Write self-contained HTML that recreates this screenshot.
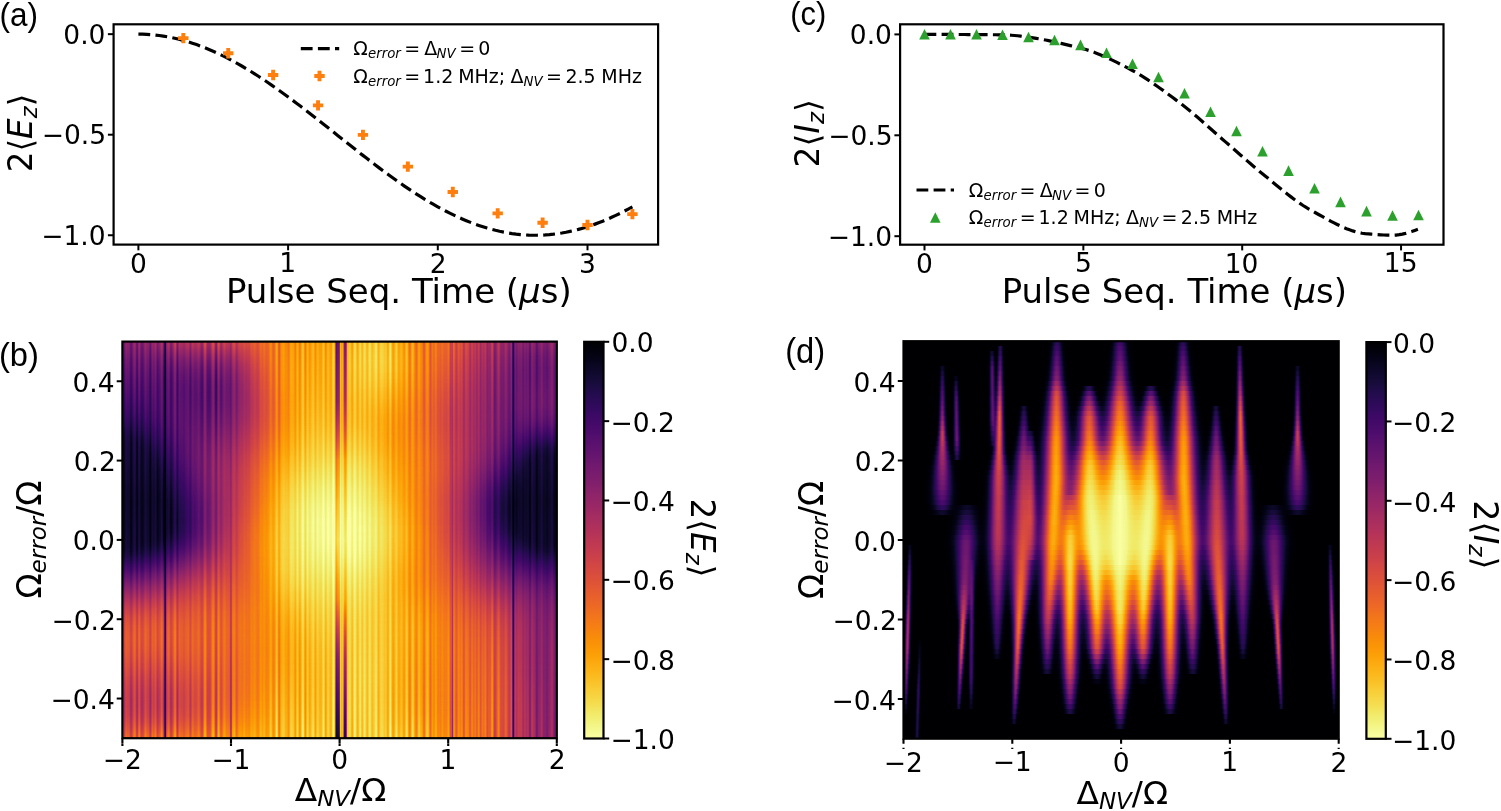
<!DOCTYPE html>
<html><head><meta charset="utf-8"><title>Figure</title>
<style>html,body{margin:0;padding:0;background:#fff;overflow:hidden}svg{display:block}text{font-family:"DejaVu Sans","Liberation Sans",sans-serif;fill:#000}</style>
</head><body>
<svg width="1501" height="811" viewBox="0 0 1501 811">
<rect width="1501" height="811" fill="#fff"/>
<polyline points="138.40,34.15 142.55,34.20 146.70,34.37 150.85,34.64 155.01,35.02 159.16,35.51 163.31,36.10 167.46,36.80 171.61,37.61 175.76,38.52 179.91,39.53 184.06,40.65 188.22,41.87 192.37,43.19 196.52,44.61 200.67,46.13 204.82,47.74 208.97,49.45 213.12,51.25 217.28,53.14 221.43,55.11 225.58,57.18 229.73,59.32 233.88,61.55 238.03,63.86 242.18,66.24 246.33,68.70 250.49,71.23 254.64,73.83 258.79,76.49 262.94,79.22 267.09,82.00 271.24,84.84 275.39,87.74 279.55,90.69 283.70,93.69 287.85,96.72 292.00,99.81 296.15,102.92 300.30,106.08 304.45,109.26 308.61,112.47 312.76,115.71 316.91,118.96 321.06,122.24 325.21,125.52 329.36,128.82 333.51,132.12 337.66,135.43 341.82,138.73 345.97,142.03 350.12,145.32 354.27,148.60 358.42,151.87 362.57,155.12 366.72,158.34 370.88,161.54 375.03,164.71 379.18,167.85 383.33,170.95 387.48,174.02 391.63,177.04 395.78,180.01 399.93,182.94 404.09,185.81 408.24,188.63 412.39,191.39 416.54,194.09 420.69,196.72 424.84,199.29 428.99,201.79 433.15,204.22 437.30,206.57 441.45,208.84 445.60,211.03 449.75,213.14 453.90,215.17 458.05,217.10 462.20,218.95 466.36,220.71 470.51,222.38 474.66,223.95 478.81,225.42 482.96,226.80 487.11,228.08 491.26,229.25 495.42,230.32 499.57,231.29 503.72,232.16 507.87,232.92 512.02,233.57 516.17,234.12 520.32,234.56 524.48,234.89 528.63,235.12 532.78,235.23 536.93,235.24 541.08,235.14 545.23,234.93 549.38,234.61 553.53,234.18 557.69,233.65 561.84,233.01 565.99,232.26 570.14,231.40 574.29,230.45 578.44,229.39 582.59,228.22 586.75,226.96 590.90,225.59 595.05,224.13 599.20,222.57 603.35,220.92 607.50,219.17 611.65,217.33 615.80,215.41 619.96,213.39 624.11,211.29 628.26,209.11 632.41,206.85" fill="none" stroke="#000" stroke-width="3.2" stroke-dasharray="11.8 5.3"/><path d="M181.36 32.97h3.9v3.25h3.25v3.9h-3.25v3.25h-3.9v-3.25h-3.25v-3.9h3.25z" fill="#ff7f0e"/><path d="M226.27 48.05h3.9v3.25h3.25v3.9h-3.25v3.25h-3.9v-3.25h-3.25v-3.9h3.25z" fill="#ff7f0e"/><path d="M271.18 69.77h3.9v3.25h3.25v3.9h-3.25v3.25h-3.9v-3.25h-3.25v-3.9h3.25z" fill="#ff7f0e"/><path d="M316.09 100.14h3.9v3.25h3.25v3.9h-3.25v3.25h-3.9v-3.25h-3.25v-3.9h3.25z" fill="#ff7f0e"/><path d="M361.00 129.70h3.9v3.25h3.25v3.9h-3.25v3.25h-3.9v-3.25h-3.25v-3.9h3.25z" fill="#ff7f0e"/><path d="M405.91 161.47h3.9v3.25h3.25v3.9h-3.25v3.25h-3.9v-3.25h-3.25v-3.9h3.25z" fill="#ff7f0e"/><path d="M450.82 186.81h3.9v3.25h3.25v3.9h-3.25v3.25h-3.9v-3.25h-3.25v-3.9h3.25z" fill="#ff7f0e"/><path d="M495.73 208.13h3.9v3.25h3.25v3.9h-3.25v3.25h-3.9v-3.25h-3.25v-3.9h3.25z" fill="#ff7f0e"/><path d="M540.64 217.58h3.9v3.25h3.25v3.9h-3.25v3.25h-3.9v-3.25h-3.25v-3.9h3.25z" fill="#ff7f0e"/><path d="M585.55 219.79h3.9v3.25h3.25v3.9h-3.25v3.25h-3.9v-3.25h-3.25v-3.9h3.25z" fill="#ff7f0e"/><path d="M630.46 208.93h3.9v3.25h3.25v3.9h-3.25v3.25h-3.9v-3.25h-3.25v-3.9h3.25z" fill="#ff7f0e"/><rect x="113.60" y="24.30" width="544.50" height="220.30" fill="none" stroke="#000" stroke-width="2.2"/><line x1="138.40" y1="244.60" x2="138.40" y2="250.30" stroke="#000" stroke-width="2.0"/><line x1="288.10" y1="244.60" x2="288.10" y2="250.30" stroke="#000" stroke-width="2.0"/><line x1="437.80" y1="244.60" x2="437.80" y2="250.30" stroke="#000" stroke-width="2.0"/><line x1="587.50" y1="244.60" x2="587.50" y2="250.30" stroke="#000" stroke-width="2.0"/><line x1="113.60" y1="34.15" x2="107.90" y2="34.15" stroke="#000" stroke-width="2.0"/><line x1="113.60" y1="134.70" x2="107.90" y2="134.70" stroke="#000" stroke-width="2.0"/><line x1="113.60" y1="235.25" x2="107.90" y2="235.25" stroke="#000" stroke-width="2.0"/><line x1="300.8" y1="48.6" x2="339.2" y2="48.6" stroke="#000" stroke-width="3.2" stroke-dasharray="11.8 5.3"/><path d="M317.55 70.80h3.9v3.25h3.25v3.9h-3.25v3.25h-3.9v-3.25h-3.25v-3.9h3.25z" fill="#ff7f0e"/><polyline points="924.50,34.40 927.60,34.40 930.71,34.40 933.81,34.41 936.91,34.41 940.02,34.42 943.12,34.43 946.22,34.44 949.32,34.45 952.43,34.46 955.53,34.47 958.63,34.49 961.74,34.50 964.84,34.52 967.94,34.54 971.05,34.56 974.15,34.58 977.25,34.60 980.36,34.63 983.46,34.65 986.56,34.68 989.66,34.70 992.77,34.73 995.87,34.76 998.97,34.79 1002.08,34.83 1005.18,34.93 1008.28,35.07 1011.39,35.26 1014.49,35.50 1017.59,35.78 1020.70,36.11 1023.80,36.48 1026.90,36.89 1030.00,37.33 1033.11,37.81 1036.21,38.33 1039.31,38.87 1042.42,39.45 1045.52,40.05 1048.62,40.68 1051.73,41.33 1054.83,42.00 1057.93,42.69 1061.04,43.40 1064.14,44.13 1067.24,44.87 1070.34,45.62 1073.45,46.38 1076.55,47.14 1079.65,47.92 1082.76,48.70 1085.86,49.55 1088.96,50.50 1092.07,51.55 1095.17,52.68 1098.27,53.89 1101.37,55.17 1104.48,56.52 1107.58,57.92 1110.68,59.38 1113.79,60.88 1116.89,62.42 1119.99,63.99 1123.10,65.58 1126.20,67.19 1129.30,68.81 1132.41,70.48 1135.51,72.23 1138.61,74.05 1141.71,75.93 1144.82,77.89 1147.92,79.90 1151.02,81.96 1154.13,84.07 1157.23,86.23 1160.33,88.43 1163.44,90.67 1166.54,92.94 1169.64,95.23 1172.75,97.55 1175.85,99.89 1178.95,102.23 1182.05,104.59 1185.16,107.00 1188.26,109.49 1191.36,112.04 1194.47,114.66 1197.57,117.32 1200.67,120.02 1203.78,122.75 1206.88,125.50 1209.98,128.26 1213.09,131.01 1216.19,133.76 1219.29,136.48 1222.39,139.17 1225.50,141.85 1228.60,144.55 1231.70,147.27 1234.81,150.00 1237.91,152.73 1241.01,155.46 1244.12,158.18 1247.22,160.89 1250.32,163.58 1253.43,166.24 1256.53,168.87 1259.63,171.45 1262.73,173.99 1265.84,176.50 1268.94,179.03 1272.04,181.58 1275.15,184.14 1278.25,186.70 1281.35,189.24 1284.46,191.75 1287.56,194.21 1290.66,196.63 1293.77,198.98 1296.87,201.25 1299.97,203.43 1303.07,205.51 1306.18,207.47 1309.28,209.31 1312.38,211.02 1315.49,212.75 1318.59,214.48 1321.69,216.22 1324.80,217.95 1327.90,219.65 1331.00,221.31 1334.11,222.93 1337.21,224.48 1340.31,225.96 1343.41,227.36 1346.52,228.65 1349.62,229.84 1352.72,230.90 1355.83,231.82 1358.93,232.60 1362.03,233.21 1365.14,233.65 1368.24,233.93 1371.34,234.19 1374.45,234.43 1377.55,234.64 1380.65,234.83 1383.75,234.98 1386.86,235.10 1389.96,235.17 1393.06,235.19 1396.17,235.05 1399.27,234.69 1402.37,234.13 1405.48,233.40 1408.58,232.53 1411.68,231.55 1414.79,230.47 1417.89,229.34" fill="none" stroke="#000" stroke-width="3.2" stroke-dasharray="11.8 5.3"/><path d="M924.50 29.00L929.80 39.60L919.20 39.60z" fill="#2ca02c"/><path d="M950.50 29.00L955.80 39.60L945.20 39.60z" fill="#2ca02c"/><path d="M976.50 29.00L981.80 39.60L971.20 39.60z" fill="#2ca02c"/><path d="M1002.50 29.44L1007.80 40.04L997.20 40.04z" fill="#2ca02c"/><path d="M1028.50 31.64L1033.80 42.24L1023.20 42.24z" fill="#2ca02c"/><path d="M1054.51 34.72L1059.81 45.32L1049.21 45.32z" fill="#2ca02c"/><path d="M1080.51 39.55L1085.81 50.15L1075.21 50.15z" fill="#2ca02c"/><path d="M1106.51 47.47L1111.81 58.07L1101.21 58.07z" fill="#2ca02c"/><path d="M1132.51 58.46L1137.81 69.06L1127.21 69.06z" fill="#2ca02c"/><path d="M1158.51 71.66L1163.81 82.26L1153.21 82.26z" fill="#2ca02c"/><path d="M1184.51 87.93L1189.81 98.53L1179.21 98.53z" fill="#2ca02c"/><path d="M1210.51 106.40L1215.81 117.00L1205.21 117.00z" fill="#2ca02c"/><path d="M1236.51 125.75L1241.81 136.35L1231.21 136.35z" fill="#2ca02c"/><path d="M1262.52 145.98L1267.82 156.58L1257.22 156.58z" fill="#2ca02c"/><path d="M1288.52 165.32L1293.82 175.92L1283.22 175.92z" fill="#2ca02c"/><path d="M1314.52 182.91L1319.82 193.51L1309.22 193.51z" fill="#2ca02c"/><path d="M1340.52 196.55L1345.82 207.15L1335.22 207.15z" fill="#2ca02c"/><path d="M1366.52 205.78L1371.82 216.38L1361.22 216.38z" fill="#2ca02c"/><path d="M1392.52 210.18L1397.82 220.78L1387.22 220.78z" fill="#2ca02c"/><path d="M1418.52 209.74L1423.82 220.34L1413.22 220.34z" fill="#2ca02c"/><rect x="900.10" y="24.30" width="543.40" height="220.40" fill="none" stroke="#000" stroke-width="2.2"/><line x1="924.50" y1="244.70" x2="924.50" y2="250.40" stroke="#000" stroke-width="2.0"/><line x1="1083.35" y1="244.70" x2="1083.35" y2="250.40" stroke="#000" stroke-width="2.0"/><line x1="1242.20" y1="244.70" x2="1242.20" y2="250.40" stroke="#000" stroke-width="2.0"/><line x1="1401.05" y1="244.70" x2="1401.05" y2="250.40" stroke="#000" stroke-width="2.0"/><line x1="900.10" y1="34.40" x2="894.40" y2="34.40" stroke="#000" stroke-width="2.0"/><line x1="900.10" y1="135.30" x2="894.40" y2="135.30" stroke="#000" stroke-width="2.0"/><line x1="900.10" y1="236.20" x2="894.40" y2="236.20" stroke="#000" stroke-width="2.0"/><line x1="916.5" y1="190.0" x2="954.0" y2="190.0" stroke="#000" stroke-width="3.2" stroke-dasharray="11.8 5.3"/><path d="M935.30 212.20L940.60 222.80L930.00 222.80z" fill="#2ca02c"/><text font-size="19.0"><tspan x="353.28" y="54.90">Ω</tspan><tspan x="368.09" y="57.90" font-style="oblique" font-size="13.3">error</tspan><tspan x="404.19" y="54.90">=</tspan><tspan x="424.25" y="54.90">Δ</tspan><tspan x="436.54" y="57.90" font-style="oblique" font-size="13.3">NV</tspan><tspan x="459.19" y="54.90">=</tspan><tspan x="478.25" y="54.90">0</tspan></text><text font-size="19.0"><tspan x="353.28" y="82.60">Ω</tspan><tspan x="368.09" y="85.60" font-style="oblique" font-size="13.3">error</tspan><tspan x="404.29" y="82.60">=</tspan><tspan x="423.11" y="82.60">1.2</tspan><tspan x="458.14" y="82.60">MHz;</tspan><tspan x="510.55" y="82.60">Δ</tspan><tspan x="523.54" y="85.60" font-style="oblique" font-size="13.3">NV</tspan><tspan x="545.99" y="82.60">=</tspan><tspan x="565.41" y="82.60">2.5</tspan><tspan x="601.24" y="82.60">MHz</tspan></text><text font-size="19.0"><tspan x="968.68" y="196.64">Ω</tspan><tspan x="983.49" y="199.64" font-style="oblique" font-size="13.3">error</tspan><tspan x="1019.59" y="196.64">=</tspan><tspan x="1039.65" y="196.64">Δ</tspan><tspan x="1051.94" y="199.64" font-style="oblique" font-size="13.3">NV</tspan><tspan x="1074.59" y="196.64">=</tspan><tspan x="1093.65" y="196.64">0</tspan></text><text font-size="19.0"><tspan x="968.68" y="224.34">Ω</tspan><tspan x="983.49" y="227.34" font-style="oblique" font-size="13.3">error</tspan><tspan x="1019.69" y="224.34">=</tspan><tspan x="1038.51" y="224.34">1.2</tspan><tspan x="1073.54" y="224.34">MHz;</tspan><tspan x="1125.95" y="224.34">Δ</tspan><tspan x="1138.94" y="227.34" font-style="oblique" font-size="13.3">NV</tspan><tspan x="1161.39" y="224.34">=</tspan><tspan x="1180.81" y="224.34">2.5</tspan><tspan x="1216.64" y="224.34">MHz</tspan></text><filter id="blb" filterUnits="userSpaceOnUse" x="88.0" y="307.0" width="502.4" height="464.6" color-interpolation-filters="sRGB"><feGaussianBlur stdDeviation="3.5 4.5"/></filter><filter id="cmb" filterUnits="userSpaceOnUse" x="122.4" y="341.6" width="434.4" height="396.6" color-interpolation-filters="sRGB"><feComponentTransfer><feFuncR type="table" tableValues="0.0015 0.0023 0.0033 0.0045 0.006 0.0077 0.0096 0.0117 0.014 0.0166 0.0194 0.0224 0.0258 0.0294 0.0334 0.0377 0.0423 0.0469 0.0516 0.0564 0.0613 0.0663 0.0714 0.0766 0.082 0.0874 0.093 0.0987 0.1046 0.1105 0.1167 0.1229 0.1293 0.1358 0.1424 0.1491 0.1558 0.1627 0.1696 0.1765 0.1834 0.1904 0.1973 0.2042 0.2111 0.2179 0.2248 0.2315 0.2383 0.245 0.2516 0.2582 0.2648 0.2713 0.2778 0.2843 0.2908 0.2972 0.3036 0.3099 0.3163 0.3226 0.3289 0.3352 0.3415 0.3478 0.354 0.3603 0.3665 0.3728 0.379 0.3852 0.3915 0.3977 0.4039 0.4101 0.4163 0.4225 0.4288 0.435 0.4412 0.4474 0.4537 0.4599 0.4661 0.4723 0.4786 0.4848 0.491 0.4973 0.5035 0.5097 0.516 0.5222 0.5284 0.5347 0.5409 0.5472 0.5534 0.5596 0.5659 0.5721 0.5783 0.5845 0.5907 0.5969 0.6031 0.6093 0.6155 0.6217 0.6278 0.634 0.6401 0.6463 0.6524 0.6585 0.6645 0.6706 0.6766 0.6827 0.6887 0.6946 0.7006 0.7065 0.7124 0.7183 0.7241 0.7299 0.7357 0.7414 0.7471 0.7528 0.7584 0.764 0.7696 0.7751 0.7805 0.7859 0.7913 0.7966 0.8019 0.8071 0.8122 0.8173 0.8224 0.8274 0.8323 0.8372 0.842 0.8467 0.8514 0.856 0.8605 0.865 0.8694 0.8737 0.878 0.8822 0.8863 0.8903 0.8943 0.8982 0.902 0.9057 0.9094 0.913 0.9165 0.9199 0.9232 0.9265 0.9296 0.9327 0.9357 0.9387 0.9415 0.9443 0.947 0.9496 0.9521 0.9545 0.9569 0.9591 0.9613 0.9634 0.9654 0.9673 0.9692 0.9709 0.9726 0.9742 0.9757 0.9771 0.9784 0.9797 0.9808 0.9819 0.9829 0.9838 0.9846 0.9853 0.986 0.9865 0.987 0.9873 0.9876 0.9878 0.9879 0.9879 0.9879 0.9877 0.9875 0.9871 0.9867 0.9862 0.9856 0.9849 0.9841 0.9832 0.9822 0.9812 0.98 0.9788 0.9775 0.9761 0.9746 0.9731 0.9715 0.9698 0.968 0.9662 0.9644 0.9625 0.9606 0.9587 0.9568 0.955 0.9532 0.9515 0.95 0.9487 0.9476 0.9468 0.9464 0.9464 0.9469 0.9479 0.9495 0.9517 0.9545 0.9579 0.9618 0.9662 0.9712 0.9765 0.9823 0.9884"/><feFuncG type="table" tableValues="0.0005 0.0013 0.0022 0.0034 0.0047 0.0061 0.0077 0.0094 0.0112 0.0131 0.0151 0.0172 0.0193 0.0215 0.0237 0.0259 0.0281 0.0303 0.0325 0.0346 0.0366 0.0385 0.0403 0.0419 0.0433 0.0446 0.0456 0.0464 0.047 0.0474 0.0476 0.0475 0.0473 0.0469 0.0462 0.0455 0.0446 0.0436 0.0425 0.0414 0.0403 0.0393 0.0384 0.0376 0.037 0.0366 0.0364 0.0364 0.0366 0.0371 0.0377 0.0386 0.0396 0.0409 0.0424 0.0439 0.0456 0.0475 0.0494 0.0514 0.0535 0.0556 0.0578 0.0601 0.0623 0.0646 0.0669 0.0692 0.0716 0.0739 0.0763 0.0786 0.0809 0.0833 0.0856 0.0879 0.0902 0.0925 0.0948 0.0971 0.0993 0.1016 0.1038 0.1061 0.1083 0.1105 0.1128 0.115 0.1172 0.1194 0.1216 0.1238 0.126 0.1281 0.1303 0.1325 0.1347 0.1369 0.1391 0.1413 0.1436 0.1458 0.148 0.1503 0.1526 0.1548 0.1572 0.1595 0.1618 0.1642 0.1666 0.169 0.1714 0.1739 0.1764 0.179 0.1815 0.1842 0.1868 0.1895 0.1922 0.195 0.1979 0.2007 0.2037 0.2066 0.2097 0.2128 0.2159 0.2191 0.2224 0.2257 0.2291 0.2326 0.2361 0.2397 0.2433 0.2471 0.2509 0.2547 0.2587 0.2627 0.2668 0.271 0.2752 0.2795 0.2839 0.2884 0.2929 0.2976 0.3023 0.307 0.3119 0.3168 0.3218 0.3269 0.3321 0.3373 0.3426 0.348 0.3534 0.3589 0.3645 0.3701 0.3759 0.3816 0.3875 0.3934 0.3994 0.4054 0.4115 0.4176 0.4238 0.4301 0.4364 0.4428 0.4492 0.4557 0.4622 0.4687 0.4754 0.482 0.4887 0.4955 0.5022 0.5091 0.5159 0.5229 0.5298 0.5368 0.5438 0.5508 0.5579 0.5651 0.5722 0.5794 0.5866 0.5938 0.6011 0.6084 0.6158 0.6231 0.6305 0.6379 0.6453 0.6528 0.6603 0.6677 0.6753 0.6828 0.6904 0.6979 0.7055 0.7132 0.7208 0.7284 0.7361 0.7438 0.7514 0.7591 0.7668 0.7745 0.7823 0.79 0.7977 0.8054 0.8131 0.8208 0.8285 0.8362 0.8438 0.8515 0.8591 0.8666 0.8741 0.8816 0.8889 0.8962 0.9034 0.9105 0.9174 0.9242 0.9308 0.9372 0.9433 0.9493 0.9551 0.9606 0.9659 0.971 0.9759 0.9807 0.9853 0.9898 0.9941 0.9984"/><feFuncB type="table" tableValues="0.0139 0.0186 0.0242 0.0309 0.0386 0.0468 0.0551 0.0635 0.0719 0.0803 0.0888 0.0973 0.1059 0.1146 0.1234 0.1322 0.1411 0.1502 0.1593 0.1684 0.1776 0.187 0.1964 0.2058 0.2153 0.2248 0.2344 0.2439 0.2534 0.2629 0.2723 0.2816 0.2908 0.2998 0.3086 0.3171 0.3253 0.3333 0.3409 0.3481 0.355 0.3614 0.3675 0.3732 0.3786 0.3835 0.3881 0.3924 0.3964 0.4 0.4034 0.4065 0.4093 0.412 0.4144 0.4166 0.4186 0.4205 0.4222 0.4237 0.4251 0.4264 0.4275 0.4285 0.4294 0.4302 0.4309 0.4315 0.432 0.4324 0.4327 0.433 0.4331 0.4332 0.4332 0.4331 0.4329 0.4327 0.4324 0.432 0.4316 0.4311 0.4305 0.4298 0.4291 0.4283 0.4275 0.4265 0.4256 0.4245 0.4234 0.4222 0.4209 0.4195 0.4181 0.4167 0.4151 0.4135 0.4118 0.4101 0.4083 0.4064 0.4044 0.4024 0.4003 0.3981 0.3959 0.3936 0.3912 0.3888 0.3863 0.3837 0.3811 0.3784 0.3756 0.3727 0.3698 0.3669 0.3638 0.3608 0.3576 0.3544 0.3511 0.3478 0.3444 0.3409 0.3374 0.3339 0.3302 0.3266 0.3229 0.3191 0.3153 0.3114 0.3075 0.3035 0.2995 0.2955 0.2914 0.2873 0.2831 0.2789 0.2747 0.2704 0.2661 0.2617 0.2574 0.253 0.2486 0.2441 0.2396 0.2351 0.2306 0.2261 0.2215 0.2169 0.2123 0.2076 0.203 0.1983 0.1936 0.1889 0.1841 0.1794 0.1746 0.1698 0.1649 0.1601 0.1552 0.1503 0.1454 0.1404 0.1354 0.1304 0.1254 0.1204 0.1153 0.1102 0.105 0.0999 0.0947 0.0895 0.0843 0.0791 0.0739 0.0687 0.0635 0.0584 0.0533 0.0484 0.0436 0.0391 0.0349 0.0314 0.0285 0.0262 0.0247 0.0238 0.0236 0.0242 0.0256 0.0278 0.0309 0.0349 0.0399 0.0456 0.0517 0.0583 0.0653 0.0725 0.08 0.0877 0.0957 0.1039 0.1122 0.1208 0.1295 0.1385 0.1476 0.1569 0.1664 0.176 0.1859 0.196 0.2063 0.2169 0.2277 0.2387 0.25 0.2615 0.2734 0.2855 0.298 0.3108 0.324 0.3375 0.3514 0.3656 0.3803 0.3953 0.4107 0.4264 0.4424 0.4586 0.475 0.4914 0.5079 0.5242 0.5404 0.5563 0.5719 0.5872 0.6022 0.6168 0.631 0.6449"/></feComponentTransfer></filter><linearGradient id="amb" x1="0" y1="341.6" x2="0" y2="738.2" gradientUnits="userSpaceOnUse"><stop offset="0.000" stop-color="#cccccc"/><stop offset="0.200" stop-color="#8c8c8c"/><stop offset="0.400" stop-color="#595959"/><stop offset="0.600" stop-color="#737373"/><stop offset="0.800" stop-color="#b3b3b3"/><stop offset="1.000" stop-color="#ffffff"/></linearGradient><linearGradient id="dkb0" x1="0" y1="341.6" x2="0" y2="738.2" gradientUnits="userSpaceOnUse"><stop offset="0.000" stop-color="#262626"/><stop offset="1.000" stop-color="#262626"/></linearGradient><linearGradient id="dkb1" x1="0" y1="341.6" x2="0" y2="738.2" gradientUnits="userSpaceOnUse"><stop offset="0.000" stop-color="#262626"/><stop offset="1.000" stop-color="#262626"/></linearGradient><linearGradient id="dkb2" x1="0" y1="341.6" x2="0" y2="738.2" gradientUnits="userSpaceOnUse"><stop offset="0.000" stop-color="#595959"/><stop offset="0.150" stop-color="#737373"/><stop offset="0.300" stop-color="#cccccc"/><stop offset="0.500" stop-color="#ebebeb"/><stop offset="0.650" stop-color="#cccccc"/><stop offset="0.800" stop-color="#666666"/><stop offset="1.000" stop-color="#191919"/></linearGradient><linearGradient id="dkb3" x1="0" y1="341.6" x2="0" y2="738.2" gradientUnits="userSpaceOnUse"><stop offset="0.000" stop-color="#666666"/><stop offset="0.150" stop-color="#8c8c8c"/><stop offset="0.300" stop-color="#d9d9d9"/><stop offset="0.500" stop-color="#f2f2f2"/><stop offset="0.650" stop-color="#e0e0e0"/><stop offset="0.800" stop-color="#808080"/><stop offset="1.000" stop-color="#262626"/></linearGradient><linearGradient id="dkb4" x1="0" y1="341.6" x2="0" y2="738.2" gradientUnits="userSpaceOnUse"><stop offset="0.000" stop-color="#d9d9d9"/><stop offset="0.500" stop-color="#d9d9d9"/><stop offset="1.000" stop-color="#999999"/></linearGradient><linearGradient id="dkb5" x1="0" y1="341.6" x2="0" y2="738.2" gradientUnits="userSpaceOnUse"><stop offset="0.000" stop-color="#cccccc"/><stop offset="0.500" stop-color="#cccccc"/><stop offset="1.000" stop-color="#808080"/></linearGradient><g filter="url(#cmb)"><g filter="url(#blb)" fill="none" shape-rendering="crispEdges"><rect x="98.0" y="317.0" width="486" height="448" fill="#737373"/><path stroke="#000000" stroke-width="8" d="M98 441h42M98 449h48M98 457h54M530 457h54M98 465h60M524 465h60M98 473h60M524 473h60M98 481h66M518 481h66M98 489h66M518 489h66M98 497h66M512 497h72M98 505h72M512 505h72M98 513h72M512 513h72M98 521h72M512 521h72M98 529h72M512 529h72M98 537h66M518 537h66M98 545h54M530 545h54"/><path stroke="#010101" stroke-width="8" d="M146 449h6M542 449h6M518 473h6M512 489h6M152 545h6"/><path stroke="#020202" stroke-width="8" d="M140 441h6M548 449h6M152 457h6M158 473h6M164 497h6M506 505h6M506 513h6M170 521h6M164 537h6M524 545h6M122 553h6"/><path stroke="#030303" stroke-width="8" d="M122 433h12M536 449h6M170 513h6M506 521h6M170 529h6M98 553h24M128 553h6"/><path stroke="#040404" stroke-width="8" d="M98 433h24M524 457h6M164 489h6M134 553h6M542 553h12"/><path stroke="#050505" stroke-width="8" d="M134 433h6M158 465h6M512 481h6M506 497h6M158 545h6M536 553h6"/><path stroke="#060606" stroke-width="8" d="M146 441h6M554 449h30M518 465h6M170 505h6M512 537h6M140 553h6M554 553h30"/><path stroke="#070707" stroke-width="8" d="M152 449h6M530 449h6M164 481h6M506 529h6M518 545h6"/><path stroke="#080808" stroke-width="8" d="M140 433h6M506 489h6M170 537h6M530 553h6"/><path stroke="#090909" stroke-width="8" d="M122 425h12M158 457h6M164 473h6M170 497h6M146 553h6"/><path stroke="#0a0a0a" stroke-width="8" d="M98 425h24M512 473h6M500 505h6M500 513h6M176 521h6M164 545h6"/><path stroke="#0b0b0b" stroke-width="8" d="M134 425h6M170 489h6M176 513h6M176 529h6"/><path stroke="#0c0c0c" stroke-width="8" d="M146 433h6M152 441h6M500 521h6M152 553h6M524 553h6"/><path stroke="#0d0d0d" stroke-width="8" d="M524 449h6M518 457h6M164 465h6M506 481h6M500 497h6M506 537h6M512 545h6"/><path stroke="#0e0e0e" stroke-width="8" d="M140 425h6M542 441h12M158 449h6M170 481h6M176 505h6"/><path stroke="#0f0f0f" stroke-width="8" d="M98 417h36M536 441h6M542 561h6"/><path stroke="#101010" stroke-width="8" d="M134 417h6M512 465h6M500 529h6M176 537h6M98 561h36M548 561h6"/><path stroke="#111111" stroke-width="8" d="M152 433h6M554 441h30M164 457h6M500 489h6M176 497h6M170 545h6M158 553h6M518 553h6M134 561h6M536 561h6"/><path stroke="#121212" stroke-width="8" d="M146 425h6M158 441h6M530 441h6M170 473h6M554 561h30"/><path stroke="#131313" stroke-width="8" d="M98 409h36M140 417h6M506 473h6M182 521h6M530 561h6"/><path stroke="#141414" stroke-width="8" d="M134 409h6M518 449h6M176 489h6M182 513h6M182 529h6M140 561h6"/><path stroke="#151515" stroke-width="8" d="M164 449h6M170 465h6M494 505h6M494 513h6M506 545h6"/><path stroke="#161616" stroke-width="8" d="M98 401h36M140 409h6M146 417h6M152 425h6M512 457h6M494 521h6M500 537h6M164 553h6"/><path stroke="#171717" stroke-width="8" d="M158 433h6M524 441h6M176 481h6M500 481h6M182 505h6M512 553h6M146 561h6M524 561h6"/><path stroke="#181818" stroke-width="8" d="M134 401h6M494 497h6M176 545h6"/><path stroke="#191919" stroke-width="8" d="M98 393h30M140 401h6M146 409h6M164 441h6M170 457h6M182 537h6"/><path stroke="#1a1a1a" stroke-width="8" d="M128 393h12M152 417h6M506 465h6M176 473h6M182 497h6M494 529h6"/><path stroke="#1b1b1b" stroke-width="8" d="M146 401h6M158 425h6M536 433h18M152 561h6M542 569h12"/><path stroke="#1c1c1c" stroke-width="8" d="M98 385h30M140 393h6M152 409h6M170 449h6M494 489h6M518 561h6"/><path stroke="#1d1d1d" stroke-width="8" d="M128 385h12M146 393h6M152 401h6M158 417h6M164 433h6M530 433h6M554 433h30M518 441h6M512 449h6M182 489h6M170 553h6M536 569h6M554 569h30"/><path stroke="#1e1e1e" stroke-width="8" d="M140 385h6M152 393h6M176 465h6M500 473h6M188 521h6M500 545h6"/><path stroke="#1f1f1f" stroke-width="8" d="M98 377h30M146 385h6M158 393h6M158 401h6M158 409h6M170 441h6M188 513h6M188 529h6M506 553h6M98 569h36M530 569h6"/><path stroke="#202020" stroke-width="8" d="M128 377h12M152 385h12M164 425h6M506 457h6M182 481h6M494 537h6M158 561h6"/><path stroke="#212121" stroke-width="8" d="M140 377h12M164 385h6M164 393h6M164 401h6M164 409h6M164 417h6M524 433h6M176 457h6M188 505h6M488 513h6M182 545h6M134 569h6"/><path stroke="#222222" stroke-width="8" d="M152 377h12M170 385h18M170 393h18M170 401h6M170 433h6M494 481h6M488 505h6M512 561h6"/><path stroke="#232323" stroke-width="8" d="M98 369h36M164 377h12M188 385h12M188 393h18M176 401h6M176 449h6M488 521h6M188 537h6M140 569h6M524 569h6"/><path stroke="#242424" stroke-width="8" d="M134 369h12M176 377h12M200 385h6M206 393h6M182 401h18M170 409h6M170 417h6M170 425h6M512 441h6M182 473h6M488 497h6"/><path stroke="#252525" stroke-width="8" d="M146 369h12M188 377h6M206 385h6M200 401h6M176 409h6M518 433h6M176 441h6M500 465h6M188 497h6M176 553h6M164 561h6"/><path stroke="#262626" stroke-width="8" d="M536 361h6M158 369h12M536 369h6M194 377h6M212 385h6M212 393h6M206 401h6M182 409h6M536 425h18M506 449h6M182 465h6M488 529h6"/><path stroke="#272727" stroke-width="8" d="M98 361h36M530 361h6M170 369h6M530 369h6M542 369h6M200 377h6M188 409h12M176 417h6M176 425h6M530 425h6M554 425h30M176 433h6M188 489h6M494 545h6M500 553h6M146 569h6M542 577h12"/><path stroke="#282828" stroke-width="8" d="M134 361h12M542 361h6M176 369h6M206 377h6M530 377h12M212 401h6M200 409h6M182 417h6M488 489h6M518 569h6M536 577h6M554 577h30"/><path stroke="#292929" stroke-width="8" d="M146 361h6M182 369h6M524 369h6M212 377h6M542 377h6M218 385h6M218 393h6M206 409h6M188 417h6M524 425h6M182 457h6M494 473h6M194 521h6M506 561h6"/><path stroke="#2a2a2a" stroke-width="8" d="M536 353h6M152 361h6M524 361h6M188 369h6M524 377h6M194 417h6M182 425h6M512 433h6M182 449h6M500 457h6M188 481h6M194 513h6M194 529h6"/><path stroke="#2b2b2b" stroke-width="8" d="M530 353h6M542 353h6M158 361h6M194 369h6M548 369h6M530 385h12M218 401h6M212 409h6M518 425h6M182 433h6M182 441h6M506 441h6M488 537h6M188 545h6M152 569h6M530 577h6"/><path stroke="#2c2c2c" stroke-width="8" d="M548 361h6M200 369h6M518 369h6M218 377h6M548 377h6M524 385h6M542 385h6M200 417h6M188 425h6M194 505h6M170 561h6"/><path stroke="#2d2d2d" stroke-width="8" d="M98 353h42M524 353h6M164 361h6M518 377h6M206 417h6M530 417h18M188 473h6M182 553h6"/><path stroke="#2e2e2e" stroke-width="8" d="M140 353h6M170 361h6M518 361h6M206 369h6M518 385h6M548 385h6M224 393h6M524 393h18M524 417h6M548 417h36M194 425h6M512 425h6M188 433h6M488 481h6M194 537h6M512 569h6"/><path stroke="#2f2f2f" stroke-width="8" d="M212 369h6M224 385h6M542 393h6M218 409h6M518 417h6M506 433h6M500 449h6M188 465h6M494 465h6M194 497h6M482 505h6M482 513h6M524 577h6M542 585h12"/><path stroke="#303030" stroke-width="8" d="M146 353h6M548 353h6M176 361h6M512 377h6M518 393h6M224 401h6M524 401h18M524 409h18M212 417h6M200 425h6M188 441h6M188 457h6M482 521h6M494 553h6M158 569h6M98 577h36"/><path stroke="#313131" stroke-width="8" d="M518 353h6M182 361h6M512 369h6M554 369h30M224 377h6M554 377h30M512 385h6M548 393h6M518 401h6M542 401h6M518 409h6M542 409h12M512 417h6M194 433h6M188 449h6M500 561h6M536 585h6M554 585h30"/><path stroke="#323232" stroke-width="8" d="M536 345h6M152 353h6M512 361h6M218 369h6M554 385h30M512 393h6M512 401h6M548 401h6M512 409h6M554 409h30M206 425h6M506 425h6M194 489h6M482 497h6M488 545h6M134 577h6M542 737h6M542 745h6M542 753h6M542 761h6"/><path stroke="#333333" stroke-width="8" d="M128 345h6M530 345h6M188 361h6M554 361h30M554 393h30M218 417h6M500 441h6M482 529h6M176 561h6M542 729h6M548 737h6M548 745h6M548 753h6M548 761h6"/><path stroke="#343434" stroke-width="8" d="M98 345h30M134 345h6M542 345h6M158 353h6M194 361h6M554 401h30M224 409h6M506 417h6M200 433h6M194 441h6M494 457h6M488 473h6M194 481h6M140 577h6M518 577h6M530 585h6M542 721h6M548 729h6"/><path stroke="#353535" stroke-width="8" d="M524 345h6M200 361h6M506 377h6M506 385h6M506 393h6M506 401h6M506 409h6M212 425h6M500 433h6M482 489h6M200 513h6M200 521h6M194 545h6M164 569h6M506 569h6M542 593h12M542 713h6M548 721h6M536 737h6M536 745h6M536 753h6M536 761h6"/><path stroke="#363636" stroke-width="8" d="M128 321h6M128 329h6M128 337h6M140 345h6M164 353h6M512 353h6M506 369h6M230 385h6M230 393h6M194 449h6M194 473h6M200 529h6M188 553h6M542 705h6M548 713h6"/><path stroke="#373737" stroke-width="8" d="M122 321h6M134 321h6M530 321h12M122 329h6M134 329h6M530 329h12M122 337h6M134 337h6M530 337h12M548 345h6M554 353h30M206 361h6M224 369h6M500 425h6M206 433h6M194 465h6M200 505h6M482 537h6M146 577h6M536 593h6M542 697h6M548 705h6M536 729h6"/><path stroke="#383838" stroke-width="8" d="M98 321h24M98 329h24M98 337h24M146 345h6M518 345h6M212 361h6M506 361h6M230 401h6M500 401h6M500 409h6M500 417h6M200 441h6M494 449h6M194 457h6M524 585h6M554 593h30M542 681h6M542 689h6M536 713h6M536 721h6M554 737h30M554 745h30M554 753h30M554 761h30"/><path stroke="#393939" stroke-width="8" d="M140 321h6M524 321h6M542 321h6M140 329h6M524 329h6M542 329h6M140 337h6M524 337h6M542 337h6M170 353h6M230 377h6M500 377h6M500 385h6M500 393h6M224 417h6M218 425h6M488 465h6M488 553h6M494 561h6M542 601h12M542 673h6M548 697h6M536 705h6M554 729h30"/><path stroke="#3a3a3a" stroke-width="8" d="M494 441h6M482 481h6M200 497h6M200 537h6M512 577h6M542 665h6M536 689h6M548 689h6M536 697h6"/><path stroke="#3b3b3b" stroke-width="8" d="M176 353h6M506 353h6M218 361h6M500 369h6M230 409h6M212 433h6M182 561h6M500 569h6M530 593h6M536 601h6M542 609h6M542 657h6M536 673h6M536 681h6M548 681h6M554 721h30M530 745h6M530 753h6M530 761h6"/><path stroke="#3c3c3c" stroke-width="8" d="M518 321h6M548 321h6M518 329h6M548 329h6M518 337h6M548 337h6M152 345h6M512 345h6M494 433h6M206 441h6M200 449h6M200 489h6M170 569h6M152 577h6M548 609h6M542 649h6M536 665h6M548 673h6M554 713h30M530 737h6"/><path stroke="#3d3d3d" stroke-width="8" d="M146 321h6M146 329h6M146 337h6M182 353h6M500 361h6M494 385h6M494 393h6M494 401h6M494 409h6M494 417h6M494 425h6M200 481h6M476 513h6M482 545h6M554 601h30M542 617h6M542 625h6M542 633h6M542 641h6M536 657h6M548 665h6M530 729h6"/><path stroke="#3e3e3e" stroke-width="8" d="M554 345h30M230 369h6M494 377h6M224 425h6M200 457h6M488 457h6M476 505h6M476 521h6M518 585h6M536 609h6M548 617h6M536 649h6M548 657h6M554 705h30M530 721h6"/><path stroke="#3f3f3f" stroke-width="8" d="M512 321h6M512 329h6M512 337h6M188 353h6M224 361h6M218 433h6M200 465h6M200 473h6M482 473h6M530 601h6M536 617h6M548 625h6M536 633h6M548 633h6M536 641h6M548 641h6M548 649h6M530 713h6"/><path stroke="#404040" stroke-width="8" d="M158 345h6M506 345h6M500 353h6M494 369h6M236 393h6M230 417h6M212 441h6M488 449h6M476 497h6M206 521h6M476 529h6M200 545h6M194 553h6M158 577h6M506 577h6M122 585h6M524 593h6M554 609h30M536 625h6M530 697h6M554 697h30M530 705h6"/><path stroke="#414141" stroke-width="8" d="M152 321h6M152 329h6M152 337h6M194 353h6M236 385h6M206 449h6M206 513h6M98 585h24M128 585h6M530 673h6M530 681h6M530 689h6"/><path stroke="#424242" stroke-width="8" d="M554 321h30M554 329h30M554 337h30M200 353h6M494 361h6M488 393h6M236 401h6M488 401h6M488 409h6M488 441h6M476 489h6M206 505h6M206 529h6M488 561h6M176 569h6M134 585h6M530 665h6M554 689h30"/><path stroke="#434343" stroke-width="8" d="M506 321h6M506 329h6M506 337h6M206 353h6M236 377h6M488 377h6M488 385h6M488 417h6M488 425h6M488 433h6M482 465h6M482 553h6M188 561h6M494 569h6M512 585h6M530 609h6M554 617h30M530 657h6"/><path stroke="#444444" stroke-width="8" d="M164 345h6M224 433h6M206 457h6M206 497h6M476 537h6M530 617h6M530 649h6M554 681h30M524 737h6M524 745h6M524 753h6M524 761h6"/><path stroke="#454545" stroke-width="8" d="M500 345h6M212 353h6M494 353h6M488 369h6M236 409h6M230 425h6M218 441h6M212 449h6M206 489h6M206 537h6M140 585h6M524 601h6M530 625h6M554 625h30M530 633h6M530 641h6M554 673h30"/><path stroke="#464646" stroke-width="8" d="M158 321h6M158 329h6M158 337h6M230 361h6M488 361h6M206 465h6M206 473h6M206 481h6M476 481h6M164 577h6M500 577h6M518 593h6M554 633h30M524 729h6"/><path stroke="#474747" stroke-width="8" d="M500 321h6M500 329h6M500 337h6M170 345h6M482 457h6M554 641h30M554 665h30M524 721h6"/><path stroke="#484848" stroke-width="8" d="M218 353h6M236 369h6M482 385h6M482 393h6M482 401h6M476 545h6M146 585h6M554 649h30M554 657h30M524 713h6"/><path stroke="#494949" stroke-width="8" d="M494 345h6M488 353h6M482 377h6M482 409h6M236 417h6M482 417h6M482 449h6M212 457h6M200 553h6M524 609h6M524 697h6M524 705h6"/><path stroke="#4a4a4a" stroke-width="8" d="M482 369h6M482 425h6M482 433h6M224 441h6M482 441h6M218 449h6M476 473h6M182 569h6M488 569h6M506 585h6M524 673h6M524 681h6M524 689h6"/><path stroke="#4b4b4b" stroke-width="8" d="M164 321h6M494 321h6M164 329h6M494 329h6M164 337h6M494 337h6M176 345h6M224 353h6M230 433h6M470 513h6M470 521h6M206 545h6M194 561h6M482 561h6M524 665h6"/><path stroke="#4c4c4c" stroke-width="8" d="M482 361h6M242 393h6M212 465h6M470 505h6M212 513h6M212 521h6M170 577h6M152 585h6M512 593h6M518 601h6M524 617h6M524 649h6M524 657h6"/><path stroke="#4d4d4d" stroke-width="8" d="M182 345h6M488 345h6M242 385h6M242 401h6M476 465h6M470 497h6M212 505h6M470 529h6M494 577h6M524 625h6M524 633h6M524 641h6M518 745h6M518 753h6M518 761h6"/><path stroke="#4e4e4e" stroke-width="8" d="M488 321h6M488 329h6M488 337h6M482 353h6M476 385h6M476 393h6M236 425h6M212 473h6M212 481h6M212 489h6M212 497h6M212 529h6M476 553h6M518 737h6"/><path stroke="#4f4f4f" stroke-width="8" d="M170 321h6M170 329h6M170 337h6M236 361h6M242 377h6M476 377h6M476 401h6M476 409h6M218 457h6M470 489h6"/><path stroke="#505050" stroke-width="8" d="M188 345h6M476 369h6M242 409h6M476 417h6M476 425h6M224 449h6M476 457h6M470 537h6M158 585h6M500 585h6M98 593h30M518 729h6"/><path stroke="#515151" stroke-width="8" d="M194 345h6M482 345h6M230 353h6M476 433h6M230 441h6M476 441h6M476 449h6M212 537h6M188 569h6M128 593h6M518 609h6M518 721h6"/><path stroke="#525252" stroke-width="8" d="M476 361h6M218 465h6M470 481h6M482 569h6M176 577h6M134 593h6M506 593h6M518 713h6"/><path stroke="#535353" stroke-width="8" d="M176 321h6M482 321h6M176 329h6M482 329h6M176 337h6M482 337h6M200 345h6M242 417h6M206 553h6M488 577h6M512 601h6M518 705h6"/><path stroke="#545454" stroke-width="8" d="M206 345h6M476 353h6M242 369h6M236 433h6M470 473h6M470 545h6M200 561h6M476 561h6M140 593h6M518 617h6M518 689h6M518 697h6"/><path stroke="#555555" stroke-width="8" d="M470 385h6M470 393h6M470 401h6M224 457h6M218 473h6M164 585h6M518 673h6M518 681h6"/><path stroke="#565656" stroke-width="8" d="M182 321h6M182 329h6M182 337h6M212 345h6M476 345h6M470 377h6M470 409h6M470 417h6M218 481h6M212 545h6M494 585h6M518 625h6M518 657h6M518 665h6"/><path stroke="#575757" stroke-width="8" d="M470 369h6M470 425h6M230 449h6M470 465h6M218 489h6M218 497h6M218 505h6M218 513h6M146 593h6M518 633h6M518 641h6M518 649h6M122 705h24"/><path stroke="#585858" stroke-width="8" d="M188 321h6M476 321h6M188 329h6M476 329h6M188 337h6M476 337h6M218 345h6M242 425h6M470 433h6M470 457h6M464 513h6M218 521h6M464 521h6M470 553h6M194 569h6M182 577h6M98 705h24M146 705h6M98 713h42M512 737h6M512 745h6M512 753h6M512 761h6"/><path stroke="#595959" stroke-width="8" d="M236 353h6M470 361h6M470 441h6M470 449h6M224 465h6M464 505h6M218 529h6M500 593h6M512 609h6M122 697h24M152 705h6M140 713h6"/><path stroke="#5a5a5a" stroke-width="8" d="M194 321h6M194 329h6M194 337h6M242 361h6M248 393h6M248 401h6M236 441h6M464 497h6M464 529h6M482 577h6M170 585h6M506 601h6M98 697h24M146 697h6M146 713h6M512 729h6"/><path stroke="#5b5b5b" stroke-width="8" d="M224 345h6M470 353h6M248 385h6M464 489h6M476 569h6M152 593h6M152 697h6M158 705h6M152 713h6"/><path stroke="#5c5c5c" stroke-width="8" d="M200 321h6M200 329h6M200 337h6M464 393h6M464 401h6M248 409h6M464 409h6M230 457h6M224 473h6M218 537h6M464 537h6M212 553h6M206 561h6M488 585h6M158 697h6M158 713h6M98 721h30M512 721h6"/><path stroke="#5d5d5d" stroke-width="8" d="M206 321h6M206 329h6M206 337h6M470 345h6M248 377h6M464 385h6M464 417h6M464 481h6M512 617h6M128 689h24M164 705h6M512 713h6M128 721h12"/><path stroke="#5e5e5e" stroke-width="8" d="M464 377h6M464 425h6M242 433h6M224 481h6M470 561h6M188 577h6M158 593h6M98 689h30M164 697h6M512 705h6M164 713h6M140 721h6"/><path stroke="#5f5f5f" stroke-width="8" d="M212 321h6M470 321h6M212 329h6M470 329h6M212 337h6M470 337h6M248 417h6M464 433h6M464 473h6M464 545h6M200 569h6M176 585h6M494 593h6M98 601h30M152 689h6M512 697h6M170 705h6M146 721h6"/><path stroke="#606060" stroke-width="8" d="M230 345h6M464 369h6M464 441h6M236 449h6M464 465h6M224 489h6M218 545h6M128 601h6M512 625h6M512 673h6M512 681h6M158 689h6M512 689h6M170 697h6M170 713h6M152 721h6"/><path stroke="#616161" stroke-width="8" d="M218 321h6M218 329h6M218 337h6M464 361h6M248 369h6M464 449h6M464 457h6M230 465h6M224 497h6M134 601h6M500 601h6M506 609h6M512 633h6M512 657h6M512 665h6M176 705h6"/><path stroke="#626262" stroke-width="8" d="M242 353h6M224 505h6M224 513h6M476 577h6M482 585h6M164 593h6M512 641h6M512 649h6M128 681h18M164 689h6M176 697h6M176 713h6M158 721h6M506 737h6M506 745h6M506 753h6M506 761h6"/><path stroke="#636363" stroke-width="8" d="M464 353h6M458 401h6M458 409h6M458 417h6M224 521h6M464 553h6M140 601h6M122 681h6M146 681h6M182 705h6M164 721h6"/><path stroke="#646464" stroke-width="8" d="M224 321h6M224 329h6M224 337h6M458 393h6M248 425h6M458 425h6M242 441h6M230 473h6M458 513h6M458 521h6M212 561h6M470 569h6M194 577h6M182 585h6M488 593h6M98 681h24M152 681h6M170 689h6M182 713h6M98 729h30M506 729h6"/><path stroke="#656565" stroke-width="8" d="M458 385h6M236 457h6M458 505h6M224 529h6M146 601h6M158 681h6M182 697h6M170 721h6M128 729h6"/><path stroke="#666666" stroke-width="8" d="M236 345h6M464 345h6M248 361h6M458 377h6M458 433h6M458 497h6M458 529h6M218 553h6M206 569h6M170 593h6M494 601h6M506 617h6M176 689h6M188 705h6M506 721h6M134 729h6"/><path stroke="#676767" stroke-width="8" d="M230 321h6M464 321h6M230 329h6M464 329h6M230 337h6M464 337h6M458 441h6M230 481h6M458 489h6M164 681h6M188 697h6M188 713h6M506 713h6M176 721h6"/><path stroke="#686868" stroke-width="8" d="M458 369h6M254 393h6M254 401h6M458 481h6M224 537h6M458 537h6M464 561h6M476 585h6M152 601h6M500 609h6M182 689h6M140 729h6"/><path stroke="#696969" stroke-width="8" d="M254 385h6M254 409h6M248 433h6M242 449h6M458 449h6M458 473h6M230 489h6M188 585h6M482 593h6M506 625h6M128 673h24M170 681h6M506 697h6M194 705h6M506 705h6M182 721h6M146 729h6"/><path stroke="#6a6a6a" stroke-width="8" d="M458 361h6M452 401h6M452 409h6M452 417h6M458 457h6M236 465h6M458 465h6M458 545h6M200 577h6M470 577h6M176 593h6M98 673h30M152 673h6M506 689h6M194 697h6M194 713h6M152 729h6M500 745h6M500 753h6M500 761h6"/><path stroke="#6b6b6b" stroke-width="8" d="M254 377h6M452 393h6M452 425h6M230 497h6M224 545h6M158 601h6M488 601h6M98 609h30M506 633h6M506 673h6M176 681h6M506 681h6M188 689h6M188 721h6M158 729h6M500 737h6"/><path stroke="#6c6c6c" stroke-width="8" d="M236 321h6M236 329h6M236 337h6M248 353h6M254 417h6M218 561h6M212 569h6M128 609h6M506 641h6M506 649h6M506 657h6M506 665h6M158 673h6"/><path stroke="#6d6d6d" stroke-width="8" d="M242 345h6M458 353h6M452 385h6M452 433h6M236 473h6M230 505h6M464 569h6M494 609h6M500 617h6M164 673h6M182 681h6M194 689h6M200 697h6M200 705h6M164 729h6M500 729h6"/><path stroke="#6e6e6e" stroke-width="8" d="M254 369h6M248 441h6M230 513h6M458 553h6M194 585h6M164 601h6M134 609h6M200 713h6M194 721h6M170 729h6"/><path stroke="#6f6f6f" stroke-width="8" d="M458 345h6M452 377h6M452 441h6M242 457h6M230 521h6M224 553h6M206 577h6M470 585h6M182 593h6M476 593h6M140 609h6M134 665h6M170 673h6M188 681h6M500 721h6"/><path stroke="#707070" stroke-width="8" d="M458 321h6M458 329h6M458 337h6M254 425h6M236 481h6M452 505h6M452 513h6M452 521h6M482 601h6M122 665h12M140 665h12M200 689h6M206 705h6M500 713h6M176 729h6M98 737h24"/><path stroke="#717171" stroke-width="8" d="M452 369h6M446 409h6M446 417h6M452 449h6M452 489h6M452 497h6M230 529h6M452 529h6M170 601h6M146 609h6M500 625h6M98 665h24M152 665h6M176 673h6M194 681h6M206 697h6M500 705h6M200 721h6M182 729h6M122 737h6M494 745h6M494 753h6M494 761h6"/><path stroke="#727272" stroke-width="8" d="M242 321h6M242 329h6M242 337h6M254 361h6M446 401h6M446 425h6M452 457h6M452 481h6M458 561h6M218 569h6M464 577h6M188 593h6M488 609h6M158 665h6M182 673h6M500 697h6M206 713h6M494 737h6"/><path stroke="#737373" stroke-width="8" d="M452 361h6M446 393h6M452 465h6M452 473h6M236 489h6M230 537h6M452 537h6M200 585h6M152 609h6M494 617h6M500 633h6M206 689h6M500 689h6M188 729h6M128 737h6M98 745h24M98 753h24M98 761h24"/><path stroke="#747474" stroke-width="8" d="M248 345h6M446 433h6M248 449h6M242 465h6M224 561h6M212 577h6M176 601h6M500 641h6M164 665h6M500 665h6M188 673h6M500 673h6M200 681h6M500 681h6M212 705h6M494 729h6M134 737h6M122 745h6M122 753h6M122 761h6"/><path stroke="#757575" stroke-width="8" d="M452 353h6M446 385h6M254 433h6M452 545h6M470 593h6M476 601h6M158 609h6M98 617h30M500 649h6M500 657h6M170 665h6M212 697h6M206 721h6M494 721h6M194 729h6M128 745h6M128 753h6M128 761h6"/><path stroke="#767676" stroke-width="8" d="M254 353h6M260 393h6M260 401h6M236 497h6M230 545h6M458 569h6M194 593h6M482 609h6M128 617h6M122 657h24M194 673h6M206 681h6M212 689h6M212 713h6M140 737h6"/><path stroke="#777777" stroke-width="8" d="M452 345h6M446 377h6M260 385h6M260 409h6M446 441h6M236 505h6M206 585h6M464 585h6M182 601h6M164 609h6M134 617h6M488 617h6M494 625h6M98 657h24M146 657h12M176 665h6M494 713h6M488 737h6M134 745h6M488 745h6M134 753h6M488 753h6M134 761h6M488 761h6"/><path stroke="#787878" stroke-width="8" d="M248 321h6M452 321h6M248 329h6M452 329h6M248 337h6M452 337h6M260 377h6M242 473h6M230 553h6M452 553h6M224 569h6M218 577h6M182 665h6M200 673h6M494 705h6M200 729h6M146 737h6"/><path stroke="#797979" stroke-width="8" d="M446 369h6M440 401h6M440 409h6M260 417h6M440 417h6M446 449h6M236 513h6M170 609h6M140 617h6M494 633h6M158 657h6M188 665h6M212 681h6M494 689h6M218 697h6M494 697h6M218 705h6M488 729h6M152 737h6M140 745h6M140 753h6M140 761h6"/><path stroke="#7a7a7a" stroke-width="8" d="M440 393h6M440 425h6M254 441h6M248 457h6M212 585h6M200 593h6M188 601h6M470 601h6M476 609h6M146 617h6M494 641h6M164 657h6M206 673h6M494 673h6M494 681h6M218 689h6M218 713h6M212 721h6M488 721h6M158 737h6M146 745h6M146 753h6M146 761h6"/><path stroke="#7b7b7b" stroke-width="8" d="M446 361h6M260 369h6M446 457h6M242 481h6M446 497h6M446 505h6M446 513h6M236 521h6M446 521h6M452 561h6M458 577h6M464 593h6M176 609h6M152 617h6M482 617h6M98 625h30M488 625h6M98 649h48M494 649h6M170 657h6M494 657h6M194 665h6M494 665h6M488 713h6M164 737h6M482 737h6M482 745h6M482 753h6M482 761h6"/><path stroke="#7c7c7c" stroke-width="8" d="M254 345h6M440 385h6M260 425h6M446 465h6M446 473h6M446 481h6M446 489h6M446 529h6M230 561h6M194 601h6M158 617h6M128 625h6M146 649h6M176 657h6M200 665h6M212 673h6M218 681h6M488 705h6M206 729h6M482 729h6M170 737h6M152 745h6M152 753h6M152 761h6"/><path stroke="#7d7d7d" stroke-width="8" d="M446 353h6M260 361h6M440 433h6M236 529h6M446 537h6M224 577h6M206 593h6M182 609h6M134 625h6M98 633h24M488 633h6M98 641h30M152 649h12M182 657h6M224 689h6M488 689h6M224 697h6M488 697h6M224 705h6M482 721h6M176 737h6M158 745h6M158 753h6M158 761h6"/><path stroke="#7e7e7e" stroke-width="8" d="M254 321h6M254 329h6M254 337h6M446 345h6M440 377h6M242 489h6M236 537h6M218 585h6M458 585h6M470 609h6M164 617h6M476 617h6M140 625h6M482 625h6M122 633h12M128 641h12M488 641h6M164 649h6M188 657h6M206 665h6M218 673h6M488 673h6M488 681h6M482 713h6M218 721h6M182 737h6M476 737h6M164 745h6M476 745h6M164 753h6M476 753h6M164 761h6M476 761h6"/><path stroke="#7f7f7f" stroke-width="8" d="M446 321h6M446 329h6M446 337h6M440 441h6M248 465h6M446 545h6M230 569h6M452 569h6M212 593h6M200 601h6M464 601h6M188 609h6M170 617h6M146 625h6M134 633h6M140 641h12M170 649h6M488 649h6M194 657h6M488 657h6M212 665h6M488 665h6M224 681h6M482 697h6M482 705h6M224 713h6M476 721h6M476 729h6M188 737h6M170 745h6M170 753h6M170 761h6"/><path stroke="#808080" stroke-width="8" d="M260 353h6M440 369h6M254 449h6M236 545h6M176 617h6M152 625h6M140 633h6M482 633h6M152 641h6M176 649h6M200 657h6M482 681h6M482 689h6M476 713h6M212 729h6M194 737h6M176 745h12M176 753h12M176 761h12"/><path stroke="#818181" stroke-width="8" d="M440 361h6M434 401h6M434 409h6M434 417h6M260 433h6M242 497h6M206 601h6M194 609h6M182 617h6M470 617h6M158 625h12M476 625h6M146 633h12M158 641h12M482 641h6M182 649h6M482 649h6M206 657h6M482 657h6M218 665h6M482 665h6M224 673h6M482 673h6M230 689h6M230 697h6M476 697h6M476 705h6M470 721h6M470 729h6M470 737h6M188 745h6M470 745h6M188 753h6M470 753h6M188 761h6M470 761h6"/><path stroke="#828282" stroke-width="8" d="M434 393h6M440 449h6M248 473h6M236 553h6M446 553h6M224 585h6M218 593h6M458 593h6M170 625h6M158 633h6M476 633h6M170 641h6M188 649h12M230 681h6M476 681h6M476 689h6M230 705h6M470 705h6M470 713h6M200 737h6M194 745h6M194 753h6M194 761h6"/><path stroke="#838383" stroke-width="8" d="M440 321h6M440 329h6M440 337h6M260 345h6M440 345h6M440 353h6M434 385h6M266 393h6M266 401h6M434 425h6M242 505h6M230 577h6M452 577h6M212 601h6M200 609h6M464 609h6M188 617h6M176 625h6M164 633h12M176 641h12M476 641h6M200 649h6M476 649h6M212 657h6M476 657h6M476 665h6M476 673h6M470 689h6M470 697h6M224 721h6M464 721h6M464 729h6M464 737h6M464 745h6M464 753h6M464 761h6"/><path stroke="#848484" stroke-width="8" d="M260 321h6M260 329h6M260 337h6M434 377h6M266 385h6M266 409h6M440 457h6M236 561h6M446 561h6M194 617h6M182 625h6M470 625h6M176 633h12M188 641h6M206 649h6M218 657h6M224 665h6M230 673h6M470 681h6M464 705h6M230 713h6M464 713h6M218 729h6M200 745h6M200 753h6M200 761h6"/><path stroke="#858585" stroke-width="8" d="M434 369h6M266 377h6M434 433h6M254 457h6M440 465h6M440 489h6M440 497h6M440 505h6M242 513h6M440 513h6M440 521h6M224 593h6M458 601h6M206 609h6M200 617h6M188 625h12M188 633h6M470 633h6M194 641h12M212 649h6M470 665h6M470 673h6M236 689h6M236 697h6M464 697h6M458 713h6M458 721h6M458 729h6M206 737h6"/><path stroke="#868686" stroke-width="8" d="M434 361h6M266 369h6M266 417h6M260 441h6M440 473h6M248 481h6M440 481h6M242 521h6M440 529h6M236 569h6M230 585h6M452 585h6M218 601h6M212 609h6M464 617h6M200 625h6M194 633h12M206 641h6M470 641h6M470 649h6M224 657h6M470 657h6M230 665h6M236 681h6M464 681h6M464 689h6M236 705h6M458 705h6M458 737h6M458 745h6M458 753h6M458 761h6"/><path stroke="#878787" stroke-width="8" d="M434 321h6M434 329h6M434 337h6M434 345h6M434 353h6M440 537h6M446 569h6M206 617h6M206 633h6M212 641h6M218 649h6M464 673h6M458 697h6M230 721h6M452 721h6M206 745h6M206 753h6M206 761h6"/><path stroke="#888888" stroke-width="8" d="M266 361h6M434 441h6M242 529h6M236 577h6M224 601h6M218 609h6M458 609h6M212 617h6M206 625h6M464 625h6M212 633h6M224 649h6M464 665h6M236 673h6M458 689h6M452 705h6M236 713h6M452 713h6M224 729h6M452 729h6M452 737h6"/><path stroke="#898989" stroke-width="8" d="M428 321h6M428 329h6M428 337h6M266 353h6M428 393h6M428 401h6M428 409h6M266 425h6M248 489h6M440 545h6M230 593h6M452 593h6M212 625h6M464 633h6M218 641h6M464 641h6M464 649h6M230 657h6M464 657h6M236 665h6M458 681h6M452 697h6M212 737h6M452 745h6M452 753h6M452 761h6"/><path stroke="#8a8a8a" stroke-width="8" d="M266 321h6M266 329h6M266 337h6M266 345h6M428 345h6M428 377h6M428 385h6M428 417h6M434 449h6M254 465h6M242 537h6M446 577h6M224 609h6M218 617h6M458 617h6M218 625h6M218 633h6M224 641h6M458 673h6M242 681h6M242 689h6M242 697h6M446 713h6M446 721h6M446 729h6M212 745h6M212 753h6M212 761h6"/><path stroke="#8b8b8b" stroke-width="8" d="M428 353h6M428 361h6M428 369h6M428 425h6M242 545h6M440 553h6M236 585h6M230 601h6M452 601h6M230 649h6M236 657h6M458 665h6M242 673h6M452 689h6M242 705h6M446 705h6M236 721h6"/><path stroke="#8c8c8c" stroke-width="8" d="M422 321h6M422 329h6M422 337h6M260 449h6M248 497h6M242 553h6M224 617h6M224 625h6M458 625h6M224 633h6M230 641h6M458 657h6M452 681h6M446 697h6M218 737h6M446 737h6M446 745h6M446 753h6M446 761h6"/><path stroke="#8d8d8d" stroke-width="8" d="M422 345h6M266 433h6M428 433h6M434 457h6M242 561h6M440 561h6M446 585h6M236 593h6M230 609h6M458 633h6M458 641h6M236 649h6M458 649h6M242 665h6M452 673h6M242 713h6M440 713h6M440 721h6M230 729h6"/><path stroke="#8e8e8e" stroke-width="8" d="M434 465h6M254 473h6M248 505h6M242 569h6M236 601h6M452 609h6M230 617h6M230 625h6M230 633h6M248 689h6M446 689h6M248 697h6M440 705h6M440 729h6M218 745h6M218 753h6M218 761h6"/><path stroke="#8f8f8f" stroke-width="8" d="M272 321h6M272 329h6M272 337h6M272 345h6M422 353h6M272 393h6M434 473h6M434 481h6M434 489h6M434 497h6M434 505h6M434 513h6M434 521h6M440 569h6M242 577h6M446 593h6M452 617h6M236 641h6M242 657h6M452 665h6M248 673h6M248 681h6M446 681h6M440 697h6M248 705h6M242 721h6M440 737h6M440 745h6M440 753h6M440 761h6"/><path stroke="#909090" stroke-width="8" d="M272 353h6M422 361h6M272 369h6M272 377h6M272 385h6M422 393h6M272 401h6M422 401h6M272 409h6M422 409h6M428 441h6M248 513h6M434 529h6M242 585h6M236 609h6M452 625h6M236 633h6M242 649h6M452 657h6M236 729h6M224 737h6"/><path stroke="#919191" stroke-width="8" d="M416 321h6M416 329h6M416 337h6M272 361h6M422 369h6M422 377h6M422 385h6M422 417h6M260 457h6M434 537h6M440 577h6M242 593h6M446 601h6M236 617h6M236 625h6M452 633h6M452 641h6M452 649h6M248 665h6M446 673h6M440 689h6M434 705h6M248 713h6M434 713h6M434 721h6M434 729h6"/><path stroke="#929292" stroke-width="8" d="M416 345h6M272 417h6M266 441h6M428 449h6M254 481h6M248 521h6M434 545h6M242 641h6M248 657h6M446 665h6M440 681h6M434 697h6M224 745h6M224 753h6M224 761h6"/><path stroke="#939393" stroke-width="8" d="M278 321h6M278 329h6M278 337h6M422 425h6M434 553h6M440 585h6M242 601h6M446 609h6M242 633h6M254 681h6M254 689h6M254 697h6M248 721h6M434 737h6M434 745h6M434 753h6M434 761h6"/><path stroke="#949494" stroke-width="8" d="M248 529h6M434 561h6M242 609h6M242 617h6M446 617h6M242 625h6M248 649h6M446 657h6M254 673h6M440 673h6M434 689h6M254 705h6M428 713h6M242 729h6M230 737h6"/><path stroke="#959595" stroke-width="8" d="M278 345h6M416 353h6M272 425h6M422 433h6M428 457h6M254 489h6M248 537h6M434 569h6M440 593h6M446 625h6M446 633h6M248 641h6M446 641h6M446 649h6M254 665h6M434 681h6M428 705h6M254 713h6M428 721h6M428 729h6M230 745h6M230 753h6M230 761h6"/><path stroke="#969696" stroke-width="8" d="M416 361h6M260 465h6M428 465h6M248 545h6M248 553h6M248 561h6M248 569h6M248 633h6M254 657h6M440 665h6M428 697h6"/><path stroke="#979797" stroke-width="8" d="M410 321h6M410 329h6M410 337h6M278 353h6M416 369h6M416 393h6M416 401h6M416 409h6M422 441h6M266 449h6M428 473h6M428 481h6M428 489h6M248 577h6M434 577h6M248 585h6M248 593h6M248 601h6M440 601h6M248 625h6M254 649h6M440 657h6M434 673h6M260 681h6M260 689h6M428 689h6M260 697h6M254 721h6M248 729h6M236 737h6M428 737h6M428 745h6M428 753h6M428 761h6"/><path stroke="#989898" stroke-width="8" d="M284 321h6M284 329h6M284 337h6M278 361h6M416 377h6M416 385h6M416 417h6M254 497h6M428 497h6M428 505h6M428 513h6M428 521h6M434 585h6M248 609h6M440 609h6M248 617h6M440 649h6M260 673h6M428 681h6M260 705h6M422 713h6M236 745h6M236 753h6M236 761h6"/><path stroke="#999999" stroke-width="8" d="M284 345h6M410 345h6M278 369h6M278 377h6M416 425h6M272 433h6M428 529h6M440 617h6M254 641h6M440 641h6M260 665h6M434 665h6M422 697h6M422 705h6M260 713h6M422 721h6M242 737h6"/><path stroke="#9a9a9a" stroke-width="8" d="M278 385h6M278 393h6M278 401h6M422 449h6M260 473h6M254 505h6M428 537h6M428 545h6M434 593h6M440 625h6M254 633h6M440 633h6M260 657h6M428 673h6M422 689h6M254 729h6M422 729h6M242 745h6M242 753h6M242 761h6"/><path stroke="#9b9b9b" stroke-width="8" d="M290 321h6M290 329h6M290 337h6M416 433h6M428 553h6M428 561h6M428 569h6M434 601h6M254 625h6M260 649h6M434 657h6M260 721h6M248 737h6M422 737h6M422 745h6M422 753h6M422 761h6"/><path stroke="#9c9c9c" stroke-width="8" d="M284 353h6M410 353h6M278 409h6M422 457h6M254 513h6M428 577h6M254 617h6M434 649h6M428 665h6M266 673h6M266 681h6M422 681h6M266 689h6M266 697h6M266 705h6M416 705h6M416 713h6M248 745h6M248 753h6M248 761h6"/><path stroke="#9d9d9d" stroke-width="8" d="M290 345h6M410 401h6M410 409h6M278 417h6M410 417h6M416 441h6M266 457h6M422 465h6M428 585h6M254 601h6M254 609h6M434 609h6M260 641h6M434 641h6M266 665h6M422 673h6M416 697h6M266 713h6M416 721h6M260 729h6M254 737h6"/><path stroke="#9e9e9e" stroke-width="8" d="M296 321h6M404 321h6M296 329h6M404 329h6M296 337h6M404 337h6M284 361h6M410 361h6M410 393h6M410 425h6M272 441h6M422 473h6M260 481h6M254 521h6M254 585h6M254 593h6M434 617h6M434 625h6M260 633h6M434 633h6M266 657h6M428 657h6M416 689h6M266 721h6M416 729h6M254 745h6M254 753h6M254 761h6"/><path stroke="#9f9f9f" stroke-width="8" d="M410 369h6M410 377h6M410 385h6M422 481h6M422 489h6M254 577h6M428 593h6M266 649h6M422 665h6M416 681h6M266 729h6M260 737h6M416 737h6M260 745h6M416 745h6M260 753h6M416 753h6M260 761h6M416 761h6"/><path stroke="#a0a0a0" stroke-width="8" d="M296 345h6M404 345h6M290 353h6M284 369h6M278 425h6M410 433h6M416 449h6M422 497h6M422 505h6M254 529h6M254 561h6M254 569h6M428 601h6M260 625h6M428 649h6M272 673h6M272 681h6M272 689h6M272 697h6M272 705h6M410 705h6M410 713h6"/><path stroke="#a1a1a1" stroke-width="8" d="M302 321h6M302 329h6M302 337h6M284 377h6M260 489h6M422 513h6M422 521h6M254 537h6M254 545h6M254 553h6M428 609h6M260 617h6M266 641h6M428 641h6M422 657h6M272 665h6M416 673h6M410 697h6M272 713h6M272 721h6M410 721h6M410 729h6M266 737h6M266 745h6M266 753h6M266 761h6"/><path stroke="#a2a2a2" stroke-width="8" d="M302 345h6M284 385h6M404 409h6M404 417h6M404 425h6M410 441h6M416 457h6M266 465h6M422 529h6M422 553h6M422 561h6M422 569h6M422 577h6M422 585h6M428 617h6M428 625h6M266 633h6M428 633h6M272 657h6M410 689h6M272 729h6"/><path stroke="#a3a3a3" stroke-width="8" d="M308 321h6M308 329h6M308 337h6M296 353h6M290 361h6M284 393h6M404 401h6M272 449h6M416 465h6M422 537h6M422 545h6M422 593h6M260 609h6M272 649h6M422 649h6M416 665h6M410 681h6M272 737h6M410 737h6M272 745h6M410 745h6M272 753h6M410 753h6M272 761h6M410 761h6"/><path stroke="#a4a4a4" stroke-width="8" d="M314 321h6M314 329h6M314 337h6M308 345h6M404 353h6M290 369h6M404 393h6M284 401h6M278 433h6M404 433h6M410 449h6M260 497h6M260 601h6M266 625h6M278 673h6M278 681h6M278 689h6M278 697h6M278 705h6M404 705h6M278 713h6M404 713h6M278 721h6M404 721h6M278 729h6M278 737h6M278 745h6M278 753h6M278 761h6"/><path stroke="#a5a5a5" stroke-width="8" d="M320 321h12M398 321h6M320 329h12M398 329h6M320 337h12M398 337h6M314 345h6M302 353h6M296 361h6M284 409h6M404 441h6M416 473h6M260 593h6M422 601h6M272 641h6M422 641h6M416 657h6M278 665h6M410 673h6M404 697h6M404 729h6"/><path stroke="#a6a6a6" stroke-width="8" d="M320 345h6M308 353h6M404 361h6M290 377h6M404 377h6M404 385h6M398 417h6M398 425h6M410 457h6M266 473h6M416 481h6M422 609h6M266 617h6M422 633h6M278 657h6M404 689h6M284 705h6M284 737h6M284 745h6M284 753h6M284 761h6"/><path stroke="#a7a7a7" stroke-width="8" d="M332 321h6M332 329h6M332 337h6M326 345h6M314 353h6M302 361h6M404 369h6M398 409h6M284 417h6M398 433h6M416 489h6M260 505h6M260 585h6M422 617h6M422 625h6M272 633h6M278 649h6M416 649h6M410 665h6M284 681h6M404 681h6M284 689h6M284 697h6M284 713h6M284 721h6M284 729h6M404 737h6M404 745h6M404 753h6M404 761h6"/><path stroke="#a8a8a8" stroke-width="8" d="M332 345h6M398 345h6M320 353h6M308 361h6M296 369h6M290 385h6M398 401h6M278 441h6M404 449h6M272 457h6M410 465h6M416 497h6M260 513h6M416 569h6M416 577h6M416 585h6M416 593h6M284 665h6M284 673h6M398 705h6M398 713h6M290 721h6M398 721h6M290 729h6M290 737h6M290 745h6M290 753h6M290 761h6"/><path stroke="#a9a9a9" stroke-width="8" d="M338 321h6M338 329h6M338 337h6M314 361h6M302 369h6M290 393h6M398 441h6M416 505h6M416 513h6M416 561h6M260 577h6M416 601h6M266 609h6M272 625h6M278 641h6M416 641h6M410 657h6M404 673h6M290 689h6M290 697h6M398 697h6M290 705h6M290 713h6M398 729h6"/><path stroke="#aaaaaa" stroke-width="8" d="M326 353h6M296 377h6M398 393h6M290 401h6M392 417h6M284 425h6M392 425h6M404 457h6M410 473h6M266 481h6M260 521h6M416 521h6M416 553h6M260 569h6M416 609h6M416 633h6M284 657h6M290 673h6M290 681h6M398 689h6M296 697h6M296 705h6M296 713h6M296 721h6M296 729h6M296 737h6M398 737h6M296 745h6M398 745h6M296 753h6M398 753h6M296 761h6M398 761h6"/><path stroke="#ababab" stroke-width="8" d="M338 345h6M320 361h6M308 369h6M296 385h6M392 409h6M392 433h6M398 449h6M416 529h6M416 537h6M416 545h6M260 561h6M266 601h6M416 617h6M416 625h6M278 633h6M284 649h6M410 649h6M404 665h6M398 681h6M296 689h6M302 705h6M302 713h6M392 713h6M302 721h6M392 721h6"/><path stroke="#acacac" stroke-width="8" d="M344 321h6M392 321h6M344 329h6M392 329h6M344 337h6M392 337h6M332 353h6M398 353h6M326 361h6M314 369h6M302 377h6M398 385h6M290 409h6M410 481h6M260 529h6M260 537h6M260 545h6M260 553h6M272 617h6M410 641h6M290 665h6M296 681h6M302 697h6M392 705h6M308 713h6M308 721h6M302 729h6M392 729h6M302 737h6M302 745h6M302 753h6M302 761h6"/><path stroke="#adadad" stroke-width="8" d="M320 369h6M308 377h6M398 377h6M296 393h6M392 401h6M284 433h6M392 441h6M278 449h6M272 465h6M404 465h6M266 489h6M410 489h6M410 585h6M284 641h6M290 657h6M404 657h6M296 673h6M398 673h6M302 689h6M308 697h6M392 697h6M308 705h6M314 713h6M314 721h6M308 729h12M308 737h6M326 737h12M392 737h6M308 745h6M326 745h12M392 745h6M308 753h6M326 753h12M392 753h6M308 761h6M326 761h12M392 761h6"/><path stroke="#aeaeae" stroke-width="8" d="M344 345h6M338 353h6M332 361h6M398 361h6M326 369h6M398 369h6M314 377h6M302 385h6M398 457h6M410 577h6M266 593h6M410 593h6M410 601h6M278 625h6M410 633h6M404 649h6M296 665h6M302 681h6M308 689h6M392 689h6M314 705h6M320 721h6M320 729h12M314 737h12M338 737h6M314 745h12M338 745h6M314 753h12M338 753h6M314 761h12M338 761h6"/><path stroke="#afafaf" stroke-width="8" d="M392 345h6M320 377h6M296 401h6M290 417h6M386 417h6M386 425h6M404 473h6M410 497h6M410 569h6M272 609h6M410 609h6M410 617h6M410 625h6M284 633h6M290 649h6M398 665h6M302 673h6M308 681h6M314 697h6M320 705h6M320 713h6M386 713h6M326 721h6M386 721h6M332 729h6M386 729h6M344 737h6M386 737h6M344 745h6M386 745h6M344 753h6M386 753h6M344 761h6M386 761h6"/><path stroke="#b0b0b0" stroke-width="8" d="M350 321h6M350 329h6M350 337h6M332 369h6M326 377h6M308 385h6M302 393h6M392 393h6M386 409h6M386 433h6M392 449h6M410 561h6M266 585h6M404 641h6M296 657h6M392 681h6M314 689h6M320 697h6M386 705h6M326 713h6M332 721h6M338 729h6M350 737h6M350 745h6M350 753h6M350 761h6"/><path stroke="#b1b1b1" stroke-width="8" d="M338 361h6M314 385h12M290 425h6M284 441h6M398 465h6M272 473h6M266 497h6M410 505h6M278 617h6M290 641h6M398 657h6M302 665h6M308 673h6M392 673h6M314 681h6M320 689h6M386 697h6M326 705h6M332 713h6M338 721h6M380 721h6M344 729h6M380 729h6M380 737h6M356 745h6M380 745h6M356 753h6M380 753h6M356 761h6M380 761h6"/><path stroke="#b2b2b2" stroke-width="8" d="M386 321h6M386 329h6M386 337h6M350 345h6M344 353h6M338 369h6M332 377h6M326 385h6M392 385h6M308 393h6M386 401h6M296 409h6M386 441h6M278 457h6M404 481h6M410 513h6M410 553h6M284 625h6M404 633h6M296 649h6M398 649h6M386 689h6M326 697h6M380 713h6M350 729h6M356 737h6M374 737h6M362 745h6M374 745h6M362 753h6M374 753h6M362 761h6M374 761h6"/><path stroke="#b3b3b3" stroke-width="8" d="M392 353h6M332 385h6M314 393h6M302 401h6M380 417h6M380 425h6M392 457h6M266 505h6M410 521h6M410 545h6M266 577h6M404 585h6M404 593h6M272 601h6M404 601h6M404 609h6M404 617h6M404 625h6M290 633h6M302 657h6M308 665h6M392 665h6M314 673h6M320 681h6M326 689h6M332 705h6M380 705h6M338 713h6M344 721h6M374 729h6M362 737h12M368 745h6M368 753h6M368 761h6"/><path stroke="#b4b4b4" stroke-width="8" d="M356 321h6M356 329h6M356 337h6M386 345h6M344 361h6M392 361h6M338 377h6M392 377h6M320 393h12M386 393h6M380 409h6M296 417h6M398 473h6M404 489h6M410 529h6M410 537h6M266 569h6M404 577h6M296 641h6M398 641h6M386 681h6M332 697h6M380 697h6M338 705h6M350 721h6M374 721h6M356 729h18"/><path stroke="#b5b5b5" stroke-width="8" d="M392 369h6M338 385h6M332 393h6M308 401h6M302 409h6M290 433h6M380 433h6M386 449h6M272 481h6M266 513h6M278 609h6M398 633h6M302 649h6M308 657h6M392 657h6M314 665h6M320 673h6M386 673h6M326 681h6M332 689h6M344 713h6M374 713h6M356 721h6M368 721h6"/><path stroke="#b6b6b6" stroke-width="8" d="M380 321h6M380 329h6M380 337h6M356 345h6M350 353h6M344 369h6M344 377h6M338 393h6M314 401h24M380 401h6M284 449h6M392 465h6M404 497h6M266 521h6M266 561h6M404 569h6M272 593h6M284 617h6M398 625h6M392 649h6M326 673h6M380 689h6M338 697h6M344 705h6M374 705h6M350 713h6M362 721h6"/><path stroke="#b7b7b7" stroke-width="8" d="M362 321h6M362 329h6M362 337h6M344 385h6M386 385h6M338 401h6M374 417h6M296 425h6M380 441h6M278 465h6M398 481h6M266 529h6M266 553h6M398 617h6M290 625h6M296 633h6M302 641h6M308 649h6M314 657h6M320 665h6M386 665h6M332 681h6M380 681h6M338 689h6M374 697h6M356 713h18"/><path stroke="#b8b8b8" stroke-width="8" d="M368 321h12M368 329h12M368 337h12M380 345h6M386 353h6M350 361h6M344 393h6M380 393h6M344 401h6M308 409h6M332 409h6M374 409h6M302 417h6M374 425h6M290 441h6M386 457h6M404 505h6M266 537h6M266 545h6M404 561h6M398 593h6M398 601h6M398 609h6M392 641h6M326 665h6M332 673h6M344 697h6M350 705h6M368 705h6"/><path stroke="#b9b9b9" stroke-width="8" d="M362 345h6M356 353h6M350 369h6M350 377h6M386 377h6M374 401h6M314 409h18M338 409h6M392 473h6M272 489h6M398 585h6M278 601h6M392 633h6M314 649h6M320 657h6M386 657h6M380 673h6M338 681h6M344 689h6M374 689h6M350 697h6M356 705h12"/><path stroke="#bababa" stroke-width="8" d="M368 345h12M386 361h6M386 369h6M350 385h6M380 385h6M350 393h6M350 401h6M344 409h6M368 409h6M368 417h6M296 433h6M374 433h6M380 449h6M284 457h6M398 489h6M404 513h6M404 553h6M272 585h6M290 617h6M296 625h6M392 625h6M302 633h6M308 641h6M386 649h6M326 657h6M332 665h6M338 673h6M356 697h6M368 697h6"/><path stroke="#bbbbbb" stroke-width="8" d="M380 353h6M356 361h6M356 393h6M374 393h6M356 401h6M368 401h6M350 409h6M308 417h6M332 417h12M302 425h6M278 473h6M404 521h6M404 545h6M398 577h6M284 609h6M392 617h6M386 641h6M320 649h6M380 665h6M344 681h6M374 681h6M350 689h6M368 689h6M362 697h6"/><path stroke="#bcbcbc" stroke-width="8" d="M362 353h6M356 369h6M356 377h6M380 377h6M356 385h6M362 393h12M362 401h6M356 409h12M314 417h18M344 417h6M362 417h6M368 425h6M290 449h6M386 465h6M272 497h6M404 529h6M404 537h6M392 609h6M386 633h6M314 641h6M326 649h6M332 657h6M380 657h6M338 665h6M344 673h6M374 673h6M350 681h6M356 689h12"/><path stroke="#bdbdbd" stroke-width="8" d="M374 353h6M380 361h6M380 369h6M362 385h6M374 385h6M350 417h12M374 441h6M392 481h6M398 497h6M398 569h6M272 577h6M392 601h6M302 625h6M308 633h6M380 649h6M368 681h6"/><path stroke="#bebebe" stroke-width="8" d="M368 353h6M362 361h6M362 369h6M362 377h6M374 377h6M368 385h6M308 425h6M338 425h6M362 425h6M302 433h6M368 433h6M296 441h6M380 457h6M278 593h6M392 593h6M296 617h6M386 625h6M320 641h6M380 641h6M332 649h6M338 657h6M344 665h6M374 665h6M350 673h6M368 673h6M356 681h12"/><path stroke="#bfbfbf" stroke-width="8" d="M368 361h12M368 369h12M368 377h6M314 425h24M344 425h18M284 465h6M386 473h6M278 481h6M272 505h6M398 561h6M272 569h6M392 585h6M284 601h6M290 609h6M386 617h6M314 633h6M326 641h6M338 649h6M344 657h6M374 657h6M350 665h6M356 673h12"/><path stroke="#c0c0c0" stroke-width="8" d="M374 449h6M398 505h6M272 513h6M272 561h6M386 609h6M308 625h6M320 633h6M380 633h6M332 641h6M374 649h6M368 665h6"/><path stroke="#c1c1c1" stroke-width="8" d="M308 433h6M362 433h6M368 441h6M290 457h6M392 489h6M398 513h6M272 521h6M272 553h6M398 553h6M392 577h6M386 601h6M302 617h6M380 625h6M338 641h6M374 641h6M344 649h6M350 657h6M368 657h6M356 665h12"/><path stroke="#c2c2c2" stroke-width="8" d="M314 433h6M302 441h6M296 449h6M380 465h6M272 529h6M272 537h6M272 545h6M278 585h6M296 609h6M380 617h6M314 625h6M326 633h6M374 633h6M350 649h6M368 649h6M356 657h12"/><path stroke="#c3c3c3" stroke-width="8" d="M320 433h42M284 473h6M386 481h6M278 489h6M398 521h6M398 545h6M392 569h6M386 593h6M320 625h6M332 633h6M344 641h6M368 641h6M356 649h12"/><path stroke="#c4c4c4" stroke-width="8" d="M308 441h6M374 457h6M392 497h6M398 529h6M398 537h6M284 593h6M290 601h6M380 609h6M308 617h6M374 625h6M338 633h6M368 633h6M350 641h18"/><path stroke="#c5c5c5" stroke-width="8" d="M362 441h6M302 449h6M368 449h6M290 465h6M278 577h6M386 585h6M380 601h6M302 609h6M314 617h6M374 617h6M326 625h12M344 633h6"/><path stroke="#c6c6c6" stroke-width="8" d="M314 441h6M296 457h6M380 473h6M392 561h6M338 625h6M368 625h6M350 633h18"/><path stroke="#c7c7c7" stroke-width="8" d="M320 441h24M356 441h6M386 489h6M278 497h6M392 505h6M386 577h6M380 593h6M296 601h6M308 609h6M374 609h6M320 617h6M368 617h6M344 625h6M362 625h6"/><path stroke="#c8c8c8" stroke-width="8" d="M344 441h12M308 449h6M374 465h6M284 481h6M392 553h6M278 569h6M284 585h6M290 593h6M326 617h6M350 625h12"/><path stroke="#c9c9c9" stroke-width="8" d="M362 449h6M302 457h6M278 505h6M392 513h6M278 561h6M386 569h6M302 601h6M374 601h6M314 609h6M368 609h6M332 617h12M362 617h6"/><path stroke="#cacaca" stroke-width="8" d="M314 449h6M368 457h6M296 465h6M290 473h6M380 481h6M278 513h6M392 521h6M392 545h6M278 553h6M380 585h6M320 609h6M344 617h18"/><path stroke="#cbcbcb" stroke-width="8" d="M320 449h6M356 449h6M386 497h6M278 521h6M392 529h6M392 537h6M278 545h6M296 593h6M374 593h6M308 601h6M326 609h6M362 609h6"/><path stroke="#cccccc" stroke-width="8" d="M326 449h18M350 449h6M308 457h6M374 473h6M284 489h6M278 529h6M278 537h6M386 561h6M284 577h6M380 577h6M368 601h6M332 609h6"/><path stroke="#cdcdcd" stroke-width="8" d="M344 449h6M290 585h6M314 601h6M338 609h24"/><path stroke="#cecece" stroke-width="8" d="M314 457h6M362 457h6M302 465h6M368 465h6M290 481h6M380 489h6M386 505h6M374 585h6M302 593h6M320 601h6M362 601h6"/><path stroke="#cfcfcf" stroke-width="8" d="M320 457h6M296 473h6M284 497h6M386 513h6M386 553h6M284 569h6M380 569h6M308 593h6M368 593h6M326 601h6"/><path stroke="#d0d0d0" stroke-width="8" d="M326 457h6M356 457h6M308 465h6M374 481h6M386 545h6M284 561h6M296 585h6M332 601h30"/><path stroke="#d1d1d1" stroke-width="8" d="M332 457h6M350 457h6M380 497h6M386 521h6M290 577h6M374 577h6M314 593h6M362 593h6"/><path stroke="#d2d2d2" stroke-width="8" d="M338 457h12M314 465h6M362 465h6M302 473h6M368 473h6M290 489h6M284 505h6M386 529h6M386 537h6M284 553h6M380 561h6M302 585h6M368 585h6M320 593h6"/><path stroke="#d3d3d3" stroke-width="8" d="M296 481h6M284 513h6M284 521h6M284 529h6M284 537h6M284 545h6M290 569h6M308 585h6M326 593h6M356 593h6"/><path stroke="#d4d4d4" stroke-width="8" d="M320 465h6M374 489h6M380 505h6M380 553h6M374 569h6M296 577h6M314 585h6M332 593h24"/><path stroke="#d5d5d5" stroke-width="8" d="M326 465h6M356 465h6M308 473h6M368 481h6M290 561h6M368 577h6M362 585h6"/><path stroke="#d6d6d6" stroke-width="8" d="M332 465h12M350 465h6M362 473h6M290 497h6M380 513h6M380 545h6M296 569h6M302 577h6M320 585h6"/><path stroke="#d7d7d7" stroke-width="8" d="M344 465h6M314 473h6M302 481h6M296 489h6M374 497h6M380 521h6M380 529h6M380 537h6M290 553h6M374 561h6M308 577h6M326 585h6M356 585h6"/><path stroke="#d8d8d8" stroke-width="8" d="M320 473h6M290 505h6M290 545h6M302 569h6M368 569h6M314 577h6M362 577h6M332 585h24"/><path stroke="#d9d9d9" stroke-width="8" d="M356 473h6M308 481h6M368 489h6M290 513h6M290 521h6M290 529h6M290 537h6M374 553h6M296 561h6"/><path stroke="#dadada" stroke-width="8" d="M326 473h12M350 473h6M362 481h6M374 505h6M308 569h6M320 577h6M356 577h6"/><path stroke="#dbdbdb" stroke-width="8" d="M338 473h12M314 481h6M302 489h6M296 497h6M374 513h6M374 545h6M296 553h6M302 561h6M368 561h6M314 569h6M362 569h6M326 577h6"/><path stroke="#dcdcdc" stroke-width="8" d="M356 481h6M368 497h6M374 521h6M374 537h6M296 545h6M332 577h6M344 577h12"/><path stroke="#dddddd" stroke-width="8" d="M320 481h6M308 489h6M362 489h6M296 505h6M374 529h6M296 537h6M302 553h6M368 553h6M308 561h6M320 569h6M338 577h6"/><path stroke="#dedede" stroke-width="8" d="M326 481h6M350 481h6M302 497h6M368 505h6M296 513h6M296 521h6M296 529h6M362 561h6M356 569h6"/><path stroke="#dfdfdf" stroke-width="8" d="M332 481h18M314 489h6M302 545h6M368 545h6M308 553h6M314 561h6M326 569h6M350 569h6"/><path stroke="#e0e0e0" stroke-width="8" d="M356 489h6M362 497h6M368 513h6M302 537h6M320 561h6M332 569h18"/><path stroke="#e1e1e1" stroke-width="8" d="M320 489h6M308 497h6M302 505h6M302 513h6M368 521h6M302 529h6M368 529h6M368 537h6M308 545h6M314 553h6M362 553h6M356 561h6"/><path stroke="#e2e2e2" stroke-width="8" d="M326 489h6M350 489h6M362 505h6M302 521h6M326 561h6"/><path stroke="#e3e3e3" stroke-width="8" d="M332 489h18M314 497h6M356 497h6M308 505h6M308 537h6M362 545h6M320 553h6M332 561h6M350 561h6"/><path stroke="#e4e4e4" stroke-width="8" d="M308 513h6M362 513h6M308 521h6M362 521h6M308 529h6M362 537h6M314 545h6M356 553h6M338 561h12"/><path stroke="#e5e5e5" stroke-width="8" d="M320 497h6M350 497h6M314 505h6M356 505h6M362 529h6M314 537h6M326 553h6"/><path stroke="#e6e6e6" stroke-width="8" d="M326 497h12M344 497h6M314 513h6M314 529h6M320 545h6M356 545h6M332 553h6M350 553h6"/><path stroke="#e7e7e7" stroke-width="8" d="M338 497h6M320 505h6M350 505h6M356 513h6M314 521h6M356 521h6M356 537h6M338 553h12"/><path stroke="#e8e8e8" stroke-width="8" d="M326 505h6M320 513h6M320 529h6M356 529h6M320 537h6M326 545h6M350 545h6"/><path stroke="#e9e9e9" stroke-width="8" d="M332 505h18M350 513h6M320 521h6M326 537h6M350 537h6M332 545h6M344 545h6"/><path stroke="#eaeaea" stroke-width="8" d="M326 513h12M344 513h6M326 521h6M350 521h6M326 529h6M350 529h6M338 545h6"/><path stroke="#ebebeb" stroke-width="8" d="M338 513h6M332 521h18M332 529h18M332 537h18"/></g><g fill="url(#amb)" style="mix-blend-mode:plus-lighter"><rect x="122.4" y="341.6" width="1" height="396.6" fill-opacity="0.258"/><rect x="123.4" y="341.6" width="1" height="396.6" fill-opacity="0.120"/><rect x="124.4" y="341.6" width="1" height="396.6" fill-opacity="0.149"/><rect x="125.4" y="341.6" width="1" height="396.6" fill-opacity="0.269"/><rect x="126.4" y="341.6" width="1" height="396.6" fill-opacity="0.251"/><rect x="127.4" y="341.6" width="1" height="396.6" fill-opacity="0.214"/><rect x="128.4" y="341.6" width="1" height="396.6" fill-opacity="0.241"/><rect x="129.4" y="341.6" width="1" height="396.6" fill-opacity="0.177"/><rect x="130.4" y="341.6" width="1" height="396.6" fill-opacity="0.082"/><rect x="131.4" y="341.6" width="1" height="396.6" fill-opacity="0.123"/><rect x="132.4" y="341.6" width="1" height="396.6" fill-opacity="0.215"/><rect x="133.4" y="341.6" width="1" height="396.6" fill-opacity="0.278"/><rect x="134.4" y="341.6" width="1" height="396.6" fill-opacity="0.318"/><rect x="135.4" y="341.6" width="1" height="396.6" fill-opacity="0.222"/><rect x="136.4" y="341.6" width="1" height="396.6" fill-opacity="0.066"/><rect x="137.4" y="341.6" width="1" height="396.6" fill-opacity="0.136"/><rect x="138.4" y="341.6" width="1" height="396.6" fill-opacity="0.318"/><rect x="139.4" y="341.6" width="1" height="396.6" fill-opacity="0.281"/><rect x="140.4" y="341.6" width="1" height="396.6" fill-opacity="0.137"/><rect x="141.4" y="341.6" width="1" height="396.6" fill-opacity="0.119"/><rect x="142.4" y="341.6" width="1" height="396.6" fill-opacity="0.142"/><rect x="143.4" y="341.6" width="1" height="396.6" fill-opacity="0.173"/><rect x="144.4" y="341.6" width="1" height="396.6" fill-opacity="0.274"/><rect x="145.4" y="341.6" width="1" height="396.6" fill-opacity="0.299"/><rect x="146.4" y="341.6" width="1" height="396.6" fill-opacity="0.221"/><rect x="147.4" y="341.6" width="1" height="396.6" fill-opacity="0.219"/><rect x="148.4" y="341.6" width="1" height="396.6" fill-opacity="0.211"/><rect x="149.4" y="341.6" width="1" height="396.6" fill-opacity="0.083"/><rect x="150.4" y="341.6" width="1" height="396.6" fill-opacity="0.081"/><rect x="151.4" y="341.6" width="1" height="396.6" fill-opacity="0.242"/><rect x="152.4" y="341.6" width="1" height="396.6" fill-opacity="0.260"/><rect x="153.4" y="341.6" width="1" height="396.6" fill-opacity="0.194"/><rect x="154.4" y="341.6" width="1" height="396.6" fill-opacity="0.270"/><rect x="155.4" y="341.6" width="1" height="396.6" fill-opacity="0.292"/><rect x="156.4" y="341.6" width="1" height="396.6" fill-opacity="0.146"/><rect x="157.4" y="341.6" width="1" height="396.6" fill-opacity="0.099"/><rect x="158.4" y="341.6" width="1" height="396.6" fill-opacity="0.167"/><rect x="159.4" y="341.6" width="1" height="396.6" fill-opacity="0.184"/><rect x="160.4" y="341.6" width="1" height="396.6" fill-opacity="0.251"/><rect x="161.4" y="341.6" width="1" height="396.6" fill-opacity="0.333"/><rect x="162.4" y="341.6" width="1" height="396.6" fill-opacity="0.191"/><rect x="163.4" y="341.6" width="1" height="396.6" fill-opacity="0.031"/><rect x="164.4" y="341.6" width="1" height="396.6" fill-opacity="0.151"/><rect x="165.4" y="341.6" width="1" height="396.6" fill-opacity="0.287"/><rect x="166.4" y="341.6" width="1" height="396.6" fill-opacity="0.235"/><rect x="167.4" y="341.6" width="1" height="396.6" fill-opacity="0.237"/><rect x="168.4" y="341.6" width="1" height="396.6" fill-opacity="0.291"/><rect x="169.4" y="341.6" width="1" height="396.6" fill-opacity="0.177"/><rect x="170.4" y="341.6" width="1" height="396.6" fill-opacity="0.061"/><rect x="171.4" y="341.6" width="1" height="396.6" fill-opacity="0.112"/><rect x="172.4" y="341.6" width="1" height="396.6" fill-opacity="0.178"/><rect x="173.4" y="341.6" width="1" height="396.6" fill-opacity="0.250"/><rect x="174.4" y="341.6" width="1" height="396.6" fill-opacity="0.373"/><rect x="175.4" y="341.6" width="1" height="396.6" fill-opacity="0.309"/><rect x="176.4" y="341.6" width="1" height="396.6" fill-opacity="0.075"/><rect x="177.4" y="341.6" width="1" height="396.6" fill-opacity="0.053"/><rect x="178.4" y="341.6" width="1" height="396.6" fill-opacity="0.224"/><rect x="179.4" y="341.6" width="1" height="396.6" fill-opacity="0.256"/><rect x="180.4" y="341.6" width="1" height="396.6" fill-opacity="0.200"/><rect x="181.4" y="341.6" width="1" height="396.6" fill-opacity="0.216"/><rect x="182.4" y="341.6" width="1" height="396.6" fill-opacity="0.203"/><rect x="183.4" y="341.6" width="1" height="396.6" fill-opacity="0.154"/><rect x="184.4" y="341.6" width="1" height="396.6" fill-opacity="0.188"/><rect x="185.4" y="341.6" width="1" height="396.6" fill-opacity="0.227"/><rect x="186.4" y="341.6" width="1" height="396.6" fill-opacity="0.220"/><rect x="187.4" y="341.6" width="1" height="396.6" fill-opacity="0.252"/><rect x="188.4" y="341.6" width="1" height="396.6" fill-opacity="0.236"/><rect x="189.4" y="341.6" width="1" height="396.6" fill-opacity="0.115"/><rect x="190.4" y="341.6" width="1" height="396.6" fill-opacity="0.100"/><rect x="191.4" y="341.6" width="1" height="396.6" fill-opacity="0.230"/><rect x="192.4" y="341.6" width="1" height="396.6" fill-opacity="0.269"/><rect x="193.4" y="341.6" width="1" height="396.6" fill-opacity="0.203"/><rect x="194.4" y="341.6" width="1" height="396.6" fill-opacity="0.185"/><rect x="195.4" y="341.6" width="1" height="396.6" fill-opacity="0.193"/><rect x="196.4" y="341.6" width="1" height="396.6" fill-opacity="0.194"/><rect x="197.4" y="341.6" width="1" height="396.6" fill-opacity="0.242"/><rect x="198.4" y="341.6" width="1" height="396.6" fill-opacity="0.266"/><rect x="199.4" y="341.6" width="1" height="396.6" fill-opacity="0.196"/><rect x="200.4" y="341.6" width="1" height="396.6" fill-opacity="0.121"/><rect x="201.4" y="341.6" width="1" height="396.6" fill-opacity="0.091"/><rect x="202.4" y="341.6" width="1" height="396.6" fill-opacity="0.116"/><rect x="203.4" y="341.6" width="1" height="396.6" fill-opacity="0.257"/><rect x="204.4" y="341.6" width="1" height="396.6" fill-opacity="0.398"/><rect x="205.4" y="341.6" width="1" height="396.6" fill-opacity="0.327"/><rect x="206.4" y="341.6" width="1" height="396.6" fill-opacity="0.149"/><rect x="207.4" y="341.6" width="1" height="396.6" fill-opacity="0.098"/><rect x="208.4" y="341.6" width="1" height="396.6" fill-opacity="0.118"/><rect x="209.4" y="341.6" width="1" height="396.6" fill-opacity="0.107"/><rect x="210.4" y="341.6" width="1" height="396.6" fill-opacity="0.154"/><rect x="211.4" y="341.6" width="1" height="396.6" fill-opacity="0.280"/><rect x="212.4" y="341.6" width="1" height="396.6" fill-opacity="0.363"/><rect x="213.4" y="341.6" width="1" height="396.6" fill-opacity="0.328"/><rect x="214.4" y="341.6" width="1" height="396.6" fill-opacity="0.165"/><rect x="216.4" y="341.6" width="1" height="396.6" fill-opacity="0.063"/><rect x="217.4" y="341.6" width="1" height="396.6" fill-opacity="0.299"/><rect x="218.4" y="341.6" width="1" height="396.6" fill-opacity="0.364"/><rect x="219.4" y="341.6" width="1" height="396.6" fill-opacity="0.206"/><rect x="220.4" y="341.6" width="1" height="396.6" fill-opacity="0.099"/><rect x="221.4" y="341.6" width="1" height="396.6" fill-opacity="0.132"/><rect x="222.4" y="341.6" width="1" height="396.6" fill-opacity="0.202"/><rect x="223.4" y="341.6" width="1" height="396.6" fill-opacity="0.262"/><rect x="224.4" y="341.6" width="1" height="396.6" fill-opacity="0.270"/><rect x="225.4" y="341.6" width="1" height="396.6" fill-opacity="0.207"/><rect x="226.4" y="341.6" width="1" height="396.6" fill-opacity="0.174"/><rect x="227.4" y="341.6" width="1" height="396.6" fill-opacity="0.191"/><rect x="228.4" y="341.6" width="1" height="396.6" fill-opacity="0.169"/><rect x="229.4" y="341.6" width="1" height="396.6" fill-opacity="0.142"/><rect x="230.4" y="341.6" width="1" height="396.6" fill-opacity="0.179"/><rect x="231.4" y="341.6" width="1" height="396.6" fill-opacity="0.218"/><rect x="232.4" y="341.6" width="1" height="396.6" fill-opacity="0.238"/><rect x="233.4" y="341.6" width="1" height="396.6" fill-opacity="0.284"/><rect x="234.4" y="341.6" width="1" height="396.6" fill-opacity="0.265"/><rect x="235.4" y="341.6" width="1" height="396.6" fill-opacity="0.148"/><rect x="236.4" y="341.6" width="1" height="396.6" fill-opacity="0.097"/><rect x="237.4" y="341.6" width="1" height="396.6" fill-opacity="0.167"/><rect x="238.4" y="341.6" width="1" height="396.6" fill-opacity="0.220"/><rect x="239.4" y="341.6" width="1" height="396.6" fill-opacity="0.220"/><rect x="240.4" y="341.6" width="1" height="396.6" fill-opacity="0.215"/><rect x="241.4" y="341.6" width="1" height="396.6" fill-opacity="0.198"/><rect x="242.4" y="341.6" width="1" height="396.6" fill-opacity="0.196"/><rect x="243.4" y="341.6" width="1" height="396.6" fill-opacity="0.235"/><rect x="244.4" y="341.6" width="1" height="396.6" fill-opacity="0.232"/><rect x="245.4" y="341.6" width="1" height="396.6" fill-opacity="0.180"/><rect x="246.4" y="341.6" width="1" height="396.6" fill-opacity="0.178"/><rect x="247.4" y="341.6" width="1" height="396.6" fill-opacity="0.193"/><rect x="248.4" y="341.6" width="1" height="396.6" fill-opacity="0.164"/><rect x="249.4" y="341.6" width="1" height="396.6" fill-opacity="0.170"/><rect x="250.4" y="341.6" width="1" height="396.6" fill-opacity="0.226"/><rect x="251.4" y="341.6" width="1" height="396.6" fill-opacity="0.227"/><rect x="252.4" y="341.6" width="1" height="396.6" fill-opacity="0.202"/><rect x="253.4" y="341.6" width="1" height="396.6" fill-opacity="0.229"/><rect x="254.4" y="341.6" width="1" height="396.6" fill-opacity="0.242"/><rect x="255.4" y="341.6" width="1" height="396.6" fill-opacity="0.196"/><rect x="256.4" y="341.6" width="1" height="396.6" fill-opacity="0.159"/><rect x="257.4" y="341.6" width="1" height="396.6" fill-opacity="0.145"/><rect x="258.4" y="341.6" width="1" height="396.6" fill-opacity="0.159"/><rect x="259.4" y="341.6" width="1" height="396.6" fill-opacity="0.221"/><rect x="260.4" y="341.6" width="1" height="396.6" fill-opacity="0.254"/><rect x="261.4" y="341.6" width="1" height="396.6" fill-opacity="0.207"/><rect x="262.4" y="341.6" width="1" height="396.6" fill-opacity="0.194"/><rect x="263.4" y="341.6" width="1" height="396.6" fill-opacity="0.240"/><rect x="264.4" y="341.6" width="1" height="396.6" fill-opacity="0.223"/><rect x="265.4" y="341.6" width="1" height="396.6" fill-opacity="0.163"/><rect x="266.4" y="341.6" width="1" height="396.6" fill-opacity="0.158"/><rect x="267.4" y="341.6" width="1" height="396.6" fill-opacity="0.165"/><rect x="268.4" y="341.6" width="1" height="396.6" fill-opacity="0.174"/><rect x="269.4" y="341.6" width="1" height="396.6" fill-opacity="0.246"/><rect x="270.4" y="341.6" width="1" height="396.6" fill-opacity="0.291"/><rect x="271.4" y="341.6" width="1" height="396.6" fill-opacity="0.217"/><rect x="272.4" y="341.6" width="1" height="396.6" fill-opacity="0.132"/><rect x="273.4" y="341.6" width="1" height="396.6" fill-opacity="0.122"/><rect x="274.4" y="341.6" width="1" height="396.6" fill-opacity="0.169"/><rect x="275.4" y="341.6" width="1" height="396.6" fill-opacity="0.280"/><rect x="276.4" y="341.6" width="1" height="396.6" fill-opacity="0.351"/><rect x="277.4" y="341.6" width="1" height="396.6" fill-opacity="0.217"/><rect x="278.4" y="341.6" width="1" height="396.6" fill-opacity="0.042"/><rect x="279.4" y="341.6" width="1" height="396.6" fill-opacity="0.084"/><rect x="280.4" y="341.6" width="1" height="396.6" fill-opacity="0.222"/><rect x="281.4" y="341.6" width="1" height="396.6" fill-opacity="0.252"/><rect x="282.4" y="341.6" width="1" height="396.6" fill-opacity="0.250"/><rect x="283.4" y="341.6" width="1" height="396.6" fill-opacity="0.262"/><rect x="284.4" y="341.6" width="1" height="396.6" fill-opacity="0.217"/><rect x="285.4" y="341.6" width="1" height="396.6" fill-opacity="0.180"/><rect x="286.4" y="341.6" width="1" height="396.6" fill-opacity="0.189"/><rect x="287.4" y="341.6" width="1" height="396.6" fill-opacity="0.142"/><rect x="288.4" y="341.6" width="1" height="396.6" fill-opacity="0.106"/><rect x="289.4" y="341.6" width="1" height="396.6" fill-opacity="0.199"/><rect x="290.4" y="341.6" width="1" height="396.6" fill-opacity="0.279"/><rect x="291.4" y="341.6" width="1" height="396.6" fill-opacity="0.251"/><rect x="292.4" y="341.6" width="1" height="396.6" fill-opacity="0.238"/><rect x="293.4" y="341.6" width="1" height="396.6" fill-opacity="0.222"/><rect x="294.4" y="341.6" width="1" height="396.6" fill-opacity="0.123"/><rect x="295.4" y="341.6" width="1" height="396.6" fill-opacity="0.120"/><rect x="296.4" y="341.6" width="1" height="396.6" fill-opacity="0.264"/><rect x="297.4" y="341.6" width="1" height="396.6" fill-opacity="0.287"/><rect x="298.4" y="341.6" width="1" height="396.6" fill-opacity="0.146"/><rect x="299.4" y="341.6" width="1" height="396.6" fill-opacity="0.092"/><rect x="300.4" y="341.6" width="1" height="396.6" fill-opacity="0.170"/><rect x="301.4" y="341.6" width="1" height="396.6" fill-opacity="0.266"/><rect x="302.4" y="341.6" width="1" height="396.6" fill-opacity="0.327"/><rect x="303.4" y="341.6" width="1" height="396.6" fill-opacity="0.261"/><rect x="304.4" y="341.6" width="1" height="396.6" fill-opacity="0.093"/><rect x="305.4" y="341.6" width="1" height="396.6" fill-opacity="0.082"/><rect x="306.4" y="341.6" width="1" height="396.6" fill-opacity="0.245"/><rect x="307.4" y="341.6" width="1" height="396.6" fill-opacity="0.283"/><rect x="308.4" y="341.6" width="1" height="396.6" fill-opacity="0.169"/><rect x="309.4" y="341.6" width="1" height="396.6" fill-opacity="0.138"/><rect x="310.4" y="341.6" width="1" height="396.6" fill-opacity="0.190"/><rect x="311.4" y="341.6" width="1" height="396.6" fill-opacity="0.229"/><rect x="312.4" y="341.6" width="1" height="396.6" fill-opacity="0.271"/><rect x="313.4" y="341.6" width="1" height="396.6" fill-opacity="0.252"/><rect x="314.4" y="341.6" width="1" height="396.6" fill-opacity="0.138"/><rect x="315.4" y="341.6" width="1" height="396.6" fill-opacity="0.115"/><rect x="316.4" y="341.6" width="1" height="396.6" fill-opacity="0.223"/><rect x="317.4" y="341.6" width="1" height="396.6" fill-opacity="0.254"/><rect x="318.4" y="341.6" width="1" height="396.6" fill-opacity="0.192"/><rect x="319.4" y="341.6" width="1" height="396.6" fill-opacity="0.171"/><rect x="320.4" y="341.6" width="1" height="396.6" fill-opacity="0.165"/><rect x="321.4" y="341.6" width="1" height="396.6" fill-opacity="0.178"/><rect x="322.4" y="341.6" width="1" height="396.6" fill-opacity="0.273"/><rect x="323.4" y="341.6" width="1" height="396.6" fill-opacity="0.301"/><rect x="324.4" y="341.6" width="1" height="396.6" fill-opacity="0.164"/><rect x="325.4" y="341.6" width="1" height="396.6" fill-opacity="0.092"/><rect x="326.4" y="341.6" width="1" height="396.6" fill-opacity="0.189"/><rect x="327.4" y="341.6" width="1" height="396.6" fill-opacity="0.253"/><rect x="328.4" y="341.6" width="1" height="396.6" fill-opacity="0.214"/><rect x="329.4" y="341.6" width="1" height="396.6" fill-opacity="0.175"/><rect x="330.4" y="341.6" width="1" height="396.6" fill-opacity="0.145"/><rect x="331.4" y="341.6" width="1" height="396.6" fill-opacity="0.175"/><rect x="332.4" y="341.6" width="1" height="396.6" fill-opacity="0.308"/><rect x="333.4" y="341.6" width="1" height="396.6" fill-opacity="0.336"/><rect x="334.4" y="341.6" width="1" height="396.6" fill-opacity="0.150"/><rect x="335.4" y="341.6" width="1" height="396.6" fill-opacity="0.030"/><rect x="336.4" y="341.6" width="1" height="396.6" fill-opacity="0.135"/><rect x="337.4" y="341.6" width="1" height="396.6" fill-opacity="0.261"/><rect x="338.4" y="341.6" width="1" height="396.6" fill-opacity="0.285"/><rect x="339.4" y="341.6" width="1" height="396.6" fill-opacity="0.255"/><rect x="340.4" y="341.6" width="1" height="396.6" fill-opacity="0.172"/><rect x="341.4" y="341.6" width="1" height="396.6" fill-opacity="0.117"/><rect x="342.4" y="341.6" width="1" height="396.6" fill-opacity="0.196"/><rect x="343.4" y="341.6" width="1" height="396.6" fill-opacity="0.274"/><rect x="344.4" y="341.6" width="1" height="396.6" fill-opacity="0.208"/><rect x="345.4" y="341.6" width="1" height="396.6" fill-opacity="0.142"/><rect x="346.4" y="341.6" width="1" height="396.6" fill-opacity="0.178"/><rect x="347.4" y="341.6" width="1" height="396.6" fill-opacity="0.213"/><rect x="348.4" y="341.6" width="1" height="396.6" fill-opacity="0.229"/><rect x="349.4" y="341.6" width="1" height="396.6" fill-opacity="0.256"/><rect x="350.4" y="341.6" width="1" height="396.6" fill-opacity="0.205"/><rect x="351.4" y="341.6" width="1" height="396.6" fill-opacity="0.107"/><rect x="352.4" y="341.6" width="1" height="396.6" fill-opacity="0.131"/><rect x="353.4" y="341.6" width="1" height="396.6" fill-opacity="0.250"/><rect x="354.4" y="341.6" width="1" height="396.6" fill-opacity="0.298"/><rect x="355.4" y="341.6" width="1" height="396.6" fill-opacity="0.240"/><rect x="356.4" y="341.6" width="1" height="396.6" fill-opacity="0.150"/><rect x="357.4" y="341.6" width="1" height="396.6" fill-opacity="0.110"/><rect x="358.4" y="341.6" width="1" height="396.6" fill-opacity="0.184"/><rect x="359.4" y="341.6" width="1" height="396.6" fill-opacity="0.279"/><rect x="360.4" y="341.6" width="1" height="396.6" fill-opacity="0.239"/><rect x="361.4" y="341.6" width="1" height="396.6" fill-opacity="0.138"/><rect x="362.4" y="341.6" width="1" height="396.6" fill-opacity="0.156"/><rect x="363.4" y="341.6" width="1" height="396.6" fill-opacity="0.246"/><rect x="364.4" y="341.6" width="1" height="396.6" fill-opacity="0.264"/><rect x="365.4" y="341.6" width="1" height="396.6" fill-opacity="0.201"/><rect x="366.4" y="341.6" width="1" height="396.6" fill-opacity="0.135"/><rect x="367.4" y="341.6" width="1" height="396.6" fill-opacity="0.140"/><rect x="368.4" y="341.6" width="1" height="396.6" fill-opacity="0.233"/><rect x="369.4" y="341.6" width="1" height="396.6" fill-opacity="0.284"/><rect x="370.4" y="341.6" width="1" height="396.6" fill-opacity="0.211"/><rect x="371.4" y="341.6" width="1" height="396.6" fill-opacity="0.140"/><rect x="372.4" y="341.6" width="1" height="396.6" fill-opacity="0.157"/><rect x="373.4" y="341.6" width="1" height="396.6" fill-opacity="0.189"/><rect x="374.4" y="341.6" width="1" height="396.6" fill-opacity="0.224"/><rect x="375.4" y="341.6" width="1" height="396.6" fill-opacity="0.281"/><rect x="376.4" y="341.6" width="1" height="396.6" fill-opacity="0.251"/><rect x="377.4" y="341.6" width="1" height="396.6" fill-opacity="0.133"/><rect x="378.4" y="341.6" width="1" height="396.6" fill-opacity="0.109"/><rect x="379.4" y="341.6" width="1" height="396.6" fill-opacity="0.191"/><rect x="380.4" y="341.6" width="1" height="396.6" fill-opacity="0.235"/><rect x="381.4" y="341.6" width="1" height="396.6" fill-opacity="0.234"/><rect x="382.4" y="341.6" width="1" height="396.6" fill-opacity="0.230"/><rect x="383.4" y="341.6" width="1" height="396.6" fill-opacity="0.200"/><rect x="384.4" y="341.6" width="1" height="396.6" fill-opacity="0.190"/><rect x="385.4" y="341.6" width="1" height="396.6" fill-opacity="0.217"/><rect x="386.4" y="341.6" width="1" height="396.6" fill-opacity="0.173"/><rect x="387.4" y="341.6" width="1" height="396.6" fill-opacity="0.100"/><rect x="388.4" y="341.6" width="1" height="396.6" fill-opacity="0.180"/><rect x="389.4" y="341.6" width="1" height="396.6" fill-opacity="0.325"/><rect x="390.4" y="341.6" width="1" height="396.6" fill-opacity="0.303"/><rect x="391.4" y="341.6" width="1" height="396.6" fill-opacity="0.169"/><rect x="392.4" y="341.6" width="1" height="396.6" fill-opacity="0.106"/><rect x="393.4" y="341.6" width="1" height="396.6" fill-opacity="0.125"/><rect x="394.4" y="341.6" width="1" height="396.6" fill-opacity="0.190"/><rect x="395.4" y="341.6" width="1" height="396.6" fill-opacity="0.275"/><rect x="396.4" y="341.6" width="1" height="396.6" fill-opacity="0.280"/><rect x="397.4" y="341.6" width="1" height="396.6" fill-opacity="0.189"/><rect x="398.4" y="341.6" width="1" height="396.6" fill-opacity="0.140"/><rect x="399.4" y="341.6" width="1" height="396.6" fill-opacity="0.182"/><rect x="400.4" y="341.6" width="1" height="396.6" fill-opacity="0.229"/><rect x="401.4" y="341.6" width="1" height="396.6" fill-opacity="0.228"/><rect x="402.4" y="341.6" width="1" height="396.6" fill-opacity="0.183"/><rect x="403.4" y="341.6" width="1" height="396.6" fill-opacity="0.131"/><rect x="404.4" y="341.6" width="1" height="396.6" fill-opacity="0.160"/><rect x="405.4" y="341.6" width="1" height="396.6" fill-opacity="0.270"/><rect x="406.4" y="341.6" width="1" height="396.6" fill-opacity="0.319"/><rect x="407.4" y="341.6" width="1" height="396.6" fill-opacity="0.234"/><rect x="408.4" y="341.6" width="1" height="396.6" fill-opacity="0.106"/><rect x="409.4" y="341.6" width="1" height="396.6" fill-opacity="0.064"/><rect x="410.4" y="341.6" width="1" height="396.6" fill-opacity="0.157"/><rect x="411.4" y="341.6" width="1" height="396.6" fill-opacity="0.295"/><rect x="412.4" y="341.6" width="1" height="396.6" fill-opacity="0.326"/><rect x="413.4" y="341.6" width="1" height="396.6" fill-opacity="0.247"/><rect x="414.4" y="341.6" width="1" height="396.6" fill-opacity="0.160"/><rect x="415.4" y="341.6" width="1" height="396.6" fill-opacity="0.097"/><rect x="416.4" y="341.6" width="1" height="396.6" fill-opacity="0.093"/><rect x="417.4" y="341.6" width="1" height="396.6" fill-opacity="0.203"/><rect x="418.4" y="341.6" width="1" height="396.6" fill-opacity="0.309"/><rect x="419.4" y="341.6" width="1" height="396.6" fill-opacity="0.276"/><rect x="420.4" y="341.6" width="1" height="396.6" fill-opacity="0.220"/><rect x="421.4" y="341.6" width="1" height="396.6" fill-opacity="0.223"/><rect x="422.4" y="341.6" width="1" height="396.6" fill-opacity="0.159"/><rect x="423.4" y="341.6" width="1" height="396.6" fill-opacity="0.060"/><rect x="424.4" y="341.6" width="1" height="396.6" fill-opacity="0.110"/><rect x="425.4" y="341.6" width="1" height="396.6" fill-opacity="0.248"/><rect x="426.4" y="341.6" width="1" height="396.6" fill-opacity="0.314"/><rect x="427.4" y="341.6" width="1" height="396.6" fill-opacity="0.318"/><rect x="428.4" y="341.6" width="1" height="396.6" fill-opacity="0.245"/><rect x="429.4" y="341.6" width="1" height="396.6" fill-opacity="0.096"/><rect x="430.4" y="341.6" width="1" height="396.6" fill-opacity="0.074"/><rect x="431.4" y="341.6" width="1" height="396.6" fill-opacity="0.209"/><rect x="432.4" y="341.6" width="1" height="396.6" fill-opacity="0.236"/><rect x="433.4" y="341.6" width="1" height="396.6" fill-opacity="0.161"/><rect x="434.4" y="341.6" width="1" height="396.6" fill-opacity="0.219"/><rect x="435.4" y="341.6" width="1" height="396.6" fill-opacity="0.299"/><rect x="436.4" y="341.6" width="1" height="396.6" fill-opacity="0.220"/><rect x="437.4" y="341.6" width="1" height="396.6" fill-opacity="0.151"/><rect x="438.4" y="341.6" width="1" height="396.6" fill-opacity="0.187"/><rect x="439.4" y="341.6" width="1" height="396.6" fill-opacity="0.181"/><rect x="440.4" y="341.6" width="1" height="396.6" fill-opacity="0.164"/><rect x="441.4" y="341.6" width="1" height="396.6" fill-opacity="0.224"/><rect x="442.4" y="341.6" width="1" height="396.6" fill-opacity="0.237"/><rect x="443.4" y="341.6" width="1" height="396.6" fill-opacity="0.181"/><rect x="444.4" y="341.6" width="1" height="396.6" fill-opacity="0.183"/><rect x="445.4" y="341.6" width="1" height="396.6" fill-opacity="0.201"/><rect x="446.4" y="341.6" width="1" height="396.6" fill-opacity="0.194"/><rect x="447.4" y="341.6" width="1" height="396.6" fill-opacity="0.260"/><rect x="448.4" y="341.6" width="1" height="396.6" fill-opacity="0.285"/><rect x="449.4" y="341.6" width="1" height="396.6" fill-opacity="0.126"/><rect x="450.4" y="341.6" width="1" height="396.6" fill-opacity="0.029"/><rect x="451.4" y="341.6" width="1" height="396.6" fill-opacity="0.184"/><rect x="452.4" y="341.6" width="1" height="396.6" fill-opacity="0.338"/><rect x="453.4" y="341.6" width="1" height="396.6" fill-opacity="0.305"/><rect x="454.4" y="341.6" width="1" height="396.6" fill-opacity="0.199"/><rect x="455.4" y="341.6" width="1" height="396.6" fill-opacity="0.111"/><rect x="456.4" y="341.6" width="1" height="396.6" fill-opacity="0.104"/><rect x="457.4" y="341.6" width="1" height="396.6" fill-opacity="0.213"/><rect x="458.4" y="341.6" width="1" height="396.6" fill-opacity="0.271"/><rect x="459.4" y="341.6" width="1" height="396.6" fill-opacity="0.203"/><rect x="460.4" y="341.6" width="1" height="396.6" fill-opacity="0.210"/><rect x="461.4" y="341.6" width="1" height="396.6" fill-opacity="0.270"/><rect x="462.4" y="341.6" width="1" height="396.6" fill-opacity="0.172"/><rect x="463.4" y="341.6" width="1" height="396.6" fill-opacity="0.070"/><rect x="464.4" y="341.6" width="1" height="396.6" fill-opacity="0.172"/><rect x="465.4" y="341.6" width="1" height="396.6" fill-opacity="0.274"/><rect x="466.4" y="341.6" width="1" height="396.6" fill-opacity="0.248"/><rect x="467.4" y="341.6" width="1" height="396.6" fill-opacity="0.240"/><rect x="468.4" y="341.6" width="1" height="396.6" fill-opacity="0.209"/><rect x="469.4" y="341.6" width="1" height="396.6" fill-opacity="0.108"/><rect x="470.4" y="341.6" width="1" height="396.6" fill-opacity="0.144"/><rect x="471.4" y="341.6" width="1" height="396.6" fill-opacity="0.268"/><rect x="472.4" y="341.6" width="1" height="396.6" fill-opacity="0.229"/><rect x="473.4" y="341.6" width="1" height="396.6" fill-opacity="0.162"/><rect x="474.4" y="341.6" width="1" height="396.6" fill-opacity="0.233"/><rect x="475.4" y="341.6" width="1" height="396.6" fill-opacity="0.220"/><rect x="476.4" y="341.6" width="1" height="396.6" fill-opacity="0.125"/><rect x="477.4" y="341.6" width="1" height="396.6" fill-opacity="0.207"/><rect x="478.4" y="341.6" width="1" height="396.6" fill-opacity="0.297"/><rect x="479.4" y="341.6" width="1" height="396.6" fill-opacity="0.170"/><rect x="480.4" y="341.6" width="1" height="396.6" fill-opacity="0.104"/><rect x="481.4" y="341.6" width="1" height="396.6" fill-opacity="0.219"/><rect x="482.4" y="341.6" width="1" height="396.6" fill-opacity="0.237"/><rect x="483.4" y="341.6" width="1" height="396.6" fill-opacity="0.188"/><rect x="484.4" y="341.6" width="1" height="396.6" fill-opacity="0.258"/><rect x="485.4" y="341.6" width="1" height="396.6" fill-opacity="0.259"/><rect x="486.4" y="341.6" width="1" height="396.6" fill-opacity="0.129"/><rect x="487.4" y="341.6" width="1" height="396.6" fill-opacity="0.123"/><rect x="488.4" y="341.6" width="1" height="396.6" fill-opacity="0.190"/><rect x="489.4" y="341.6" width="1" height="396.6" fill-opacity="0.158"/><rect x="490.4" y="341.6" width="1" height="396.6" fill-opacity="0.208"/><rect x="491.4" y="341.6" width="1" height="396.6" fill-opacity="0.366"/><rect x="492.4" y="341.6" width="1" height="396.6" fill-opacity="0.321"/><rect x="493.4" y="341.6" width="1" height="396.6" fill-opacity="0.112"/><rect x="494.4" y="341.6" width="1" height="396.6" fill-opacity="0.052"/><rect x="495.4" y="341.6" width="1" height="396.6" fill-opacity="0.120"/><rect x="496.4" y="341.6" width="1" height="396.6" fill-opacity="0.185"/><rect x="497.4" y="341.6" width="1" height="396.6" fill-opacity="0.286"/><rect x="498.4" y="341.6" width="1" height="396.6" fill-opacity="0.331"/><rect x="499.4" y="341.6" width="1" height="396.6" fill-opacity="0.224"/><rect x="500.4" y="341.6" width="1" height="396.6" fill-opacity="0.139"/><rect x="501.4" y="341.6" width="1" height="396.6" fill-opacity="0.163"/><rect x="502.4" y="341.6" width="1" height="396.6" fill-opacity="0.161"/><rect x="503.4" y="341.6" width="1" height="396.6" fill-opacity="0.154"/><rect x="504.4" y="341.6" width="1" height="396.6" fill-opacity="0.231"/><rect x="505.4" y="341.6" width="1" height="396.6" fill-opacity="0.283"/><rect x="506.4" y="341.6" width="1" height="396.6" fill-opacity="0.238"/><rect x="507.4" y="341.6" width="1" height="396.6" fill-opacity="0.174"/><rect x="508.4" y="341.6" width="1" height="396.6" fill-opacity="0.128"/><rect x="509.4" y="341.6" width="1" height="396.6" fill-opacity="0.138"/><rect x="510.4" y="341.6" width="1" height="396.6" fill-opacity="0.233"/><rect x="511.4" y="341.6" width="1" height="396.6" fill-opacity="0.277"/><rect x="512.4" y="341.6" width="1" height="396.6" fill-opacity="0.214"/><rect x="513.4" y="341.6" width="1" height="396.6" fill-opacity="0.196"/><rect x="514.4" y="341.6" width="1" height="396.6" fill-opacity="0.219"/><rect x="515.4" y="341.6" width="1" height="396.6" fill-opacity="0.163"/><rect x="516.4" y="341.6" width="1" height="396.6" fill-opacity="0.131"/><rect x="517.4" y="341.6" width="1" height="396.6" fill-opacity="0.205"/><rect x="518.4" y="341.6" width="1" height="396.6" fill-opacity="0.229"/><rect x="519.4" y="341.6" width="1" height="396.6" fill-opacity="0.201"/><rect x="520.4" y="341.6" width="1" height="396.6" fill-opacity="0.239"/><rect x="521.4" y="341.6" width="1" height="396.6" fill-opacity="0.233"/><rect x="522.4" y="341.6" width="1" height="396.6" fill-opacity="0.145"/><rect x="523.4" y="341.6" width="1" height="396.6" fill-opacity="0.167"/><rect x="524.4" y="341.6" width="1" height="396.6" fill-opacity="0.246"/><rect x="525.4" y="341.6" width="1" height="396.6" fill-opacity="0.204"/><rect x="526.4" y="341.6" width="1" height="396.6" fill-opacity="0.184"/><rect x="527.4" y="341.6" width="1" height="396.6" fill-opacity="0.253"/><rect x="528.4" y="341.6" width="1" height="396.6" fill-opacity="0.186"/><rect x="529.4" y="341.6" width="1" height="396.6" fill-opacity="0.063"/><rect x="530.4" y="341.6" width="1" height="396.6" fill-opacity="0.161"/><rect x="531.4" y="341.6" width="1" height="396.6" fill-opacity="0.312"/><rect x="532.4" y="341.6" width="1" height="396.6" fill-opacity="0.278"/><rect x="533.4" y="341.6" width="1" height="396.6" fill-opacity="0.227"/><rect x="534.4" y="341.6" width="1" height="396.6" fill-opacity="0.239"/><rect x="535.4" y="341.6" width="1" height="396.6" fill-opacity="0.154"/><rect x="536.4" y="341.6" width="1" height="396.6" fill-opacity="0.074"/><rect x="537.4" y="341.6" width="1" height="396.6" fill-opacity="0.153"/><rect x="538.4" y="341.6" width="1" height="396.6" fill-opacity="0.220"/><rect x="539.4" y="341.6" width="1" height="396.6" fill-opacity="0.201"/><rect x="540.4" y="341.6" width="1" height="396.6" fill-opacity="0.250"/><rect x="541.4" y="341.6" width="1" height="396.6" fill-opacity="0.301"/><rect x="542.4" y="341.6" width="1" height="396.6" fill-opacity="0.220"/><rect x="543.4" y="341.6" width="1" height="396.6" fill-opacity="0.158"/><rect x="544.4" y="341.6" width="1" height="396.6" fill-opacity="0.196"/><rect x="545.4" y="341.6" width="1" height="396.6" fill-opacity="0.185"/><rect x="546.4" y="341.6" width="1" height="396.6" fill-opacity="0.131"/><rect x="547.4" y="341.6" width="1" height="396.6" fill-opacity="0.157"/><rect x="548.4" y="341.6" width="1" height="396.6" fill-opacity="0.203"/><rect x="549.4" y="341.6" width="1" height="396.6" fill-opacity="0.209"/><rect x="550.4" y="341.6" width="1" height="396.6" fill-opacity="0.248"/><rect x="551.4" y="341.6" width="1" height="396.6" fill-opacity="0.299"/><rect x="552.4" y="341.6" width="1" height="396.6" fill-opacity="0.248"/><rect x="553.4" y="341.6" width="1" height="396.6" fill-opacity="0.135"/><rect x="554.4" y="341.6" width="1" height="396.6" fill-opacity="0.105"/><rect x="555.4" y="341.6" width="1" height="396.6" fill-opacity="0.187"/><rect x="556.4" y="341.6" width="1" height="396.6" fill-opacity="0.257"/></g><g style="mix-blend-mode:multiply"><rect x="164.40" y="341.6" width="1.8" height="396.6" fill="url(#dkb0)"/><rect x="512.46" y="341.6" width="1.8" height="396.6" fill="url(#dkb1)"/><rect x="335.60" y="341.6" width="4.2" height="396.6" fill="url(#dkb2)"/><rect x="343.60" y="341.6" width="3.0" height="396.6" fill="url(#dkb3)"/><rect x="230.25" y="341.6" width="1.5" height="396.6" fill="url(#dkb4)"/><rect x="451.79" y="341.6" width="1.5" height="396.6" fill="url(#dkb5)"/></g></g><rect x="122.40" y="341.60" width="434.40" height="396.60" fill="none" stroke="#000" stroke-width="2.2"/><path d="M122.40 738.20V743.7M122.40 744.1V745.9" stroke="#000" stroke-width="2.1"/><path d="M231.00 738.20V743.7M231.00 744.1V745.9" stroke="#000" stroke-width="2.1"/><path d="M339.60 738.20V743.7M339.60 744.1V745.9" stroke="#000" stroke-width="2.1"/><path d="M448.20 738.20V743.7M448.20 744.1V745.9" stroke="#000" stroke-width="2.1"/><path d="M556.80 738.20V743.7M556.80 744.1V745.9" stroke="#000" stroke-width="2.1"/><line x1="122.40" y1="381.26" x2="116.70" y2="381.26" stroke="#000" stroke-width="2.0"/><line x1="122.40" y1="460.58" x2="116.70" y2="460.58" stroke="#000" stroke-width="2.0"/><line x1="122.40" y1="539.90" x2="116.70" y2="539.90" stroke="#000" stroke-width="2.0"/><line x1="122.40" y1="619.22" x2="116.70" y2="619.22" stroke="#000" stroke-width="2.0"/><line x1="122.40" y1="698.54" x2="116.70" y2="698.54" stroke="#000" stroke-width="2.0"/><defs><linearGradient id="cbb" x1="0" y1="0" x2="0" y2="1"><stop offset="0.0000" stop-color="#000004"/><stop offset="0.0208" stop-color="#02020c"/><stop offset="0.0417" stop-color="#050417"/><stop offset="0.0625" stop-color="#0b0724"/><stop offset="0.0833" stop-color="#110a30"/><stop offset="0.1042" stop-color="#180c3c"/><stop offset="0.1250" stop-color="#210c4a"/><stop offset="0.1458" stop-color="#290b55"/><stop offset="0.1667" stop-color="#320a5e"/><stop offset="0.1875" stop-color="#3d0965"/><stop offset="0.2083" stop-color="#450a69"/><stop offset="0.2292" stop-color="#4d0d6c"/><stop offset="0.2500" stop-color="#57106e"/><stop offset="0.2708" stop-color="#5f136e"/><stop offset="0.2917" stop-color="#67166e"/><stop offset="0.3125" stop-color="#71196e"/><stop offset="0.3333" stop-color="#781c6d"/><stop offset="0.3542" stop-color="#801f6c"/><stop offset="0.3750" stop-color="#8a226a"/><stop offset="0.3958" stop-color="#922568"/><stop offset="0.4167" stop-color="#9a2865"/><stop offset="0.4375" stop-color="#a32c61"/><stop offset="0.4583" stop-color="#ab2f5e"/><stop offset="0.4792" stop-color="#b3325a"/><stop offset="0.5000" stop-color="#bc3754"/><stop offset="0.5208" stop-color="#c33b4f"/><stop offset="0.5417" stop-color="#ca404a"/><stop offset="0.5625" stop-color="#d24644"/><stop offset="0.5833" stop-color="#d84c3e"/><stop offset="0.6042" stop-color="#de5238"/><stop offset="0.6250" stop-color="#e45a31"/><stop offset="0.6458" stop-color="#e9612b"/><stop offset="0.6667" stop-color="#ed6925"/><stop offset="0.6875" stop-color="#f1731d"/><stop offset="0.7083" stop-color="#f57b17"/><stop offset="0.7292" stop-color="#f78410"/><stop offset="0.7500" stop-color="#f98e09"/><stop offset="0.7708" stop-color="#fb9706"/><stop offset="0.7917" stop-color="#fca108"/><stop offset="0.8125" stop-color="#fcac11"/><stop offset="0.8333" stop-color="#fbb61a"/><stop offset="0.8542" stop-color="#fac026"/><stop offset="0.8750" stop-color="#f9cb35"/><stop offset="0.8958" stop-color="#f6d543"/><stop offset="0.9167" stop-color="#f4df53"/><stop offset="0.9375" stop-color="#f2ea69"/><stop offset="0.9583" stop-color="#f2f27d"/><stop offset="0.9792" stop-color="#f5f992"/><stop offset="1.0000" stop-color="#fcffa4"/></linearGradient></defs><rect x="584.2" y="341.8" width="19.299999999999955" height="396.7" fill="url(#cbb)"/><rect x="584.20" y="341.80" width="19.30" height="396.70" fill="none" stroke="#000" stroke-width="2.2"/><line x1="603.50" y1="341.80" x2="609.20" y2="341.80" stroke="#000" stroke-width="2.0"/><line x1="603.50" y1="421.14" x2="609.20" y2="421.14" stroke="#000" stroke-width="2.0"/><line x1="603.50" y1="500.48" x2="609.20" y2="500.48" stroke="#000" stroke-width="2.0"/><line x1="603.50" y1="579.82" x2="609.20" y2="579.82" stroke="#000" stroke-width="2.0"/><line x1="603.50" y1="659.16" x2="609.20" y2="659.16" stroke="#000" stroke-width="2.0"/><line x1="603.50" y1="738.50" x2="609.20" y2="738.50" stroke="#000" stroke-width="2.0"/><filter id="cmd" filterUnits="userSpaceOnUse" x="903.5" y="341.2" width="435.20000000000005" height="397.50000000000006" color-interpolation-filters="sRGB"><feComponentTransfer><feFuncR type="table" tableValues="0.0015 0.0023 0.0033 0.0045 0.006 0.0077 0.0096 0.0117 0.014 0.0166 0.0194 0.0224 0.0258 0.0294 0.0334 0.0377 0.0423 0.0469 0.0516 0.0564 0.0613 0.0663 0.0714 0.0766 0.082 0.0874 0.093 0.0987 0.1046 0.1105 0.1167 0.1229 0.1293 0.1358 0.1424 0.1491 0.1558 0.1627 0.1696 0.1765 0.1834 0.1904 0.1973 0.2042 0.2111 0.2179 0.2248 0.2315 0.2383 0.245 0.2516 0.2582 0.2648 0.2713 0.2778 0.2843 0.2908 0.2972 0.3036 0.3099 0.3163 0.3226 0.3289 0.3352 0.3415 0.3478 0.354 0.3603 0.3665 0.3728 0.379 0.3852 0.3915 0.3977 0.4039 0.4101 0.4163 0.4225 0.4288 0.435 0.4412 0.4474 0.4537 0.4599 0.4661 0.4723 0.4786 0.4848 0.491 0.4973 0.5035 0.5097 0.516 0.5222 0.5284 0.5347 0.5409 0.5472 0.5534 0.5596 0.5659 0.5721 0.5783 0.5845 0.5907 0.5969 0.6031 0.6093 0.6155 0.6217 0.6278 0.634 0.6401 0.6463 0.6524 0.6585 0.6645 0.6706 0.6766 0.6827 0.6887 0.6946 0.7006 0.7065 0.7124 0.7183 0.7241 0.7299 0.7357 0.7414 0.7471 0.7528 0.7584 0.764 0.7696 0.7751 0.7805 0.7859 0.7913 0.7966 0.8019 0.8071 0.8122 0.8173 0.8224 0.8274 0.8323 0.8372 0.842 0.8467 0.8514 0.856 0.8605 0.865 0.8694 0.8737 0.878 0.8822 0.8863 0.8903 0.8943 0.8982 0.902 0.9057 0.9094 0.913 0.9165 0.9199 0.9232 0.9265 0.9296 0.9327 0.9357 0.9387 0.9415 0.9443 0.947 0.9496 0.9521 0.9545 0.9569 0.9591 0.9613 0.9634 0.9654 0.9673 0.9692 0.9709 0.9726 0.9742 0.9757 0.9771 0.9784 0.9797 0.9808 0.9819 0.9829 0.9838 0.9846 0.9853 0.986 0.9865 0.987 0.9873 0.9876 0.9878 0.9879 0.9879 0.9879 0.9877 0.9875 0.9871 0.9867 0.9862 0.9856 0.9849 0.9841 0.9832 0.9822 0.9812 0.98 0.9788 0.9775 0.9761 0.9746 0.9731 0.9715 0.9698 0.968 0.9662 0.9644 0.9625 0.9606 0.9587 0.9568 0.955 0.9532 0.9515 0.95 0.9487 0.9476 0.9468 0.9464 0.9464 0.9469 0.9479 0.9495 0.9517 0.9545 0.9579 0.9618 0.9662 0.9712 0.9765 0.9823 0.9884"/><feFuncG type="table" tableValues="0.0005 0.0013 0.0022 0.0034 0.0047 0.0061 0.0077 0.0094 0.0112 0.0131 0.0151 0.0172 0.0193 0.0215 0.0237 0.0259 0.0281 0.0303 0.0325 0.0346 0.0366 0.0385 0.0403 0.0419 0.0433 0.0446 0.0456 0.0464 0.047 0.0474 0.0476 0.0475 0.0473 0.0469 0.0462 0.0455 0.0446 0.0436 0.0425 0.0414 0.0403 0.0393 0.0384 0.0376 0.037 0.0366 0.0364 0.0364 0.0366 0.0371 0.0377 0.0386 0.0396 0.0409 0.0424 0.0439 0.0456 0.0475 0.0494 0.0514 0.0535 0.0556 0.0578 0.0601 0.0623 0.0646 0.0669 0.0692 0.0716 0.0739 0.0763 0.0786 0.0809 0.0833 0.0856 0.0879 0.0902 0.0925 0.0948 0.0971 0.0993 0.1016 0.1038 0.1061 0.1083 0.1105 0.1128 0.115 0.1172 0.1194 0.1216 0.1238 0.126 0.1281 0.1303 0.1325 0.1347 0.1369 0.1391 0.1413 0.1436 0.1458 0.148 0.1503 0.1526 0.1548 0.1572 0.1595 0.1618 0.1642 0.1666 0.169 0.1714 0.1739 0.1764 0.179 0.1815 0.1842 0.1868 0.1895 0.1922 0.195 0.1979 0.2007 0.2037 0.2066 0.2097 0.2128 0.2159 0.2191 0.2224 0.2257 0.2291 0.2326 0.2361 0.2397 0.2433 0.2471 0.2509 0.2547 0.2587 0.2627 0.2668 0.271 0.2752 0.2795 0.2839 0.2884 0.2929 0.2976 0.3023 0.307 0.3119 0.3168 0.3218 0.3269 0.3321 0.3373 0.3426 0.348 0.3534 0.3589 0.3645 0.3701 0.3759 0.3816 0.3875 0.3934 0.3994 0.4054 0.4115 0.4176 0.4238 0.4301 0.4364 0.4428 0.4492 0.4557 0.4622 0.4687 0.4754 0.482 0.4887 0.4955 0.5022 0.5091 0.5159 0.5229 0.5298 0.5368 0.5438 0.5508 0.5579 0.5651 0.5722 0.5794 0.5866 0.5938 0.6011 0.6084 0.6158 0.6231 0.6305 0.6379 0.6453 0.6528 0.6603 0.6677 0.6753 0.6828 0.6904 0.6979 0.7055 0.7132 0.7208 0.7284 0.7361 0.7438 0.7514 0.7591 0.7668 0.7745 0.7823 0.79 0.7977 0.8054 0.8131 0.8208 0.8285 0.8362 0.8438 0.8515 0.8591 0.8666 0.8741 0.8816 0.8889 0.8962 0.9034 0.9105 0.9174 0.9242 0.9308 0.9372 0.9433 0.9493 0.9551 0.9606 0.9659 0.971 0.9759 0.9807 0.9853 0.9898 0.9941 0.9984"/><feFuncB type="table" tableValues="0.0139 0.0186 0.0242 0.0309 0.0386 0.0468 0.0551 0.0635 0.0719 0.0803 0.0888 0.0973 0.1059 0.1146 0.1234 0.1322 0.1411 0.1502 0.1593 0.1684 0.1776 0.187 0.1964 0.2058 0.2153 0.2248 0.2344 0.2439 0.2534 0.2629 0.2723 0.2816 0.2908 0.2998 0.3086 0.3171 0.3253 0.3333 0.3409 0.3481 0.355 0.3614 0.3675 0.3732 0.3786 0.3835 0.3881 0.3924 0.3964 0.4 0.4034 0.4065 0.4093 0.412 0.4144 0.4166 0.4186 0.4205 0.4222 0.4237 0.4251 0.4264 0.4275 0.4285 0.4294 0.4302 0.4309 0.4315 0.432 0.4324 0.4327 0.433 0.4331 0.4332 0.4332 0.4331 0.4329 0.4327 0.4324 0.432 0.4316 0.4311 0.4305 0.4298 0.4291 0.4283 0.4275 0.4265 0.4256 0.4245 0.4234 0.4222 0.4209 0.4195 0.4181 0.4167 0.4151 0.4135 0.4118 0.4101 0.4083 0.4064 0.4044 0.4024 0.4003 0.3981 0.3959 0.3936 0.3912 0.3888 0.3863 0.3837 0.3811 0.3784 0.3756 0.3727 0.3698 0.3669 0.3638 0.3608 0.3576 0.3544 0.3511 0.3478 0.3444 0.3409 0.3374 0.3339 0.3302 0.3266 0.3229 0.3191 0.3153 0.3114 0.3075 0.3035 0.2995 0.2955 0.2914 0.2873 0.2831 0.2789 0.2747 0.2704 0.2661 0.2617 0.2574 0.253 0.2486 0.2441 0.2396 0.2351 0.2306 0.2261 0.2215 0.2169 0.2123 0.2076 0.203 0.1983 0.1936 0.1889 0.1841 0.1794 0.1746 0.1698 0.1649 0.1601 0.1552 0.1503 0.1454 0.1404 0.1354 0.1304 0.1254 0.1204 0.1153 0.1102 0.105 0.0999 0.0947 0.0895 0.0843 0.0791 0.0739 0.0687 0.0635 0.0584 0.0533 0.0484 0.0436 0.0391 0.0349 0.0314 0.0285 0.0262 0.0247 0.0238 0.0236 0.0242 0.0256 0.0278 0.0309 0.0349 0.0399 0.0456 0.0517 0.0583 0.0653 0.0725 0.08 0.0877 0.0957 0.1039 0.1122 0.1208 0.1295 0.1385 0.1476 0.1569 0.1664 0.176 0.1859 0.196 0.2063 0.2169 0.2277 0.2387 0.25 0.2615 0.2734 0.2855 0.298 0.3108 0.324 0.3375 0.3514 0.3656 0.3803 0.3953 0.4107 0.4264 0.4424 0.4586 0.475 0.4914 0.5079 0.5242 0.5404 0.5563 0.5719 0.5872 0.6022 0.6168 0.631 0.6449"/></feComponentTransfer></filter><linearGradient id="gdd"><stop offset="0.000" stop-color="#fff" stop-opacity="0.011"/><stop offset="0.042" stop-color="#fff" stop-opacity="0.023"/><stop offset="0.083" stop-color="#fff" stop-opacity="0.044"/><stop offset="0.125" stop-color="#fff" stop-opacity="0.080"/><stop offset="0.167" stop-color="#fff" stop-opacity="0.135"/><stop offset="0.208" stop-color="#fff" stop-opacity="0.216"/><stop offset="0.250" stop-color="#fff" stop-opacity="0.325"/><stop offset="0.292" stop-color="#fff" stop-opacity="0.458"/><stop offset="0.333" stop-color="#fff" stop-opacity="0.607"/><stop offset="0.375" stop-color="#fff" stop-opacity="0.755"/><stop offset="0.417" stop-color="#fff" stop-opacity="0.882"/><stop offset="0.458" stop-color="#fff" stop-opacity="0.969"/><stop offset="0.500" stop-color="#fff" stop-opacity="1.000"/><stop offset="0.542" stop-color="#fff" stop-opacity="0.969"/><stop offset="0.583" stop-color="#fff" stop-opacity="0.882"/><stop offset="0.625" stop-color="#fff" stop-opacity="0.755"/><stop offset="0.667" stop-color="#fff" stop-opacity="0.607"/><stop offset="0.708" stop-color="#fff" stop-opacity="0.458"/><stop offset="0.750" stop-color="#fff" stop-opacity="0.325"/><stop offset="0.792" stop-color="#fff" stop-opacity="0.216"/><stop offset="0.833" stop-color="#fff" stop-opacity="0.135"/><stop offset="0.875" stop-color="#fff" stop-opacity="0.080"/><stop offset="0.917" stop-color="#fff" stop-opacity="0.044"/><stop offset="0.958" stop-color="#fff" stop-opacity="0.023"/><stop offset="1.000" stop-color="#fff" stop-opacity="0.011"/></linearGradient><g filter="url(#cmd)"><rect x="901.5" y="339.2" width="439.20000000000005" height="401.50000000000006" fill="#000"/><g fill="url(#gdd)" shape-rendering="crispEdges"><rect x="1107.8" y="341.20" width="24.4" height="4.97" fill-opacity="0.20"/><rect x="1107.4" y="346.17" width="25.2" height="4.97" fill-opacity="0.23"/><rect x="1107.0" y="351.14" width="26.0" height="4.97" fill-opacity="0.26"/><rect x="1106.6" y="356.11" width="26.9" height="4.97" fill-opacity="0.28"/><rect x="1106.2" y="361.07" width="27.7" height="4.97" fill-opacity="0.31"/><rect x="1105.8" y="366.04" width="28.5" height="4.97" fill-opacity="0.34"/><rect x="1105.4" y="371.01" width="29.3" height="4.97" fill-opacity="0.37"/><rect x="1104.9" y="375.98" width="30.2" height="4.97" fill-opacity="0.40"/><rect x="1103.7" y="380.95" width="32.6" height="4.97" fill-opacity="0.45"/><rect x="1102.5" y="385.92" width="35.0" height="4.97" fill-opacity="0.50"/><rect x="1101.3" y="390.89" width="37.4" height="4.97" fill-opacity="0.55"/><rect x="1100.1" y="395.86" width="39.8" height="4.97" fill-opacity="0.60"/><rect x="1098.9" y="400.82" width="42.2" height="4.97" fill-opacity="0.65"/><rect x="1097.7" y="405.79" width="44.6" height="4.97" fill-opacity="0.68"/><rect x="1096.5" y="410.76" width="47.0" height="4.97" fill-opacity="0.71"/><rect x="1095.3" y="415.73" width="49.4" height="4.97" fill-opacity="0.73"/><rect x="1094.1" y="420.70" width="51.8" height="4.97" fill-opacity="0.76"/><rect x="1092.9" y="425.67" width="54.2" height="4.97" fill-opacity="0.79"/><rect x="1091.7" y="430.64" width="56.7" height="4.97" fill-opacity="0.81"/><rect x="1090.5" y="435.61" width="59.1" height="4.97" fill-opacity="0.84"/><rect x="1088.5" y="440.57" width="63.0" height="4.97" fill-opacity="0.86"/><rect x="1086.1" y="445.54" width="67.8" height="4.97" fill-opacity="0.88"/><rect x="1083.7" y="450.51" width="72.6" height="4.97" fill-opacity="0.89"/><rect x="1081.3" y="455.48" width="77.5" height="4.97" fill-opacity="0.91"/><rect x="1078.8" y="460.45" width="82.3" height="4.97" fill-opacity="0.92"/><rect x="1076.4" y="465.42" width="87.1" height="4.97" fill-opacity="0.94"/><rect x="1074.0" y="470.39" width="92.0" height="4.97" fill-opacity="0.96"/><rect x="1071.3" y="475.36" width="97.3" height="4.97" fill-opacity="0.97"/><rect x="1067.5" y="480.33" width="105.1" height="4.97" fill-opacity="0.98"/><rect x="1063.6" y="485.29" width="112.9" height="4.97" fill-opacity="0.98"/><rect x="1059.7" y="490.26" width="120.6" height="4.97" fill-opacity="0.99"/><rect x="1055.8" y="495.23" width="128.4" height="4.97" fill-opacity="1.00"/><rect x="1052.4" y="500.20" width="135.2" height="4.97" fill-opacity="1.00"/><rect x="1049.4" y="505.17" width="141.2" height="4.97" fill-opacity="1.00"/><rect x="1046.4" y="510.14" width="147.1" height="4.97" fill-opacity="1.00"/><rect x="1043.4" y="515.11" width="153.1" height="4.97" fill-opacity="1.00"/><rect x="1040.5" y="520.08" width="159.1" height="4.97" fill-opacity="1.00"/><rect x="1039.0" y="525.04" width="162.0" height="4.97" fill-opacity="1.00"/><rect x="1039.0" y="530.01" width="162.0" height="4.97" fill-opacity="1.00"/><rect x="1039.0" y="534.98" width="162.0" height="4.97" fill-opacity="1.00"/><rect x="1039.0" y="539.95" width="162.0" height="4.97" fill-opacity="1.00"/><rect x="1039.0" y="544.92" width="162.0" height="4.97" fill-opacity="1.00"/><rect x="1044.6" y="549.89" width="150.8" height="4.97" fill-opacity="1.00"/><rect x="1051.0" y="554.86" width="138.0" height="4.97" fill-opacity="1.00"/><rect x="1057.4" y="559.83" width="125.2" height="4.97" fill-opacity="1.00"/><rect x="1064.0" y="564.79" width="111.9" height="4.97" fill-opacity="0.99"/><rect x="1070.7" y="569.76" width="98.7" height="4.97" fill-opacity="0.98"/><rect x="1077.3" y="574.73" width="85.4" height="4.97" fill-opacity="0.97"/><rect x="1081.8" y="579.70" width="76.4" height="4.97" fill-opacity="0.97"/><rect x="1083.7" y="584.67" width="72.6" height="4.97" fill-opacity="0.96"/><rect x="1085.5" y="589.64" width="68.9" height="4.97" fill-opacity="0.95"/><rect x="1087.4" y="594.61" width="65.2" height="4.97" fill-opacity="0.95"/><rect x="1089.3" y="599.58" width="61.5" height="4.97" fill-opacity="0.94"/><rect x="1091.1" y="604.54" width="57.7" height="4.97" fill-opacity="0.94"/><rect x="1093.0" y="609.51" width="54.0" height="4.97" fill-opacity="0.93"/><rect x="1094.0" y="614.48" width="52.0" height="4.97" fill-opacity="0.91"/><rect x="1095.0" y="619.45" width="50.0" height="4.97" fill-opacity="0.90"/><rect x="1096.0" y="624.42" width="48.0" height="4.97" fill-opacity="0.88"/><rect x="1097.0" y="629.39" width="45.9" height="4.97" fill-opacity="0.86"/><rect x="1098.0" y="634.36" width="43.9" height="4.97" fill-opacity="0.84"/><rect x="1099.0" y="639.33" width="41.9" height="4.97" fill-opacity="0.83"/><rect x="1100.0" y="644.29" width="39.9" height="4.97" fill-opacity="0.81"/><rect x="1100.8" y="649.26" width="38.3" height="4.97" fill-opacity="0.79"/><rect x="1101.4" y="654.23" width="37.1" height="4.97" fill-opacity="0.76"/><rect x="1102.0" y="659.20" width="35.9" height="4.97" fill-opacity="0.73"/><rect x="1102.6" y="664.17" width="34.7" height="4.97" fill-opacity="0.70"/><rect x="1103.3" y="669.14" width="33.5" height="4.97" fill-opacity="0.68"/><rect x="1103.9" y="674.11" width="32.3" height="4.97" fill-opacity="0.65"/><rect x="1104.5" y="679.08" width="31.1" height="4.97" fill-opacity="0.62"/><rect x="1105.1" y="684.04" width="29.8" height="4.97" fill-opacity="0.59"/><rect x="1106.0" y="689.01" width="28.0" height="4.97" fill-opacity="0.53"/><rect x="1106.9" y="693.98" width="26.2" height="4.97" fill-opacity="0.47"/><rect x="1107.8" y="698.95" width="24.4" height="4.97" fill-opacity="0.41"/><rect x="1108.7" y="703.92" width="22.7" height="4.97" fill-opacity="0.36"/><rect x="1109.5" y="708.89" width="20.9" height="4.97" fill-opacity="0.30"/><rect x="1110.0" y="713.86" width="20.1" height="4.97" fill-opacity="0.23"/><rect x="1110.4" y="718.83" width="19.2" height="4.97" fill-opacity="0.17"/><rect x="1110.8" y="723.79" width="18.3" height="4.97" fill-opacity="0.10"/><rect x="1140.9" y="385.92" width="20.0" height="4.97" fill-opacity="0.14"/><rect x="1079.0" y="385.92" width="20.0" height="4.97" fill-opacity="0.14"/><rect x="1139.4" y="390.89" width="23.0" height="4.97" fill-opacity="0.26"/><rect x="1077.6" y="390.89" width="23.0" height="4.97" fill-opacity="0.26"/><rect x="1137.9" y="395.86" width="26.0" height="4.97" fill-opacity="0.35"/><rect x="1076.1" y="395.86" width="26.0" height="4.97" fill-opacity="0.35"/><rect x="1136.3" y="400.82" width="29.0" height="4.97" fill-opacity="0.42"/><rect x="1074.7" y="400.82" width="29.0" height="4.97" fill-opacity="0.42"/><rect x="1134.8" y="405.79" width="32.0" height="4.97" fill-opacity="0.50"/><rect x="1073.2" y="405.79" width="32.0" height="4.97" fill-opacity="0.50"/><rect x="1133.3" y="410.76" width="34.9" height="4.97" fill-opacity="0.57"/><rect x="1071.8" y="410.76" width="34.9" height="4.97" fill-opacity="0.57"/><rect x="1132.3" y="415.73" width="36.8" height="4.97" fill-opacity="0.62"/><rect x="1070.9" y="415.73" width="36.8" height="4.97" fill-opacity="0.62"/><rect x="1131.7" y="420.70" width="38.0" height="4.97" fill-opacity="0.64"/><rect x="1070.3" y="420.70" width="38.0" height="4.97" fill-opacity="0.64"/><rect x="1131.0" y="425.67" width="39.2" height="4.97" fill-opacity="0.66"/><rect x="1069.8" y="425.67" width="39.2" height="4.97" fill-opacity="0.66"/><rect x="1130.4" y="430.64" width="40.3" height="4.97" fill-opacity="0.69"/><rect x="1069.2" y="430.64" width="40.3" height="4.97" fill-opacity="0.69"/><rect x="1129.8" y="435.61" width="41.5" height="4.97" fill-opacity="0.71"/><rect x="1068.7" y="435.61" width="41.5" height="4.97" fill-opacity="0.71"/><rect x="1128.3" y="440.57" width="44.3" height="4.97" fill-opacity="0.74"/><rect x="1067.4" y="440.57" width="44.3" height="4.97" fill-opacity="0.74"/><rect x="1126.4" y="445.54" width="48.0" height="4.97" fill-opacity="0.77"/><rect x="1065.5" y="445.54" width="48.0" height="4.97" fill-opacity="0.77"/><rect x="1124.5" y="450.51" width="51.7" height="4.97" fill-opacity="0.80"/><rect x="1063.7" y="450.51" width="51.7" height="4.97" fill-opacity="0.80"/><rect x="1122.6" y="455.48" width="55.5" height="4.97" fill-opacity="0.82"/><rect x="1061.9" y="455.48" width="55.5" height="4.97" fill-opacity="0.82"/><rect x="1120.7" y="460.45" width="59.2" height="4.97" fill-opacity="0.85"/><rect x="1060.1" y="460.45" width="59.2" height="4.97" fill-opacity="0.85"/><rect x="1119.5" y="465.42" width="61.6" height="4.97" fill-opacity="0.87"/><rect x="1058.9" y="465.42" width="61.6" height="4.97" fill-opacity="0.87"/><rect x="1118.4" y="470.39" width="63.7" height="4.97" fill-opacity="0.88"/><rect x="1057.9" y="470.39" width="63.7" height="4.97" fill-opacity="0.88"/><rect x="1117.3" y="475.36" width="65.8" height="4.97" fill-opacity="0.89"/><rect x="1056.9" y="475.36" width="65.8" height="4.97" fill-opacity="0.89"/><rect x="1116.2" y="480.33" width="67.8" height="4.97" fill-opacity="0.90"/><rect x="1055.9" y="480.33" width="67.8" height="4.97" fill-opacity="0.90"/><rect x="1115.2" y="485.29" width="69.9" height="4.97" fill-opacity="0.91"/><rect x="1054.9" y="485.29" width="69.9" height="4.97" fill-opacity="0.91"/><rect x="1114.1" y="490.26" width="72.0" height="4.97" fill-opacity="0.92"/><rect x="1053.9" y="490.26" width="72.0" height="4.97" fill-opacity="0.92"/><rect x="1113.0" y="495.23" width="74.0" height="4.97" fill-opacity="0.93"/><rect x="1053.0" y="495.23" width="74.0" height="4.97" fill-opacity="0.93"/><rect x="1112.4" y="500.20" width="74.8" height="4.97" fill-opacity="0.93"/><rect x="1052.8" y="500.20" width="74.8" height="4.97" fill-opacity="0.93"/><rect x="1112.1" y="505.17" width="74.4" height="4.97" fill-opacity="0.93"/><rect x="1053.4" y="505.17" width="74.4" height="4.97" fill-opacity="0.93"/><rect x="1111.9" y="510.14" width="74.1" height="4.97" fill-opacity="0.94"/><rect x="1054.0" y="510.14" width="74.1" height="4.97" fill-opacity="0.94"/><rect x="1111.7" y="515.11" width="73.7" height="4.97" fill-opacity="0.94"/><rect x="1054.6" y="515.11" width="73.7" height="4.97" fill-opacity="0.94"/><rect x="1111.4" y="520.08" width="73.3" height="4.97" fill-opacity="0.94"/><rect x="1055.2" y="520.08" width="73.3" height="4.97" fill-opacity="0.94"/><rect x="1111.2" y="525.04" width="73.0" height="4.97" fill-opacity="0.94"/><rect x="1055.8" y="525.04" width="73.0" height="4.97" fill-opacity="0.94"/><rect x="1111.0" y="530.01" width="72.6" height="4.97" fill-opacity="0.95"/><rect x="1056.4" y="530.01" width="72.6" height="4.97" fill-opacity="0.95"/><rect x="1110.7" y="534.98" width="72.3" height="4.97" fill-opacity="0.95"/><rect x="1057.0" y="534.98" width="72.3" height="4.97" fill-opacity="0.95"/><rect x="1110.9" y="539.95" width="71.1" height="4.97" fill-opacity="0.95"/><rect x="1058.0" y="539.95" width="71.1" height="4.97" fill-opacity="0.95"/><rect x="1112.1" y="544.92" width="68.0" height="4.97" fill-opacity="0.95"/><rect x="1060.0" y="544.92" width="68.0" height="4.97" fill-opacity="0.95"/><rect x="1113.2" y="549.89" width="64.9" height="4.97" fill-opacity="0.95"/><rect x="1061.9" y="549.89" width="64.9" height="4.97" fill-opacity="0.95"/><rect x="1114.3" y="554.86" width="61.8" height="4.97" fill-opacity="0.95"/><rect x="1063.9" y="554.86" width="61.8" height="4.97" fill-opacity="0.95"/><rect x="1115.6" y="559.83" width="58.7" height="4.97" fill-opacity="0.95"/><rect x="1065.7" y="559.83" width="58.7" height="4.97" fill-opacity="0.95"/><rect x="1116.7" y="564.79" width="56.2" height="4.97" fill-opacity="0.95"/><rect x="1067.2" y="564.79" width="56.2" height="4.97" fill-opacity="0.95"/><rect x="1117.4" y="569.76" width="54.4" height="4.97" fill-opacity="0.94"/><rect x="1068.2" y="569.76" width="54.4" height="4.97" fill-opacity="0.94"/><rect x="1118.1" y="574.73" width="52.6" height="4.97" fill-opacity="0.94"/><rect x="1069.3" y="574.73" width="52.6" height="4.97" fill-opacity="0.94"/><rect x="1118.9" y="579.70" width="50.8" height="4.97" fill-opacity="0.93"/><rect x="1070.3" y="579.70" width="50.8" height="4.97" fill-opacity="0.93"/><rect x="1119.6" y="584.67" width="49.0" height="4.97" fill-opacity="0.92"/><rect x="1071.4" y="584.67" width="49.0" height="4.97" fill-opacity="0.92"/><rect x="1120.4" y="589.64" width="47.1" height="4.97" fill-opacity="0.91"/><rect x="1072.5" y="589.64" width="47.1" height="4.97" fill-opacity="0.91"/><rect x="1121.2" y="594.61" width="45.1" height="4.97" fill-opacity="0.90"/><rect x="1073.7" y="594.61" width="45.1" height="4.97" fill-opacity="0.90"/><rect x="1122.1" y="599.58" width="43.1" height="4.97" fill-opacity="0.88"/><rect x="1074.9" y="599.58" width="43.1" height="4.97" fill-opacity="0.88"/><rect x="1122.9" y="604.54" width="41.0" height="4.97" fill-opacity="0.87"/><rect x="1076.1" y="604.54" width="41.0" height="4.97" fill-opacity="0.87"/><rect x="1123.8" y="609.51" width="39.0" height="4.97" fill-opacity="0.85"/><rect x="1077.2" y="609.51" width="39.0" height="4.97" fill-opacity="0.85"/><rect x="1124.2" y="614.48" width="37.8" height="4.97" fill-opacity="0.82"/><rect x="1078.0" y="614.48" width="37.8" height="4.97" fill-opacity="0.82"/><rect x="1124.7" y="619.45" width="36.6" height="4.97" fill-opacity="0.78"/><rect x="1078.7" y="619.45" width="36.6" height="4.97" fill-opacity="0.78"/><rect x="1125.3" y="624.42" width="35.4" height="4.97" fill-opacity="0.75"/><rect x="1079.3" y="624.42" width="35.4" height="4.97" fill-opacity="0.75"/><rect x="1125.9" y="629.39" width="34.2" height="4.97" fill-opacity="0.72"/><rect x="1079.9" y="629.39" width="34.2" height="4.97" fill-opacity="0.72"/><rect x="1126.5" y="634.36" width="33.0" height="4.97" fill-opacity="0.68"/><rect x="1080.5" y="634.36" width="33.0" height="4.97" fill-opacity="0.68"/><rect x="1127.1" y="639.33" width="31.7" height="4.97" fill-opacity="0.65"/><rect x="1081.1" y="639.33" width="31.7" height="4.97" fill-opacity="0.65"/><rect x="1127.7" y="644.29" width="30.5" height="4.97" fill-opacity="0.62"/><rect x="1081.7" y="644.29" width="30.5" height="4.97" fill-opacity="0.62"/><rect x="1128.7" y="649.26" width="28.7" height="4.97" fill-opacity="0.55"/><rect x="1082.7" y="649.26" width="28.7" height="4.97" fill-opacity="0.55"/><rect x="1129.8" y="654.23" width="26.3" height="4.97" fill-opacity="0.45"/><rect x="1083.8" y="654.23" width="26.3" height="4.97" fill-opacity="0.45"/><rect x="1131.0" y="659.20" width="24.0" height="4.97" fill-opacity="0.35"/><rect x="1085.0" y="659.20" width="24.0" height="4.97" fill-opacity="0.35"/><rect x="1132.2" y="664.17" width="21.6" height="4.97" fill-opacity="0.25"/><rect x="1086.2" y="664.17" width="21.6" height="4.97" fill-opacity="0.25"/><rect x="1132.9" y="669.14" width="20.2" height="4.97" fill-opacity="0.17"/><rect x="1086.9" y="669.14" width="20.2" height="4.97" fill-opacity="0.17"/><rect x="1133.4" y="674.11" width="19.2" height="4.97" fill-opacity="0.10"/><rect x="1087.4" y="674.11" width="19.2" height="4.97" fill-opacity="0.10"/><rect x="1134.0" y="679.08" width="18.1" height="4.97" fill-opacity="0.04"/><rect x="1088.0" y="679.08" width="18.1" height="4.97" fill-opacity="0.04"/><rect x="1173.8" y="341.20" width="18.4" height="4.97" fill-opacity="0.16"/><rect x="1047.8" y="341.20" width="18.4" height="4.97" fill-opacity="0.16"/><rect x="1173.4" y="346.17" width="19.2" height="4.97" fill-opacity="0.19"/><rect x="1047.3" y="346.17" width="19.2" height="4.97" fill-opacity="0.19"/><rect x="1173.1" y="351.14" width="20.0" height="4.97" fill-opacity="0.22"/><rect x="1046.9" y="351.14" width="20.0" height="4.97" fill-opacity="0.22"/><rect x="1172.7" y="356.11" width="20.9" height="4.97" fill-opacity="0.25"/><rect x="1046.4" y="356.11" width="20.9" height="4.97" fill-opacity="0.25"/><rect x="1172.3" y="361.07" width="21.7" height="4.97" fill-opacity="0.27"/><rect x="1046.0" y="361.07" width="21.7" height="4.97" fill-opacity="0.27"/><rect x="1172.0" y="366.04" width="22.5" height="4.97" fill-opacity="0.30"/><rect x="1045.6" y="366.04" width="22.5" height="4.97" fill-opacity="0.30"/><rect x="1171.6" y="371.01" width="23.3" height="4.97" fill-opacity="0.33"/><rect x="1045.1" y="371.01" width="23.3" height="4.97" fill-opacity="0.33"/><rect x="1171.2" y="375.98" width="24.2" height="4.97" fill-opacity="0.36"/><rect x="1044.6" y="375.98" width="24.2" height="4.97" fill-opacity="0.36"/><rect x="1170.3" y="380.95" width="25.9" height="4.97" fill-opacity="0.43"/><rect x="1043.7" y="380.95" width="25.9" height="4.97" fill-opacity="0.43"/><rect x="1169.5" y="385.92" width="27.7" height="4.97" fill-opacity="0.50"/><rect x="1042.8" y="385.92" width="27.7" height="4.97" fill-opacity="0.50"/><rect x="1168.7" y="390.89" width="29.4" height="4.97" fill-opacity="0.58"/><rect x="1041.9" y="390.89" width="29.4" height="4.97" fill-opacity="0.58"/><rect x="1168.0" y="395.86" width="30.9" height="4.97" fill-opacity="0.61"/><rect x="1041.1" y="395.86" width="30.9" height="4.97" fill-opacity="0.61"/><rect x="1167.3" y="400.82" width="32.2" height="4.97" fill-opacity="0.63"/><rect x="1040.4" y="400.82" width="32.2" height="4.97" fill-opacity="0.63"/><rect x="1166.7" y="405.79" width="33.5" height="4.97" fill-opacity="0.65"/><rect x="1039.7" y="405.79" width="33.5" height="4.97" fill-opacity="0.65"/><rect x="1166.1" y="410.76" width="34.9" height="4.97" fill-opacity="0.67"/><rect x="1039.0" y="410.76" width="34.9" height="4.97" fill-opacity="0.67"/><rect x="1165.5" y="415.73" width="36.2" height="4.97" fill-opacity="0.69"/><rect x="1038.3" y="415.73" width="36.2" height="4.97" fill-opacity="0.69"/><rect x="1164.8" y="420.70" width="37.5" height="4.97" fill-opacity="0.71"/><rect x="1037.7" y="420.70" width="37.5" height="4.97" fill-opacity="0.71"/><rect x="1164.2" y="425.67" width="38.8" height="4.97" fill-opacity="0.73"/><rect x="1037.0" y="425.67" width="38.8" height="4.97" fill-opacity="0.73"/><rect x="1163.6" y="430.64" width="40.2" height="4.97" fill-opacity="0.75"/><rect x="1036.3" y="430.64" width="40.2" height="4.97" fill-opacity="0.75"/><rect x="1163.0" y="435.61" width="41.5" height="4.97" fill-opacity="0.77"/><rect x="1035.6" y="435.61" width="41.5" height="4.97" fill-opacity="0.77"/><rect x="1162.5" y="440.57" width="42.5" height="4.97" fill-opacity="0.78"/><rect x="1035.0" y="440.57" width="42.5" height="4.97" fill-opacity="0.78"/><rect x="1162.2" y="445.54" width="43.2" height="4.97" fill-opacity="0.79"/><rect x="1034.6" y="445.54" width="43.2" height="4.97" fill-opacity="0.79"/><rect x="1161.8" y="450.51" width="43.9" height="4.97" fill-opacity="0.79"/><rect x="1034.2" y="450.51" width="43.9" height="4.97" fill-opacity="0.79"/><rect x="1161.5" y="455.48" width="44.7" height="4.97" fill-opacity="0.80"/><rect x="1033.8" y="455.48" width="44.7" height="4.97" fill-opacity="0.80"/><rect x="1161.2" y="460.45" width="45.4" height="4.97" fill-opacity="0.80"/><rect x="1033.4" y="460.45" width="45.4" height="4.97" fill-opacity="0.80"/><rect x="1160.8" y="465.42" width="46.2" height="4.97" fill-opacity="0.81"/><rect x="1033.0" y="465.42" width="46.2" height="4.97" fill-opacity="0.81"/><rect x="1160.5" y="470.39" width="46.9" height="4.97" fill-opacity="0.81"/><rect x="1032.6" y="470.39" width="46.9" height="4.97" fill-opacity="0.81"/><rect x="1160.1" y="475.36" width="47.7" height="4.97" fill-opacity="0.82"/><rect x="1032.2" y="475.36" width="47.7" height="4.97" fill-opacity="0.82"/><rect x="1160.1" y="480.33" width="48.0" height="4.97" fill-opacity="0.82"/><rect x="1031.9" y="480.33" width="48.0" height="4.97" fill-opacity="0.82"/><rect x="1160.4" y="485.29" width="48.0" height="4.97" fill-opacity="0.82"/><rect x="1031.6" y="485.29" width="48.0" height="4.97" fill-opacity="0.82"/><rect x="1160.6" y="490.26" width="48.0" height="4.97" fill-opacity="0.82"/><rect x="1031.4" y="490.26" width="48.0" height="4.97" fill-opacity="0.82"/><rect x="1160.9" y="495.23" width="48.0" height="4.97" fill-opacity="0.81"/><rect x="1031.1" y="495.23" width="48.0" height="4.97" fill-opacity="0.81"/><rect x="1161.1" y="500.20" width="48.0" height="4.97" fill-opacity="0.81"/><rect x="1030.9" y="500.20" width="48.0" height="4.97" fill-opacity="0.81"/><rect x="1161.4" y="505.17" width="48.0" height="4.97" fill-opacity="0.81"/><rect x="1030.6" y="505.17" width="48.0" height="4.97" fill-opacity="0.81"/><rect x="1161.6" y="510.14" width="48.0" height="4.97" fill-opacity="0.81"/><rect x="1030.4" y="510.14" width="48.0" height="4.97" fill-opacity="0.81"/><rect x="1161.9" y="515.11" width="48.0" height="4.97" fill-opacity="0.81"/><rect x="1030.1" y="515.11" width="48.0" height="4.97" fill-opacity="0.81"/><rect x="1162.1" y="520.08" width="48.0" height="4.97" fill-opacity="0.81"/><rect x="1029.9" y="520.08" width="48.0" height="4.97" fill-opacity="0.81"/><rect x="1162.4" y="525.04" width="48.0" height="4.97" fill-opacity="0.80"/><rect x="1029.6" y="525.04" width="48.0" height="4.97" fill-opacity="0.80"/><rect x="1162.6" y="530.01" width="48.0" height="4.97" fill-opacity="0.80"/><rect x="1029.4" y="530.01" width="48.0" height="4.97" fill-opacity="0.80"/><rect x="1162.9" y="534.98" width="48.0" height="4.97" fill-opacity="0.80"/><rect x="1029.1" y="534.98" width="48.0" height="4.97" fill-opacity="0.80"/><rect x="1163.3" y="539.95" width="47.6" height="4.97" fill-opacity="0.80"/><rect x="1029.1" y="539.95" width="47.6" height="4.97" fill-opacity="0.80"/><rect x="1164.4" y="544.92" width="46.0" height="4.97" fill-opacity="0.79"/><rect x="1029.6" y="544.92" width="46.0" height="4.97" fill-opacity="0.79"/><rect x="1165.4" y="549.89" width="44.5" height="4.97" fill-opacity="0.78"/><rect x="1030.1" y="549.89" width="44.5" height="4.97" fill-opacity="0.78"/><rect x="1166.4" y="554.86" width="43.0" height="4.97" fill-opacity="0.77"/><rect x="1030.6" y="554.86" width="43.0" height="4.97" fill-opacity="0.77"/><rect x="1167.4" y="559.83" width="41.4" height="4.97" fill-opacity="0.76"/><rect x="1031.1" y="559.83" width="41.4" height="4.97" fill-opacity="0.76"/><rect x="1168.5" y="564.79" width="39.9" height="4.97" fill-opacity="0.75"/><rect x="1031.6" y="564.79" width="39.9" height="4.97" fill-opacity="0.75"/><rect x="1169.6" y="569.76" width="38.4" height="4.97" fill-opacity="0.74"/><rect x="1032.0" y="569.76" width="38.4" height="4.97" fill-opacity="0.74"/><rect x="1170.7" y="574.73" width="36.9" height="4.97" fill-opacity="0.73"/><rect x="1032.4" y="574.73" width="36.9" height="4.97" fill-opacity="0.73"/><rect x="1171.7" y="579.70" width="35.5" height="4.97" fill-opacity="0.71"/><rect x="1032.8" y="579.70" width="35.5" height="4.97" fill-opacity="0.71"/><rect x="1172.6" y="584.67" width="34.4" height="4.97" fill-opacity="0.68"/><rect x="1033.0" y="584.67" width="34.4" height="4.97" fill-opacity="0.68"/><rect x="1173.5" y="589.64" width="33.3" height="4.97" fill-opacity="0.65"/><rect x="1033.2" y="589.64" width="33.3" height="4.97" fill-opacity="0.65"/><rect x="1174.4" y="594.61" width="32.2" height="4.97" fill-opacity="0.63"/><rect x="1033.4" y="594.61" width="32.2" height="4.97" fill-opacity="0.63"/><rect x="1175.3" y="599.58" width="31.0" height="4.97" fill-opacity="0.60"/><rect x="1033.7" y="599.58" width="31.0" height="4.97" fill-opacity="0.60"/><rect x="1176.2" y="604.54" width="29.9" height="4.97" fill-opacity="0.57"/><rect x="1033.9" y="604.54" width="29.9" height="4.97" fill-opacity="0.57"/><rect x="1177.1" y="609.51" width="28.8" height="4.97" fill-opacity="0.54"/><rect x="1034.1" y="609.51" width="28.8" height="4.97" fill-opacity="0.54"/><rect x="1178.0" y="614.48" width="27.7" height="4.97" fill-opacity="0.52"/><rect x="1034.4" y="614.48" width="27.7" height="4.97" fill-opacity="0.52"/><rect x="1178.7" y="619.45" width="26.6" height="4.97" fill-opacity="0.49"/><rect x="1034.7" y="619.45" width="26.6" height="4.97" fill-opacity="0.49"/><rect x="1179.3" y="624.42" width="25.6" height="4.97" fill-opacity="0.45"/><rect x="1035.1" y="624.42" width="25.6" height="4.97" fill-opacity="0.45"/><rect x="1179.9" y="629.39" width="24.6" height="4.97" fill-opacity="0.42"/><rect x="1035.5" y="629.39" width="24.6" height="4.97" fill-opacity="0.42"/><rect x="1180.5" y="634.36" width="23.6" height="4.97" fill-opacity="0.39"/><rect x="1035.9" y="634.36" width="23.6" height="4.97" fill-opacity="0.39"/><rect x="1181.0" y="639.33" width="22.6" height="4.97" fill-opacity="0.35"/><rect x="1036.3" y="639.33" width="22.6" height="4.97" fill-opacity="0.35"/><rect x="1181.6" y="644.29" width="21.6" height="4.97" fill-opacity="0.32"/><rect x="1036.7" y="644.29" width="21.6" height="4.97" fill-opacity="0.32"/><rect x="1182.1" y="649.26" width="20.8" height="4.97" fill-opacity="0.28"/><rect x="1037.1" y="649.26" width="20.8" height="4.97" fill-opacity="0.28"/><rect x="1182.5" y="654.23" width="20.2" height="4.97" fill-opacity="0.24"/><rect x="1037.3" y="654.23" width="20.2" height="4.97" fill-opacity="0.24"/><rect x="1182.9" y="659.20" width="19.5" height="4.97" fill-opacity="0.19"/><rect x="1037.5" y="659.20" width="19.5" height="4.97" fill-opacity="0.19"/><rect x="1183.3" y="664.17" width="18.9" height="4.97" fill-opacity="0.15"/><rect x="1037.8" y="664.17" width="18.9" height="4.97" fill-opacity="0.15"/><rect x="1183.7" y="669.14" width="18.3" height="4.97" fill-opacity="0.10"/><rect x="1038.0" y="669.14" width="18.3" height="4.97" fill-opacity="0.10"/><rect x="1157.2" y="495.23" width="25.6" height="4.97" fill-opacity="0.15"/><rect x="1057.2" y="495.23" width="25.6" height="4.97" fill-opacity="0.15"/><rect x="1155.7" y="500.20" width="28.6" height="4.97" fill-opacity="0.25"/><rect x="1055.7" y="500.20" width="28.6" height="4.97" fill-opacity="0.25"/><rect x="1154.2" y="505.17" width="31.6" height="4.97" fill-opacity="0.35"/><rect x="1054.2" y="505.17" width="31.6" height="4.97" fill-opacity="0.35"/><rect x="1152.7" y="510.14" width="34.6" height="4.97" fill-opacity="0.45"/><rect x="1052.7" y="510.14" width="34.6" height="4.97" fill-opacity="0.45"/><rect x="1151.6" y="515.11" width="36.8" height="4.97" fill-opacity="0.54"/><rect x="1051.6" y="515.11" width="36.8" height="4.97" fill-opacity="0.54"/><rect x="1150.9" y="520.08" width="38.3" height="4.97" fill-opacity="0.61"/><rect x="1050.9" y="520.08" width="38.3" height="4.97" fill-opacity="0.61"/><rect x="1150.1" y="525.04" width="39.8" height="4.97" fill-opacity="0.69"/><rect x="1050.1" y="525.04" width="39.8" height="4.97" fill-opacity="0.69"/><rect x="1149.4" y="530.01" width="41.2" height="4.97" fill-opacity="0.76"/><rect x="1049.4" y="530.01" width="41.2" height="4.97" fill-opacity="0.76"/><rect x="1148.9" y="534.98" width="42.3" height="4.97" fill-opacity="0.81"/><rect x="1048.9" y="534.98" width="42.3" height="4.97" fill-opacity="0.81"/><rect x="1148.6" y="539.95" width="42.9" height="4.97" fill-opacity="0.83"/><rect x="1048.6" y="539.95" width="42.9" height="4.97" fill-opacity="0.83"/><rect x="1148.3" y="544.92" width="43.5" height="4.97" fill-opacity="0.85"/><rect x="1048.3" y="544.92" width="43.5" height="4.97" fill-opacity="0.85"/><rect x="1148.0" y="549.89" width="44.1" height="4.97" fill-opacity="0.87"/><rect x="1048.0" y="549.89" width="44.1" height="4.97" fill-opacity="0.87"/><rect x="1147.7" y="554.86" width="44.7" height="4.97" fill-opacity="0.89"/><rect x="1047.7" y="554.86" width="44.7" height="4.97" fill-opacity="0.89"/><rect x="1147.7" y="559.83" width="44.5" height="4.97" fill-opacity="0.90"/><rect x="1047.7" y="559.83" width="44.5" height="4.97" fill-opacity="0.90"/><rect x="1148.2" y="564.79" width="43.5" height="4.97" fill-opacity="0.90"/><rect x="1048.2" y="564.79" width="43.5" height="4.97" fill-opacity="0.90"/><rect x="1148.7" y="569.76" width="42.6" height="4.97" fill-opacity="0.89"/><rect x="1048.7" y="569.76" width="42.6" height="4.97" fill-opacity="0.89"/><rect x="1149.2" y="574.73" width="41.6" height="4.97" fill-opacity="0.89"/><rect x="1049.2" y="574.73" width="41.6" height="4.97" fill-opacity="0.89"/><rect x="1149.7" y="579.70" width="40.6" height="4.97" fill-opacity="0.89"/><rect x="1049.7" y="579.70" width="40.6" height="4.97" fill-opacity="0.89"/><rect x="1150.2" y="584.67" width="39.6" height="4.97" fill-opacity="0.88"/><rect x="1050.2" y="584.67" width="39.6" height="4.97" fill-opacity="0.88"/><rect x="1150.7" y="589.64" width="38.6" height="4.97" fill-opacity="0.88"/><rect x="1050.7" y="589.64" width="38.6" height="4.97" fill-opacity="0.88"/><rect x="1151.2" y="594.61" width="37.6" height="4.97" fill-opacity="0.87"/><rect x="1051.2" y="594.61" width="37.6" height="4.97" fill-opacity="0.87"/><rect x="1151.7" y="599.58" width="36.6" height="4.97" fill-opacity="0.86"/><rect x="1051.7" y="599.58" width="36.6" height="4.97" fill-opacity="0.86"/><rect x="1152.2" y="604.54" width="35.6" height="4.97" fill-opacity="0.85"/><rect x="1052.2" y="604.54" width="35.6" height="4.97" fill-opacity="0.85"/><rect x="1152.7" y="609.51" width="34.6" height="4.97" fill-opacity="0.84"/><rect x="1052.7" y="609.51" width="34.6" height="4.97" fill-opacity="0.84"/><rect x="1153.2" y="614.48" width="33.6" height="4.97" fill-opacity="0.83"/><rect x="1053.2" y="614.48" width="33.6" height="4.97" fill-opacity="0.83"/><rect x="1153.6" y="619.45" width="32.8" height="4.97" fill-opacity="0.81"/><rect x="1053.6" y="619.45" width="32.8" height="4.97" fill-opacity="0.81"/><rect x="1153.8" y="624.42" width="32.3" height="4.97" fill-opacity="0.79"/><rect x="1053.8" y="624.42" width="32.3" height="4.97" fill-opacity="0.79"/><rect x="1154.1" y="629.39" width="31.8" height="4.97" fill-opacity="0.76"/><rect x="1054.1" y="629.39" width="31.8" height="4.97" fill-opacity="0.76"/><rect x="1154.3" y="634.36" width="31.3" height="4.97" fill-opacity="0.74"/><rect x="1054.3" y="634.36" width="31.3" height="4.97" fill-opacity="0.74"/><rect x="1154.6" y="639.33" width="30.8" height="4.97" fill-opacity="0.72"/><rect x="1054.6" y="639.33" width="30.8" height="4.97" fill-opacity="0.72"/><rect x="1154.8" y="644.29" width="30.3" height="4.97" fill-opacity="0.70"/><rect x="1054.8" y="644.29" width="30.3" height="4.97" fill-opacity="0.70"/><rect x="1155.1" y="649.26" width="29.8" height="4.97" fill-opacity="0.67"/><rect x="1055.1" y="649.26" width="29.8" height="4.97" fill-opacity="0.67"/><rect x="1155.4" y="654.23" width="29.2" height="4.97" fill-opacity="0.64"/><rect x="1055.4" y="654.23" width="29.2" height="4.97" fill-opacity="0.64"/><rect x="1155.7" y="659.20" width="28.5" height="4.97" fill-opacity="0.60"/><rect x="1055.7" y="659.20" width="28.5" height="4.97" fill-opacity="0.60"/><rect x="1156.0" y="664.17" width="27.9" height="4.97" fill-opacity="0.57"/><rect x="1056.0" y="664.17" width="27.9" height="4.97" fill-opacity="0.57"/><rect x="1156.4" y="669.14" width="27.3" height="4.97" fill-opacity="0.54"/><rect x="1056.4" y="669.14" width="27.3" height="4.97" fill-opacity="0.54"/><rect x="1156.8" y="674.11" width="26.4" height="4.97" fill-opacity="0.50"/><rect x="1056.8" y="674.11" width="26.4" height="4.97" fill-opacity="0.50"/><rect x="1157.4" y="679.08" width="25.3" height="4.97" fill-opacity="0.45"/><rect x="1057.4" y="679.08" width="25.3" height="4.97" fill-opacity="0.45"/><rect x="1157.9" y="684.04" width="24.1" height="4.97" fill-opacity="0.40"/><rect x="1057.9" y="684.04" width="24.1" height="4.97" fill-opacity="0.40"/><rect x="1158.5" y="689.01" width="23.0" height="4.97" fill-opacity="0.36"/><rect x="1058.5" y="689.01" width="23.0" height="4.97" fill-opacity="0.36"/><rect x="1159.1" y="693.98" width="21.8" height="4.97" fill-opacity="0.31"/><rect x="1059.1" y="693.98" width="21.8" height="4.97" fill-opacity="0.31"/><rect x="1159.6" y="698.95" width="20.7" height="4.97" fill-opacity="0.26"/><rect x="1059.6" y="698.95" width="20.7" height="4.97" fill-opacity="0.26"/><rect x="1160.1" y="703.92" width="19.8" height="4.97" fill-opacity="0.19"/><rect x="1060.1" y="703.92" width="19.8" height="4.97" fill-opacity="0.19"/><rect x="1160.6" y="708.89" width="18.9" height="4.97" fill-opacity="0.12"/><rect x="1060.6" y="708.89" width="18.9" height="4.97" fill-opacity="0.12"/><rect x="1209.6" y="405.79" width="12.8" height="4.97" fill-opacity="0.10"/><rect x="1017.6" y="405.79" width="12.8" height="4.97" fill-opacity="0.10"/><rect x="1209.1" y="410.76" width="14.0" height="4.97" fill-opacity="0.14"/><rect x="1016.9" y="410.76" width="14.0" height="4.97" fill-opacity="0.14"/><rect x="1208.5" y="415.73" width="15.2" height="4.97" fill-opacity="0.17"/><rect x="1016.3" y="415.73" width="15.2" height="4.97" fill-opacity="0.17"/><rect x="1208.0" y="420.70" width="16.4" height="4.97" fill-opacity="0.20"/><rect x="1015.7" y="420.70" width="16.4" height="4.97" fill-opacity="0.20"/><rect x="1207.4" y="425.67" width="17.6" height="4.97" fill-opacity="0.24"/><rect x="1015.0" y="425.67" width="17.6" height="4.97" fill-opacity="0.24"/><rect x="1206.6" y="430.64" width="19.2" height="4.97" fill-opacity="0.27"/><rect x="1014.2" y="430.64" width="19.2" height="4.97" fill-opacity="0.27"/><rect x="1205.6" y="435.61" width="21.2" height="4.97" fill-opacity="0.30"/><rect x="1013.1" y="435.61" width="21.2" height="4.97" fill-opacity="0.30"/><rect x="1204.7" y="440.57" width="23.2" height="4.97" fill-opacity="0.32"/><rect x="1012.1" y="440.57" width="23.2" height="4.97" fill-opacity="0.32"/><rect x="1203.7" y="445.54" width="25.2" height="4.97" fill-opacity="0.35"/><rect x="1011.1" y="445.54" width="25.2" height="4.97" fill-opacity="0.35"/><rect x="1202.8" y="450.51" width="27.2" height="4.97" fill-opacity="0.38"/><rect x="1010.0" y="450.51" width="27.2" height="4.97" fill-opacity="0.38"/><rect x="1201.8" y="455.48" width="29.2" height="4.97" fill-opacity="0.41"/><rect x="1009.0" y="455.48" width="29.2" height="4.97" fill-opacity="0.41"/><rect x="1201.0" y="460.45" width="30.9" height="4.97" fill-opacity="0.43"/><rect x="1008.1" y="460.45" width="30.9" height="4.97" fill-opacity="0.43"/><rect x="1200.3" y="465.42" width="32.4" height="4.97" fill-opacity="0.44"/><rect x="1007.3" y="465.42" width="32.4" height="4.97" fill-opacity="0.44"/><rect x="1199.6" y="470.39" width="33.9" height="4.97" fill-opacity="0.45"/><rect x="1006.6" y="470.39" width="33.9" height="4.97" fill-opacity="0.45"/><rect x="1198.9" y="475.36" width="35.4" height="4.97" fill-opacity="0.46"/><rect x="1005.8" y="475.36" width="35.4" height="4.97" fill-opacity="0.46"/><rect x="1198.2" y="480.33" width="36.8" height="4.97" fill-opacity="0.48"/><rect x="1005.0" y="480.33" width="36.8" height="4.97" fill-opacity="0.48"/><rect x="1197.4" y="485.29" width="38.3" height="4.97" fill-opacity="0.49"/><rect x="1004.2" y="485.29" width="38.3" height="4.97" fill-opacity="0.49"/><rect x="1196.7" y="490.26" width="39.8" height="4.97" fill-opacity="0.50"/><rect x="1003.4" y="490.26" width="39.8" height="4.97" fill-opacity="0.50"/><rect x="1196.0" y="495.23" width="41.3" height="4.97" fill-opacity="0.51"/><rect x="1002.7" y="495.23" width="41.3" height="4.97" fill-opacity="0.51"/><rect x="1195.5" y="500.20" width="42.4" height="4.97" fill-opacity="0.53"/><rect x="1002.1" y="500.20" width="42.4" height="4.97" fill-opacity="0.53"/><rect x="1195.2" y="505.17" width="43.1" height="4.97" fill-opacity="0.53"/><rect x="1001.7" y="505.17" width="43.1" height="4.97" fill-opacity="0.53"/><rect x="1194.9" y="510.14" width="43.8" height="4.97" fill-opacity="0.54"/><rect x="1001.3" y="510.14" width="43.8" height="4.97" fill-opacity="0.54"/><rect x="1194.5" y="515.11" width="44.6" height="4.97" fill-opacity="0.55"/><rect x="1000.9" y="515.11" width="44.6" height="4.97" fill-opacity="0.55"/><rect x="1194.2" y="520.08" width="45.3" height="4.97" fill-opacity="0.56"/><rect x="1000.5" y="520.08" width="45.3" height="4.97" fill-opacity="0.56"/><rect x="1193.9" y="525.04" width="46.0" height="4.97" fill-opacity="0.57"/><rect x="1000.1" y="525.04" width="46.0" height="4.97" fill-opacity="0.57"/><rect x="1193.6" y="530.01" width="46.8" height="4.97" fill-opacity="0.58"/><rect x="999.7" y="530.01" width="46.8" height="4.97" fill-opacity="0.58"/><rect x="1193.2" y="534.98" width="47.5" height="4.97" fill-opacity="0.59"/><rect x="999.3" y="534.98" width="47.5" height="4.97" fill-opacity="0.59"/><rect x="1193.3" y="539.95" width="47.6" height="4.97" fill-opacity="0.60"/><rect x="999.1" y="539.95" width="47.6" height="4.97" fill-opacity="0.60"/><rect x="1194.3" y="544.92" width="46.0" height="4.97" fill-opacity="0.61"/><rect x="999.7" y="544.92" width="46.0" height="4.97" fill-opacity="0.61"/><rect x="1195.3" y="549.89" width="44.5" height="4.97" fill-opacity="0.61"/><rect x="1000.2" y="549.89" width="44.5" height="4.97" fill-opacity="0.61"/><rect x="1196.3" y="554.86" width="43.0" height="4.97" fill-opacity="0.62"/><rect x="1000.7" y="554.86" width="43.0" height="4.97" fill-opacity="0.62"/><rect x="1197.4" y="559.83" width="41.4" height="4.97" fill-opacity="0.63"/><rect x="1001.2" y="559.83" width="41.4" height="4.97" fill-opacity="0.63"/><rect x="1198.4" y="564.79" width="39.9" height="4.97" fill-opacity="0.63"/><rect x="1001.7" y="564.79" width="39.9" height="4.97" fill-opacity="0.63"/><rect x="1199.4" y="569.76" width="38.4" height="4.97" fill-opacity="0.64"/><rect x="1002.2" y="569.76" width="38.4" height="4.97" fill-opacity="0.64"/><rect x="1200.4" y="574.73" width="36.9" height="4.97" fill-opacity="0.65"/><rect x="1002.7" y="574.73" width="36.9" height="4.97" fill-opacity="0.65"/><rect x="1201.5" y="579.70" width="35.2" height="4.97" fill-opacity="0.65"/><rect x="1003.3" y="579.70" width="35.2" height="4.97" fill-opacity="0.65"/><rect x="1202.7" y="584.67" width="33.3" height="4.97" fill-opacity="0.66"/><rect x="1004.0" y="584.67" width="33.3" height="4.97" fill-opacity="0.66"/><rect x="1203.9" y="589.64" width="31.5" height="4.97" fill-opacity="0.67"/><rect x="1004.7" y="589.64" width="31.5" height="4.97" fill-opacity="0.67"/><rect x="1205.1" y="594.61" width="29.6" height="4.97" fill-opacity="0.67"/><rect x="1005.4" y="594.61" width="29.6" height="4.97" fill-opacity="0.67"/><rect x="1206.2" y="599.58" width="27.7" height="4.97" fill-opacity="0.68"/><rect x="1006.0" y="599.58" width="27.7" height="4.97" fill-opacity="0.68"/><rect x="1207.4" y="604.54" width="25.9" height="4.97" fill-opacity="0.68"/><rect x="1006.7" y="604.54" width="25.9" height="4.97" fill-opacity="0.68"/><rect x="1208.6" y="609.51" width="24.0" height="4.97" fill-opacity="0.69"/><rect x="1007.4" y="609.51" width="24.0" height="4.97" fill-opacity="0.69"/><rect x="1209.8" y="614.48" width="22.1" height="4.97" fill-opacity="0.70"/><rect x="1008.1" y="614.48" width="22.1" height="4.97" fill-opacity="0.70"/><rect x="1210.8" y="619.45" width="20.6" height="4.97" fill-opacity="0.69"/><rect x="1008.6" y="619.45" width="20.6" height="4.97" fill-opacity="0.69"/><rect x="1211.5" y="624.42" width="19.6" height="4.97" fill-opacity="0.68"/><rect x="1008.9" y="624.42" width="19.6" height="4.97" fill-opacity="0.68"/><rect x="1212.3" y="629.39" width="18.5" height="4.97" fill-opacity="0.67"/><rect x="1009.2" y="629.39" width="18.5" height="4.97" fill-opacity="0.67"/><rect x="1213.0" y="634.36" width="17.5" height="4.97" fill-opacity="0.65"/><rect x="1009.4" y="634.36" width="17.5" height="4.97" fill-opacity="0.65"/><rect x="1213.8" y="639.33" width="16.5" height="4.97" fill-opacity="0.64"/><rect x="1009.7" y="639.33" width="16.5" height="4.97" fill-opacity="0.64"/><rect x="1214.6" y="644.29" width="15.5" height="4.97" fill-opacity="0.63"/><rect x="1010.0" y="644.29" width="15.5" height="4.97" fill-opacity="0.63"/><rect x="1215.1" y="649.26" width="14.8" height="4.97" fill-opacity="0.60"/><rect x="1010.1" y="649.26" width="14.8" height="4.97" fill-opacity="0.60"/><rect x="1215.5" y="654.23" width="14.4" height="4.97" fill-opacity="0.57"/><rect x="1010.0" y="654.23" width="14.4" height="4.97" fill-opacity="0.57"/><rect x="1216.0" y="659.20" width="14.1" height="4.97" fill-opacity="0.54"/><rect x="1010.0" y="659.20" width="14.1" height="4.97" fill-opacity="0.54"/><rect x="1216.4" y="664.17" width="13.7" height="4.97" fill-opacity="0.50"/><rect x="1009.9" y="664.17" width="13.7" height="4.97" fill-opacity="0.50"/><rect x="1216.8" y="669.14" width="13.3" height="4.97" fill-opacity="0.47"/><rect x="1009.8" y="669.14" width="13.3" height="4.97" fill-opacity="0.47"/><rect x="1217.2" y="674.11" width="13.0" height="4.97" fill-opacity="0.44"/><rect x="1009.8" y="674.11" width="13.0" height="4.97" fill-opacity="0.44"/><rect x="1217.7" y="679.08" width="12.6" height="4.97" fill-opacity="0.41"/><rect x="1009.7" y="679.08" width="12.6" height="4.97" fill-opacity="0.41"/><rect x="1218.1" y="684.04" width="12.3" height="4.97" fill-opacity="0.37"/><rect x="1009.7" y="684.04" width="12.3" height="4.97" fill-opacity="0.37"/><rect x="1218.5" y="689.01" width="11.9" height="4.97" fill-opacity="0.34"/><rect x="1009.6" y="689.01" width="11.9" height="4.97" fill-opacity="0.34"/><rect x="1219.0" y="693.98" width="11.4" height="4.97" fill-opacity="0.30"/><rect x="1009.6" y="693.98" width="11.4" height="4.97" fill-opacity="0.30"/><rect x="1219.5" y="698.95" width="11.0" height="4.97" fill-opacity="0.26"/><rect x="1009.6" y="698.95" width="11.0" height="4.97" fill-opacity="0.26"/><rect x="1219.9" y="703.92" width="10.5" height="4.97" fill-opacity="0.22"/><rect x="1009.6" y="703.92" width="10.5" height="4.97" fill-opacity="0.22"/><rect x="1220.4" y="708.89" width="10.1" height="4.97" fill-opacity="0.18"/><rect x="1009.5" y="708.89" width="10.1" height="4.97" fill-opacity="0.18"/><rect x="1220.9" y="713.86" width="9.6" height="4.97" fill-opacity="0.13"/><rect x="1009.5" y="713.86" width="9.6" height="4.97" fill-opacity="0.13"/><rect x="1221.3" y="718.83" width="9.2" height="4.97" fill-opacity="0.09"/><rect x="1009.5" y="718.83" width="9.2" height="4.97" fill-opacity="0.09"/><rect x="1235.1" y="346.17" width="9.1" height="4.97" fill-opacity="0.14"/><rect x="995.8" y="346.17" width="9.1" height="4.97" fill-opacity="0.14"/><rect x="1235.0" y="351.14" width="9.4" height="4.97" fill-opacity="0.17"/><rect x="995.6" y="351.14" width="9.4" height="4.97" fill-opacity="0.17"/><rect x="1234.9" y="356.11" width="9.7" height="4.97" fill-opacity="0.21"/><rect x="995.4" y="356.11" width="9.7" height="4.97" fill-opacity="0.21"/><rect x="1234.9" y="361.07" width="9.9" height="4.97" fill-opacity="0.24"/><rect x="995.2" y="361.07" width="9.9" height="4.97" fill-opacity="0.24"/><rect x="1234.8" y="366.04" width="10.2" height="4.97" fill-opacity="0.27"/><rect x="995.0" y="366.04" width="10.2" height="4.97" fill-opacity="0.27"/><rect x="1234.7" y="371.01" width="10.5" height="4.97" fill-opacity="0.31"/><rect x="994.8" y="371.01" width="10.5" height="4.97" fill-opacity="0.31"/><rect x="1234.6" y="375.98" width="10.7" height="4.97" fill-opacity="0.34"/><rect x="994.6" y="375.98" width="10.7" height="4.97" fill-opacity="0.34"/><rect x="1234.5" y="380.95" width="11.0" height="4.97" fill-opacity="0.38"/><rect x="994.4" y="380.95" width="11.0" height="4.97" fill-opacity="0.38"/><rect x="1234.4" y="385.92" width="11.4" height="4.97" fill-opacity="0.42"/><rect x="994.2" y="385.92" width="11.4" height="4.97" fill-opacity="0.42"/><rect x="1234.3" y="390.89" width="11.7" height="4.97" fill-opacity="0.46"/><rect x="994.0" y="390.89" width="11.7" height="4.97" fill-opacity="0.46"/><rect x="1234.2" y="395.86" width="12.1" height="4.97" fill-opacity="0.51"/><rect x="993.7" y="395.86" width="12.1" height="4.97" fill-opacity="0.51"/><rect x="1234.1" y="400.82" width="12.4" height="4.97" fill-opacity="0.55"/><rect x="993.5" y="400.82" width="12.4" height="4.97" fill-opacity="0.55"/><rect x="1234.0" y="405.79" width="12.7" height="4.97" fill-opacity="0.59"/><rect x="993.3" y="405.79" width="12.7" height="4.97" fill-opacity="0.59"/><rect x="1233.9" y="410.76" width="13.1" height="4.97" fill-opacity="0.63"/><rect x="993.0" y="410.76" width="13.1" height="4.97" fill-opacity="0.63"/><rect x="1233.7" y="415.73" width="13.6" height="4.97" fill-opacity="0.65"/><rect x="992.7" y="415.73" width="13.6" height="4.97" fill-opacity="0.65"/><rect x="1233.4" y="420.70" width="14.3" height="4.97" fill-opacity="0.64"/><rect x="992.3" y="420.70" width="14.3" height="4.97" fill-opacity="0.64"/><rect x="1233.2" y="425.67" width="14.9" height="4.97" fill-opacity="0.64"/><rect x="991.9" y="425.67" width="14.9" height="4.97" fill-opacity="0.64"/><rect x="1232.9" y="430.64" width="15.6" height="4.97" fill-opacity="0.64"/><rect x="991.6" y="430.64" width="15.6" height="4.97" fill-opacity="0.64"/><rect x="1232.6" y="435.61" width="16.2" height="4.97" fill-opacity="0.63"/><rect x="991.2" y="435.61" width="16.2" height="4.97" fill-opacity="0.63"/><rect x="1232.4" y="440.57" width="16.8" height="4.97" fill-opacity="0.63"/><rect x="990.8" y="440.57" width="16.8" height="4.97" fill-opacity="0.63"/><rect x="1232.1" y="445.54" width="17.5" height="4.97" fill-opacity="0.62"/><rect x="990.4" y="445.54" width="17.5" height="4.97" fill-opacity="0.62"/><rect x="1231.7" y="450.51" width="18.5" height="4.97" fill-opacity="0.62"/><rect x="989.8" y="450.51" width="18.5" height="4.97" fill-opacity="0.62"/><rect x="1230.5" y="455.48" width="20.9" height="4.97" fill-opacity="0.60"/><rect x="988.6" y="455.48" width="20.9" height="4.97" fill-opacity="0.60"/><rect x="1229.4" y="460.45" width="23.2" height="4.97" fill-opacity="0.59"/><rect x="987.3" y="460.45" width="23.2" height="4.97" fill-opacity="0.59"/><rect x="1228.3" y="465.42" width="25.6" height="4.97" fill-opacity="0.58"/><rect x="986.1" y="465.42" width="25.6" height="4.97" fill-opacity="0.58"/><rect x="1227.2" y="470.39" width="28.0" height="4.97" fill-opacity="0.56"/><rect x="984.8" y="470.39" width="28.0" height="4.97" fill-opacity="0.56"/><rect x="1226.2" y="475.36" width="30.1" height="4.97" fill-opacity="0.55"/><rect x="983.7" y="475.36" width="30.1" height="4.97" fill-opacity="0.55"/><rect x="1226.0" y="480.33" width="30.5" height="4.97" fill-opacity="0.55"/><rect x="983.4" y="480.33" width="30.5" height="4.97" fill-opacity="0.55"/><rect x="1225.8" y="485.29" width="31.0" height="4.97" fill-opacity="0.54"/><rect x="983.1" y="485.29" width="31.0" height="4.97" fill-opacity="0.54"/><rect x="1225.7" y="490.26" width="31.5" height="4.97" fill-opacity="0.54"/><rect x="982.9" y="490.26" width="31.5" height="4.97" fill-opacity="0.54"/><rect x="1225.5" y="495.23" width="31.9" height="4.97" fill-opacity="0.53"/><rect x="982.6" y="495.23" width="31.9" height="4.97" fill-opacity="0.53"/><rect x="1225.3" y="500.20" width="32.4" height="4.97" fill-opacity="0.53"/><rect x="982.3" y="500.20" width="32.4" height="4.97" fill-opacity="0.53"/><rect x="1225.2" y="505.17" width="32.9" height="4.97" fill-opacity="0.53"/><rect x="982.0" y="505.17" width="32.9" height="4.97" fill-opacity="0.53"/><rect x="1225.0" y="510.14" width="33.3" height="4.97" fill-opacity="0.52"/><rect x="981.7" y="510.14" width="33.3" height="4.97" fill-opacity="0.52"/><rect x="1224.8" y="515.11" width="33.8" height="4.97" fill-opacity="0.52"/><rect x="981.4" y="515.11" width="33.8" height="4.97" fill-opacity="0.52"/><rect x="1224.6" y="520.08" width="34.3" height="4.97" fill-opacity="0.51"/><rect x="981.1" y="520.08" width="34.3" height="4.97" fill-opacity="0.51"/><rect x="1224.5" y="525.04" width="34.7" height="4.97" fill-opacity="0.51"/><rect x="980.8" y="525.04" width="34.7" height="4.97" fill-opacity="0.51"/><rect x="1224.3" y="530.01" width="35.2" height="4.97" fill-opacity="0.51"/><rect x="980.5" y="530.01" width="35.2" height="4.97" fill-opacity="0.51"/><rect x="1224.1" y="534.98" width="35.7" height="4.97" fill-opacity="0.50"/><rect x="980.2" y="534.98" width="35.7" height="4.97" fill-opacity="0.50"/><rect x="1224.1" y="539.95" width="35.8" height="4.97" fill-opacity="0.49"/><rect x="980.1" y="539.95" width="35.8" height="4.97" fill-opacity="0.49"/><rect x="1224.6" y="544.92" width="35.0" height="4.97" fill-opacity="0.48"/><rect x="980.4" y="544.92" width="35.0" height="4.97" fill-opacity="0.48"/><rect x="1225.0" y="549.89" width="34.3" height="4.97" fill-opacity="0.46"/><rect x="980.8" y="549.89" width="34.3" height="4.97" fill-opacity="0.46"/><rect x="1225.4" y="554.86" width="33.5" height="4.97" fill-opacity="0.44"/><rect x="981.1" y="554.86" width="33.5" height="4.97" fill-opacity="0.44"/><rect x="1225.9" y="559.83" width="32.7" height="4.97" fill-opacity="0.42"/><rect x="981.4" y="559.83" width="32.7" height="4.97" fill-opacity="0.42"/><rect x="1226.3" y="564.79" width="32.0" height="4.97" fill-opacity="0.40"/><rect x="981.8" y="564.79" width="32.0" height="4.97" fill-opacity="0.40"/><rect x="1226.7" y="569.76" width="31.2" height="4.97" fill-opacity="0.38"/><rect x="982.1" y="569.76" width="31.2" height="4.97" fill-opacity="0.38"/><rect x="1227.2" y="574.73" width="30.4" height="4.97" fill-opacity="0.36"/><rect x="982.4" y="574.73" width="30.4" height="4.97" fill-opacity="0.36"/><rect x="1227.7" y="579.70" width="29.5" height="4.97" fill-opacity="0.34"/><rect x="982.8" y="579.70" width="29.5" height="4.97" fill-opacity="0.34"/><rect x="1228.3" y="584.67" width="28.4" height="4.97" fill-opacity="0.33"/><rect x="983.3" y="584.67" width="28.4" height="4.97" fill-opacity="0.33"/><rect x="1228.9" y="589.64" width="27.3" height="4.97" fill-opacity="0.31"/><rect x="983.8" y="589.64" width="27.3" height="4.97" fill-opacity="0.31"/><rect x="1229.5" y="594.61" width="26.2" height="4.97" fill-opacity="0.29"/><rect x="984.4" y="594.61" width="26.2" height="4.97" fill-opacity="0.29"/><rect x="1230.1" y="599.58" width="25.0" height="4.97" fill-opacity="0.28"/><rect x="984.9" y="599.58" width="25.0" height="4.97" fill-opacity="0.28"/><rect x="1230.7" y="604.54" width="23.9" height="4.97" fill-opacity="0.26"/><rect x="985.4" y="604.54" width="23.9" height="4.97" fill-opacity="0.26"/><rect x="1231.3" y="609.51" width="22.8" height="4.97" fill-opacity="0.25"/><rect x="985.9" y="609.51" width="22.8" height="4.97" fill-opacity="0.25"/><rect x="1231.9" y="614.48" width="21.7" height="4.97" fill-opacity="0.23"/><rect x="986.4" y="614.48" width="21.7" height="4.97" fill-opacity="0.23"/><rect x="1232.5" y="619.45" width="20.5" height="4.97" fill-opacity="0.21"/><rect x="986.9" y="619.45" width="20.5" height="4.97" fill-opacity="0.21"/><rect x="1233.2" y="624.42" width="19.3" height="4.97" fill-opacity="0.20"/><rect x="987.5" y="624.42" width="19.3" height="4.97" fill-opacity="0.20"/><rect x="1233.8" y="629.39" width="18.2" height="4.97" fill-opacity="0.19"/><rect x="988.0" y="629.39" width="18.2" height="4.97" fill-opacity="0.19"/><rect x="1234.5" y="634.36" width="17.0" height="4.97" fill-opacity="0.17"/><rect x="988.6" y="634.36" width="17.0" height="4.97" fill-opacity="0.17"/><rect x="1235.1" y="639.33" width="15.8" height="4.97" fill-opacity="0.16"/><rect x="989.1" y="639.33" width="15.8" height="4.97" fill-opacity="0.16"/><rect x="1235.7" y="644.29" width="14.6" height="4.97" fill-opacity="0.14"/><rect x="989.7" y="644.29" width="14.6" height="4.97" fill-opacity="0.14"/><rect x="1236.2" y="649.26" width="13.7" height="4.97" fill-opacity="0.10"/><rect x="990.2" y="649.26" width="13.7" height="4.97" fill-opacity="0.10"/><rect x="1236.7" y="654.23" width="12.7" height="4.97" fill-opacity="0.06"/><rect x="990.7" y="654.23" width="12.7" height="4.97" fill-opacity="0.06"/><rect x="1293.1" y="366.04" width="9.0" height="4.97" fill-opacity="0.08"/><rect x="937.9" y="366.04" width="9.0" height="4.97" fill-opacity="0.08"/><rect x="1293.0" y="371.01" width="9.2" height="4.97" fill-opacity="0.11"/><rect x="937.8" y="371.01" width="9.2" height="4.97" fill-opacity="0.11"/><rect x="1292.9" y="375.98" width="9.4" height="4.97" fill-opacity="0.14"/><rect x="937.7" y="375.98" width="9.4" height="4.97" fill-opacity="0.14"/><rect x="1292.8" y="380.95" width="9.6" height="4.97" fill-opacity="0.17"/><rect x="937.6" y="380.95" width="9.6" height="4.97" fill-opacity="0.17"/><rect x="1292.7" y="385.92" width="9.8" height="4.97" fill-opacity="0.20"/><rect x="937.5" y="385.92" width="9.8" height="4.97" fill-opacity="0.20"/><rect x="1292.6" y="390.89" width="10.0" height="4.97" fill-opacity="0.23"/><rect x="937.4" y="390.89" width="10.0" height="4.97" fill-opacity="0.23"/><rect x="1292.5" y="395.86" width="10.2" height="4.97" fill-opacity="0.25"/><rect x="937.3" y="395.86" width="10.2" height="4.97" fill-opacity="0.25"/><rect x="1292.4" y="400.82" width="10.4" height="4.97" fill-opacity="0.28"/><rect x="937.2" y="400.82" width="10.4" height="4.97" fill-opacity="0.28"/><rect x="1292.3" y="405.79" width="10.5" height="4.97" fill-opacity="0.31"/><rect x="937.1" y="405.79" width="10.5" height="4.97" fill-opacity="0.31"/><rect x="1292.2" y="410.76" width="10.7" height="4.97" fill-opacity="0.34"/><rect x="937.0" y="410.76" width="10.7" height="4.97" fill-opacity="0.34"/><rect x="1292.0" y="415.73" width="11.2" height="4.97" fill-opacity="0.38"/><rect x="936.8" y="415.73" width="11.2" height="4.97" fill-opacity="0.38"/><rect x="1291.7" y="420.70" width="11.8" height="4.97" fill-opacity="0.43"/><rect x="936.5" y="420.70" width="11.8" height="4.97" fill-opacity="0.43"/><rect x="1291.4" y="425.67" width="12.4" height="4.97" fill-opacity="0.48"/><rect x="936.2" y="425.67" width="12.4" height="4.97" fill-opacity="0.48"/><rect x="1291.1" y="430.64" width="13.0" height="4.97" fill-opacity="0.53"/><rect x="935.9" y="430.64" width="13.0" height="4.97" fill-opacity="0.53"/><rect x="1290.3" y="435.61" width="14.6" height="4.97" fill-opacity="0.53"/><rect x="935.1" y="435.61" width="14.6" height="4.97" fill-opacity="0.53"/><rect x="1289.2" y="440.57" width="16.9" height="4.97" fill-opacity="0.50"/><rect x="934.0" y="440.57" width="16.9" height="4.97" fill-opacity="0.50"/><rect x="1288.0" y="445.54" width="19.2" height="4.97" fill-opacity="0.47"/><rect x="932.8" y="445.54" width="19.2" height="4.97" fill-opacity="0.47"/><rect x="1286.9" y="450.51" width="21.5" height="4.97" fill-opacity="0.45"/><rect x="931.7" y="450.51" width="21.5" height="4.97" fill-opacity="0.45"/><rect x="1285.6" y="455.48" width="24.0" height="4.97" fill-opacity="0.43"/><rect x="930.4" y="455.48" width="24.0" height="4.97" fill-opacity="0.43"/><rect x="1284.4" y="460.45" width="26.5" height="4.97" fill-opacity="0.41"/><rect x="929.2" y="460.45" width="26.5" height="4.97" fill-opacity="0.41"/><rect x="1283.1" y="465.42" width="29.0" height="4.97" fill-opacity="0.39"/><rect x="927.9" y="465.42" width="29.0" height="4.97" fill-opacity="0.39"/><rect x="1282.2" y="470.39" width="30.9" height="4.97" fill-opacity="0.37"/><rect x="927.0" y="470.39" width="30.9" height="4.97" fill-opacity="0.37"/><rect x="1281.4" y="475.36" width="32.4" height="4.97" fill-opacity="0.35"/><rect x="926.2" y="475.36" width="32.4" height="4.97" fill-opacity="0.35"/><rect x="1280.7" y="480.33" width="33.8" height="4.97" fill-opacity="0.33"/><rect x="925.5" y="480.33" width="33.8" height="4.97" fill-opacity="0.33"/><rect x="1279.9" y="485.29" width="35.3" height="4.97" fill-opacity="0.31"/><rect x="924.7" y="485.29" width="35.3" height="4.97" fill-opacity="0.31"/><rect x="1279.6" y="490.26" width="36.0" height="4.97" fill-opacity="0.28"/><rect x="924.4" y="490.26" width="36.0" height="4.97" fill-opacity="0.28"/><rect x="1279.6" y="495.23" width="36.0" height="4.97" fill-opacity="0.25"/><rect x="924.4" y="495.23" width="36.0" height="4.97" fill-opacity="0.25"/><rect x="1279.6" y="500.20" width="36.0" height="4.97" fill-opacity="0.22"/><rect x="924.4" y="500.20" width="36.0" height="4.97" fill-opacity="0.22"/><rect x="1280.3" y="505.17" width="34.6" height="4.97" fill-opacity="0.16"/><rect x="925.1" y="505.17" width="34.6" height="4.97" fill-opacity="0.16"/><rect x="1281.7" y="510.14" width="31.8" height="4.97" fill-opacity="0.08"/><rect x="926.5" y="510.14" width="31.8" height="4.97" fill-opacity="0.08"/><rect x="951.5" y="375.98" width="9.0" height="4.97" fill-opacity="0.05"/><rect x="951.6" y="380.95" width="9.0" height="4.97" fill-opacity="0.10"/><rect x="951.6" y="385.92" width="9.0" height="4.97" fill-opacity="0.14"/><rect x="951.7" y="390.89" width="9.0" height="4.97" fill-opacity="0.19"/><rect x="951.8" y="395.86" width="9.0" height="4.97" fill-opacity="0.23"/><rect x="951.8" y="400.82" width="9.1" height="4.97" fill-opacity="0.25"/><rect x="951.7" y="405.79" width="9.4" height="4.97" fill-opacity="0.26"/><rect x="951.7" y="410.76" width="9.6" height="4.97" fill-opacity="0.27"/><rect x="951.6" y="415.73" width="9.8" height="4.97" fill-opacity="0.27"/><rect x="951.6" y="420.70" width="10.0" height="4.97" fill-opacity="0.28"/><rect x="951.5" y="425.67" width="10.3" height="4.97" fill-opacity="0.29"/><rect x="951.5" y="430.64" width="10.5" height="4.97" fill-opacity="0.29"/><rect x="951.5" y="435.61" width="10.7" height="4.97" fill-opacity="0.30"/><rect x="951.4" y="440.57" width="11.0" height="4.97" fill-opacity="0.27"/><rect x="951.3" y="445.54" width="11.3" height="4.97" fill-opacity="0.22"/><rect x="951.2" y="450.51" width="11.6" height="4.97" fill-opacity="0.17"/><rect x="951.1" y="455.48" width="11.9" height="4.97" fill-opacity="0.12"/><rect x="987.5" y="351.14" width="9.0" height="4.97" fill-opacity="0.09"/><rect x="987.6" y="356.11" width="9.0" height="4.97" fill-opacity="0.14"/><rect x="987.7" y="361.07" width="9.0" height="4.97" fill-opacity="0.19"/><rect x="987.7" y="366.04" width="9.0" height="4.97" fill-opacity="0.24"/><rect x="987.7" y="371.01" width="9.1" height="4.97" fill-opacity="0.25"/><rect x="987.7" y="375.98" width="9.3" height="4.97" fill-opacity="0.26"/><rect x="987.6" y="380.95" width="9.5" height="4.97" fill-opacity="0.26"/><rect x="987.6" y="385.92" width="9.7" height="4.97" fill-opacity="0.26"/><rect x="987.6" y="390.89" width="9.8" height="4.97" fill-opacity="0.26"/><rect x="987.5" y="395.86" width="10.0" height="4.97" fill-opacity="0.27"/><rect x="987.5" y="400.82" width="10.2" height="4.97" fill-opacity="0.27"/><rect x="987.5" y="405.79" width="10.4" height="4.97" fill-opacity="0.27"/><rect x="987.4" y="410.76" width="10.6" height="4.97" fill-opacity="0.28"/><rect x="987.4" y="415.73" width="10.7" height="4.97" fill-opacity="0.28"/><rect x="987.3" y="420.70" width="11.0" height="4.97" fill-opacity="0.25"/><rect x="987.3" y="425.67" width="11.2" height="4.97" fill-opacity="0.20"/><rect x="987.2" y="430.64" width="11.4" height="4.97" fill-opacity="0.16"/><rect x="987.1" y="435.61" width="11.7" height="4.97" fill-opacity="0.11"/><rect x="987.0" y="440.57" width="11.9" height="4.97" fill-opacity="0.07"/><rect x="1024.7" y="430.64" width="12.6" height="4.97" fill-opacity="0.08"/><rect x="1024.2" y="435.61" width="13.6" height="4.97" fill-opacity="0.12"/><rect x="1023.7" y="440.57" width="14.6" height="4.97" fill-opacity="0.16"/><rect x="1023.2" y="445.54" width="15.6" height="4.97" fill-opacity="0.20"/><rect x="1022.7" y="450.51" width="16.6" height="4.97" fill-opacity="0.24"/><rect x="1022.2" y="455.48" width="17.6" height="4.97" fill-opacity="0.28"/><rect x="1021.9" y="460.45" width="18.1" height="4.97" fill-opacity="0.30"/><rect x="1021.8" y="465.42" width="18.4" height="4.97" fill-opacity="0.31"/><rect x="1021.7" y="470.39" width="18.6" height="4.97" fill-opacity="0.31"/><rect x="1021.6" y="475.36" width="18.9" height="4.97" fill-opacity="0.31"/><rect x="1021.4" y="480.33" width="19.1" height="4.97" fill-opacity="0.32"/><rect x="1021.3" y="485.29" width="19.4" height="4.97" fill-opacity="0.32"/><rect x="1021.2" y="490.26" width="19.6" height="4.97" fill-opacity="0.33"/><rect x="1021.1" y="495.23" width="19.9" height="4.97" fill-opacity="0.33"/><rect x="1020.9" y="500.20" width="20.1" height="4.97" fill-opacity="0.34"/><rect x="1020.8" y="505.17" width="20.4" height="4.97" fill-opacity="0.34"/><rect x="1020.7" y="510.14" width="20.6" height="4.97" fill-opacity="0.34"/><rect x="1020.6" y="515.11" width="20.9" height="4.97" fill-opacity="0.35"/><rect x="1020.6" y="520.08" width="20.8" height="4.97" fill-opacity="0.33"/><rect x="1020.8" y="525.04" width="20.4" height="4.97" fill-opacity="0.30"/><rect x="1021.0" y="530.01" width="20.1" height="4.97" fill-opacity="0.27"/><rect x="1021.2" y="534.98" width="19.7" height="4.97" fill-opacity="0.24"/><rect x="1021.3" y="539.95" width="19.3" height="4.97" fill-opacity="0.21"/><rect x="1021.5" y="544.92" width="18.9" height="4.97" fill-opacity="0.18"/><rect x="1021.7" y="549.89" width="18.6" height="4.97" fill-opacity="0.15"/><rect x="1021.9" y="554.86" width="18.2" height="4.97" fill-opacity="0.12"/><rect x="1254.8" y="505.17" width="36.4" height="4.97" fill-opacity="0.07"/><rect x="948.7" y="505.17" width="36.4" height="4.97" fill-opacity="0.07"/><rect x="1254.6" y="510.14" width="37.3" height="4.97" fill-opacity="0.10"/><rect x="948.2" y="510.14" width="37.3" height="4.97" fill-opacity="0.10"/><rect x="1254.3" y="515.11" width="38.1" height="4.97" fill-opacity="0.14"/><rect x="947.6" y="515.11" width="38.1" height="4.97" fill-opacity="0.14"/><rect x="1254.0" y="520.08" width="38.9" height="4.97" fill-opacity="0.17"/><rect x="947.1" y="520.08" width="38.9" height="4.97" fill-opacity="0.17"/><rect x="1253.7" y="525.04" width="39.8" height="4.97" fill-opacity="0.21"/><rect x="946.5" y="525.04" width="39.8" height="4.97" fill-opacity="0.21"/><rect x="1253.4" y="530.01" width="40.6" height="4.97" fill-opacity="0.24"/><rect x="946.0" y="530.01" width="40.6" height="4.97" fill-opacity="0.24"/><rect x="1253.2" y="534.98" width="41.4" height="4.97" fill-opacity="0.28"/><rect x="945.4" y="534.98" width="41.4" height="4.97" fill-opacity="0.28"/><rect x="1253.2" y="539.95" width="41.6" height="4.97" fill-opacity="0.30"/><rect x="945.2" y="539.95" width="41.6" height="4.97" fill-opacity="0.30"/><rect x="1254.1" y="544.92" width="40.0" height="4.97" fill-opacity="0.31"/><rect x="945.9" y="544.92" width="40.0" height="4.97" fill-opacity="0.31"/><rect x="1255.0" y="549.89" width="38.5" height="4.97" fill-opacity="0.31"/><rect x="946.5" y="549.89" width="38.5" height="4.97" fill-opacity="0.31"/><rect x="1255.9" y="554.86" width="37.0" height="4.97" fill-opacity="0.32"/><rect x="947.1" y="554.86" width="37.0" height="4.97" fill-opacity="0.32"/><rect x="1256.8" y="559.83" width="35.4" height="4.97" fill-opacity="0.33"/><rect x="947.8" y="559.83" width="35.4" height="4.97" fill-opacity="0.33"/><rect x="1257.7" y="564.79" width="33.9" height="4.97" fill-opacity="0.33"/><rect x="948.4" y="564.79" width="33.9" height="4.97" fill-opacity="0.33"/><rect x="1258.6" y="569.76" width="32.4" height="4.97" fill-opacity="0.34"/><rect x="949.0" y="569.76" width="32.4" height="4.97" fill-opacity="0.34"/><rect x="1259.5" y="574.73" width="30.9" height="4.97" fill-opacity="0.35"/><rect x="949.6" y="574.73" width="30.9" height="4.97" fill-opacity="0.35"/><rect x="1260.6" y="579.70" width="29.1" height="4.97" fill-opacity="0.36"/><rect x="950.3" y="579.70" width="29.1" height="4.97" fill-opacity="0.36"/><rect x="1261.8" y="584.67" width="27.1" height="4.97" fill-opacity="0.39"/><rect x="951.1" y="584.67" width="27.1" height="4.97" fill-opacity="0.39"/><rect x="1263.1" y="589.64" width="25.0" height="4.97" fill-opacity="0.42"/><rect x="951.9" y="589.64" width="25.0" height="4.97" fill-opacity="0.42"/><rect x="1264.3" y="594.61" width="23.0" height="4.97" fill-opacity="0.45"/><rect x="952.6" y="594.61" width="23.0" height="4.97" fill-opacity="0.45"/><rect x="1265.6" y="599.58" width="21.0" height="4.97" fill-opacity="0.48"/><rect x="953.4" y="599.58" width="21.0" height="4.97" fill-opacity="0.48"/><rect x="1266.9" y="604.54" width="18.9" height="4.97" fill-opacity="0.50"/><rect x="954.2" y="604.54" width="18.9" height="4.97" fill-opacity="0.50"/><rect x="1268.1" y="609.51" width="16.9" height="4.97" fill-opacity="0.53"/><rect x="955.0" y="609.51" width="16.9" height="4.97" fill-opacity="0.53"/><rect x="1269.4" y="614.48" width="14.9" height="4.97" fill-opacity="0.56"/><rect x="955.7" y="614.48" width="14.9" height="4.97" fill-opacity="0.56"/><rect x="1270.7" y="619.45" width="12.8" height="4.97" fill-opacity="0.59"/><rect x="956.5" y="619.45" width="12.8" height="4.97" fill-opacity="0.59"/><rect x="1271.4" y="624.42" width="11.9" height="4.97" fill-opacity="0.60"/><rect x="956.7" y="624.42" width="11.9" height="4.97" fill-opacity="0.60"/><rect x="1271.8" y="629.39" width="11.6" height="4.97" fill-opacity="0.60"/><rect x="956.6" y="629.39" width="11.6" height="4.97" fill-opacity="0.60"/><rect x="1272.1" y="634.36" width="11.4" height="4.97" fill-opacity="0.60"/><rect x="956.5" y="634.36" width="11.4" height="4.97" fill-opacity="0.60"/><rect x="1272.5" y="639.33" width="11.1" height="4.97" fill-opacity="0.60"/><rect x="956.4" y="639.33" width="11.1" height="4.97" fill-opacity="0.60"/><rect x="1272.9" y="644.29" width="10.9" height="4.97" fill-opacity="0.60"/><rect x="956.2" y="644.29" width="10.9" height="4.97" fill-opacity="0.60"/><rect x="1273.2" y="649.26" width="10.6" height="4.97" fill-opacity="0.57"/><rect x="956.1" y="649.26" width="10.6" height="4.97" fill-opacity="0.57"/><rect x="1273.6" y="654.23" width="10.4" height="4.97" fill-opacity="0.53"/><rect x="956.0" y="654.23" width="10.4" height="4.97" fill-opacity="0.53"/><rect x="1274.0" y="659.20" width="10.1" height="4.97" fill-opacity="0.48"/><rect x="955.9" y="659.20" width="10.1" height="4.97" fill-opacity="0.48"/><rect x="1274.4" y="664.17" width="9.8" height="4.97" fill-opacity="0.43"/><rect x="955.8" y="664.17" width="9.8" height="4.97" fill-opacity="0.43"/><rect x="1274.8" y="669.14" width="9.5" height="4.97" fill-opacity="0.38"/><rect x="955.7" y="669.14" width="9.5" height="4.97" fill-opacity="0.38"/><rect x="1275.2" y="674.11" width="9.2" height="4.97" fill-opacity="0.33"/><rect x="955.6" y="674.11" width="9.2" height="4.97" fill-opacity="0.33"/><rect x="1275.6" y="679.08" width="8.9" height="4.97" fill-opacity="0.29"/><rect x="955.5" y="679.08" width="8.9" height="4.97" fill-opacity="0.29"/><rect x="1276.0" y="684.04" width="8.6" height="4.97" fill-opacity="0.25"/><rect x="955.4" y="684.04" width="8.6" height="4.97" fill-opacity="0.25"/><rect x="1276.4" y="689.01" width="8.3" height="4.97" fill-opacity="0.22"/><rect x="955.3" y="689.01" width="8.3" height="4.97" fill-opacity="0.22"/><rect x="1276.8" y="693.98" width="8.0" height="4.97" fill-opacity="0.18"/><rect x="955.2" y="693.98" width="8.0" height="4.97" fill-opacity="0.18"/><rect x="1277.1" y="698.95" width="7.8" height="4.97" fill-opacity="0.15"/><rect x="955.1" y="698.95" width="7.8" height="4.97" fill-opacity="0.15"/><rect x="1277.5" y="703.92" width="7.5" height="4.97" fill-opacity="0.11"/><rect x="955.0" y="703.92" width="7.5" height="4.97" fill-opacity="0.11"/><rect x="1326.4" y="544.92" width="7.2" height="4.97" fill-opacity="0.06"/><rect x="906.3" y="544.92" width="7.2" height="4.97" fill-opacity="0.06"/><rect x="1326.5" y="549.89" width="7.3" height="4.97" fill-opacity="0.09"/><rect x="906.1" y="549.89" width="7.3" height="4.97" fill-opacity="0.09"/><rect x="1326.6" y="554.86" width="7.4" height="4.97" fill-opacity="0.12"/><rect x="906.0" y="554.86" width="7.4" height="4.97" fill-opacity="0.12"/><rect x="1326.7" y="559.83" width="7.5" height="4.97" fill-opacity="0.15"/><rect x="905.8" y="559.83" width="7.5" height="4.97" fill-opacity="0.15"/><rect x="1326.8" y="564.79" width="7.6" height="4.97" fill-opacity="0.18"/><rect x="905.6" y="564.79" width="7.6" height="4.97" fill-opacity="0.18"/><rect x="1326.9" y="569.76" width="7.7" height="4.97" fill-opacity="0.21"/><rect x="905.5" y="569.76" width="7.7" height="4.97" fill-opacity="0.21"/><rect x="1327.0" y="574.73" width="7.8" height="4.97" fill-opacity="0.23"/><rect x="905.3" y="574.73" width="7.8" height="4.97" fill-opacity="0.23"/><rect x="1327.0" y="579.70" width="7.8" height="4.97" fill-opacity="0.26"/><rect x="905.1" y="579.70" width="7.8" height="4.97" fill-opacity="0.26"/><rect x="1327.1" y="584.67" width="7.9" height="4.97" fill-opacity="0.28"/><rect x="905.0" y="584.67" width="7.9" height="4.97" fill-opacity="0.28"/><rect x="1327.2" y="589.64" width="8.0" height="4.97" fill-opacity="0.31"/><rect x="904.8" y="589.64" width="8.0" height="4.97" fill-opacity="0.31"/><rect x="1327.3" y="594.61" width="8.0" height="4.97" fill-opacity="0.33"/><rect x="904.6" y="594.61" width="8.0" height="4.97" fill-opacity="0.33"/><rect x="1327.4" y="599.58" width="8.1" height="4.97" fill-opacity="0.35"/><rect x="904.5" y="599.58" width="8.1" height="4.97" fill-opacity="0.35"/><rect x="1327.5" y="604.54" width="8.2" height="4.97" fill-opacity="0.37"/><rect x="904.3" y="604.54" width="8.2" height="4.97" fill-opacity="0.37"/><rect x="1327.6" y="609.51" width="8.2" height="4.97" fill-opacity="0.40"/><rect x="904.2" y="609.51" width="8.2" height="4.97" fill-opacity="0.40"/><rect x="1327.7" y="614.48" width="8.3" height="4.97" fill-opacity="0.42"/><rect x="904.0" y="614.48" width="8.3" height="4.97" fill-opacity="0.42"/><rect x="1327.8" y="619.45" width="8.4" height="4.97" fill-opacity="0.44"/><rect x="903.8" y="619.45" width="8.4" height="4.97" fill-opacity="0.44"/><rect x="1327.9" y="624.42" width="8.4" height="4.97" fill-opacity="0.45"/><rect x="903.7" y="624.42" width="8.4" height="4.97" fill-opacity="0.45"/><rect x="1328.0" y="629.39" width="8.4" height="4.97" fill-opacity="0.45"/><rect x="903.6" y="629.39" width="8.4" height="4.97" fill-opacity="0.45"/><rect x="1328.2" y="634.36" width="8.4" height="4.97" fill-opacity="0.45"/><rect x="903.4" y="634.36" width="8.4" height="4.97" fill-opacity="0.45"/><rect x="1328.3" y="639.33" width="8.4" height="4.97" fill-opacity="0.45"/><rect x="903.3" y="639.33" width="8.4" height="4.97" fill-opacity="0.45"/><rect x="1328.4" y="644.29" width="8.4" height="4.97" fill-opacity="0.45"/><rect x="903.2" y="644.29" width="8.4" height="4.97" fill-opacity="0.45"/><rect x="1328.6" y="649.26" width="8.3" height="4.97" fill-opacity="0.43"/><rect x="903.1" y="649.26" width="8.3" height="4.97" fill-opacity="0.43"/><rect x="1328.8" y="654.23" width="8.2" height="4.97" fill-opacity="0.40"/><rect x="903.0" y="654.23" width="8.2" height="4.97" fill-opacity="0.40"/><rect x="1329.0" y="659.20" width="8.0" height="4.97" fill-opacity="0.37"/><rect x="903.0" y="659.20" width="8.0" height="4.97" fill-opacity="0.37"/><rect x="1329.2" y="664.17" width="7.9" height="4.97" fill-opacity="0.34"/><rect x="902.9" y="664.17" width="7.9" height="4.97" fill-opacity="0.34"/><rect x="1329.4" y="669.14" width="7.7" height="4.97" fill-opacity="0.31"/><rect x="902.9" y="669.14" width="7.7" height="4.97" fill-opacity="0.31"/><rect x="1329.6" y="674.11" width="7.6" height="4.97" fill-opacity="0.28"/><rect x="902.8" y="674.11" width="7.6" height="4.97" fill-opacity="0.28"/><rect x="1329.8" y="679.08" width="7.4" height="4.97" fill-opacity="0.25"/><rect x="902.8" y="679.08" width="7.4" height="4.97" fill-opacity="0.25"/><rect x="1330.0" y="684.04" width="7.3" height="4.97" fill-opacity="0.22"/><rect x="902.7" y="684.04" width="7.3" height="4.97" fill-opacity="0.22"/><rect x="1330.2" y="689.01" width="7.1" height="4.97" fill-opacity="0.19"/><rect x="902.7" y="689.01" width="7.1" height="4.97" fill-opacity="0.19"/><rect x="1330.5" y="693.98" width="6.8" height="4.97" fill-opacity="0.15"/><rect x="902.7" y="693.98" width="6.8" height="4.97" fill-opacity="0.15"/><rect x="1330.7" y="698.95" width="6.6" height="4.97" fill-opacity="0.11"/><rect x="902.7" y="698.95" width="6.6" height="4.97" fill-opacity="0.11"/><rect x="1330.8" y="703.92" width="6.3" height="4.97" fill-opacity="0.07"/><rect x="902.8" y="703.92" width="6.3" height="4.97" fill-opacity="0.07"/><rect x="1331.0" y="708.89" width="6.0" height="4.97" fill-opacity="0.03"/><rect x="903.0" y="708.89" width="6.0" height="4.97" fill-opacity="0.03"/><rect x="967.5" y="559.83" width="9.0" height="4.97" fill-opacity="0.06"/><rect x="967.4" y="564.79" width="9.1" height="4.97" fill-opacity="0.09"/><rect x="967.3" y="569.76" width="9.2" height="4.97" fill-opacity="0.11"/><rect x="967.3" y="574.73" width="9.3" height="4.97" fill-opacity="0.14"/><rect x="967.2" y="579.70" width="9.3" height="4.97" fill-opacity="0.16"/><rect x="967.1" y="584.67" width="9.4" height="4.97" fill-opacity="0.19"/><rect x="967.0" y="589.64" width="9.5" height="4.97" fill-opacity="0.21"/><rect x="967.0" y="594.61" width="9.6" height="4.97" fill-opacity="0.24"/><rect x="966.9" y="599.58" width="9.6" height="4.97" fill-opacity="0.25"/><rect x="966.9" y="604.54" width="9.5" height="4.97" fill-opacity="0.25"/><rect x="966.9" y="609.51" width="9.4" height="4.97" fill-opacity="0.24"/><rect x="966.9" y="614.48" width="9.3" height="4.97" fill-opacity="0.24"/><rect x="967.0" y="619.45" width="9.3" height="4.97" fill-opacity="0.24"/><rect x="967.0" y="624.42" width="9.2" height="4.97" fill-opacity="0.23"/><rect x="967.0" y="629.39" width="9.1" height="4.97" fill-opacity="0.23"/><rect x="967.0" y="634.36" width="9.0" height="4.97" fill-opacity="0.23"/><rect x="967.0" y="639.33" width="9.0" height="4.97" fill-opacity="0.22"/><rect x="967.0" y="644.29" width="8.9" height="4.97" fill-opacity="0.22"/><rect x="967.0" y="649.26" width="8.8" height="4.97" fill-opacity="0.22"/><rect x="967.0" y="654.23" width="8.7" height="4.97" fill-opacity="0.21"/><rect x="967.0" y="659.20" width="8.7" height="4.97" fill-opacity="0.21"/><rect x="967.0" y="664.17" width="8.6" height="4.97" fill-opacity="0.21"/><rect x="967.0" y="669.14" width="8.5" height="4.97" fill-opacity="0.21"/><rect x="967.0" y="674.11" width="8.5" height="4.97" fill-opacity="0.20"/><rect x="967.0" y="679.08" width="8.3" height="4.97" fill-opacity="0.19"/><rect x="967.1" y="684.04" width="8.1" height="4.97" fill-opacity="0.16"/><rect x="967.2" y="689.01" width="8.0" height="4.97" fill-opacity="0.14"/><rect x="967.2" y="693.98" width="7.8" height="4.97" fill-opacity="0.11"/><rect x="967.3" y="698.95" width="7.6" height="4.97" fill-opacity="0.08"/><rect x="967.3" y="703.92" width="7.4" height="4.97" fill-opacity="0.06"/><rect x="916.9" y="639.33" width="6.0" height="4.97" fill-opacity="0.02"/><rect x="916.7" y="644.29" width="6.2" height="4.97" fill-opacity="0.04"/><rect x="916.5" y="649.26" width="6.3" height="4.97" fill-opacity="0.05"/><rect x="916.3" y="654.23" width="6.4" height="4.97" fill-opacity="0.06"/><rect x="916.1" y="659.20" width="6.5" height="4.97" fill-opacity="0.08"/><rect x="915.9" y="664.17" width="6.6" height="4.97" fill-opacity="0.09"/><rect x="915.7" y="669.14" width="6.8" height="4.97" fill-opacity="0.10"/><rect x="915.5" y="674.11" width="6.9" height="4.97" fill-opacity="0.12"/><rect x="915.2" y="679.08" width="7.0" height="4.97" fill-opacity="0.13"/><rect x="915.0" y="684.04" width="7.1" height="4.97" fill-opacity="0.14"/><rect x="914.8" y="689.01" width="7.2" height="4.97" fill-opacity="0.15"/><rect x="914.7" y="693.98" width="7.2" height="4.97" fill-opacity="0.15"/><rect x="914.5" y="698.95" width="7.2" height="4.97" fill-opacity="0.14"/><rect x="914.4" y="703.92" width="7.2" height="4.97" fill-opacity="0.14"/><rect x="914.2" y="708.89" width="7.2" height="4.97" fill-opacity="0.14"/><rect x="914.1" y="713.86" width="7.2" height="4.97" fill-opacity="0.13"/><rect x="913.9" y="718.83" width="7.2" height="4.97" fill-opacity="0.13"/><rect x="913.8" y="723.79" width="7.2" height="4.97" fill-opacity="0.13"/><rect x="913.6" y="728.76" width="7.2" height="4.97" fill-opacity="0.12"/><rect x="913.5" y="733.73" width="7.2" height="4.97" fill-opacity="0.12"/></g></g><rect x="903.50" y="341.20" width="435.20" height="397.50" fill="none" stroke="#000" stroke-width="2.2"/><path d="M903.50 738.70V743.7M903.50 747.8V748.9" stroke="#000" stroke-width="2.1"/><path d="M1012.30 738.70V743.7M1012.30 747.8V748.9" stroke="#000" stroke-width="2.1"/><path d="M1121.10 738.70V743.7M1121.10 747.8V748.9" stroke="#000" stroke-width="2.1"/><path d="M1229.90 738.70V743.7M1229.90 747.8V748.9" stroke="#000" stroke-width="2.1"/><path d="M1338.70 738.70V743.7M1338.70 747.8V748.9" stroke="#000" stroke-width="2.1"/><line x1="903.50" y1="381.00" x2="897.80" y2="381.00" stroke="#000" stroke-width="2.0"/><line x1="903.50" y1="460.50" x2="897.80" y2="460.50" stroke="#000" stroke-width="2.0"/><line x1="903.50" y1="540.00" x2="897.80" y2="540.00" stroke="#000" stroke-width="2.0"/><line x1="903.50" y1="619.50" x2="897.80" y2="619.50" stroke="#000" stroke-width="2.0"/><line x1="903.50" y1="699.00" x2="897.80" y2="699.00" stroke="#000" stroke-width="2.0"/><defs><linearGradient id="cbd" x1="0" y1="0" x2="0" y2="1"><stop offset="0.0000" stop-color="#000004"/><stop offset="0.0208" stop-color="#02020c"/><stop offset="0.0417" stop-color="#050417"/><stop offset="0.0625" stop-color="#0b0724"/><stop offset="0.0833" stop-color="#110a30"/><stop offset="0.1042" stop-color="#180c3c"/><stop offset="0.1250" stop-color="#210c4a"/><stop offset="0.1458" stop-color="#290b55"/><stop offset="0.1667" stop-color="#320a5e"/><stop offset="0.1875" stop-color="#3d0965"/><stop offset="0.2083" stop-color="#450a69"/><stop offset="0.2292" stop-color="#4d0d6c"/><stop offset="0.2500" stop-color="#57106e"/><stop offset="0.2708" stop-color="#5f136e"/><stop offset="0.2917" stop-color="#67166e"/><stop offset="0.3125" stop-color="#71196e"/><stop offset="0.3333" stop-color="#781c6d"/><stop offset="0.3542" stop-color="#801f6c"/><stop offset="0.3750" stop-color="#8a226a"/><stop offset="0.3958" stop-color="#922568"/><stop offset="0.4167" stop-color="#9a2865"/><stop offset="0.4375" stop-color="#a32c61"/><stop offset="0.4583" stop-color="#ab2f5e"/><stop offset="0.4792" stop-color="#b3325a"/><stop offset="0.5000" stop-color="#bc3754"/><stop offset="0.5208" stop-color="#c33b4f"/><stop offset="0.5417" stop-color="#ca404a"/><stop offset="0.5625" stop-color="#d24644"/><stop offset="0.5833" stop-color="#d84c3e"/><stop offset="0.6042" stop-color="#de5238"/><stop offset="0.6250" stop-color="#e45a31"/><stop offset="0.6458" stop-color="#e9612b"/><stop offset="0.6667" stop-color="#ed6925"/><stop offset="0.6875" stop-color="#f1731d"/><stop offset="0.7083" stop-color="#f57b17"/><stop offset="0.7292" stop-color="#f78410"/><stop offset="0.7500" stop-color="#f98e09"/><stop offset="0.7708" stop-color="#fb9706"/><stop offset="0.7917" stop-color="#fca108"/><stop offset="0.8125" stop-color="#fcac11"/><stop offset="0.8333" stop-color="#fbb61a"/><stop offset="0.8542" stop-color="#fac026"/><stop offset="0.8750" stop-color="#f9cb35"/><stop offset="0.8958" stop-color="#f6d543"/><stop offset="0.9167" stop-color="#f4df53"/><stop offset="0.9375" stop-color="#f2ea69"/><stop offset="0.9583" stop-color="#f2f27d"/><stop offset="0.9792" stop-color="#f5f992"/><stop offset="1.0000" stop-color="#fcffa4"/></linearGradient></defs><rect x="1366.4" y="342.1" width="19.399999999999864" height="396.69999999999993" fill="url(#cbd)"/><rect x="1366.40" y="342.10" width="19.40" height="396.70" fill="none" stroke="#000" stroke-width="2.2"/><line x1="1385.80" y1="342.10" x2="1391.50" y2="342.10" stroke="#000" stroke-width="2.0"/><line x1="1385.80" y1="421.44" x2="1391.50" y2="421.44" stroke="#000" stroke-width="2.0"/><line x1="1385.80" y1="500.78" x2="1391.50" y2="500.78" stroke="#000" stroke-width="2.0"/><line x1="1385.80" y1="580.12" x2="1391.50" y2="580.12" stroke="#000" stroke-width="2.0"/><line x1="1385.80" y1="659.46" x2="1391.50" y2="659.46" stroke="#000" stroke-width="2.0"/><line x1="1385.80" y1="738.80" x2="1391.50" y2="738.80" stroke="#000" stroke-width="2.0"/><g transform="translate(130.03,272.55)"><text font-size="26.5">0</text></g><g transform="translate(279.35,272.05)"><text font-size="26.5">1</text></g><g transform="translate(429.67,272.55)"><text font-size="26.5">2</text></g><g transform="translate(579.12,272.55)"><text font-size="26.5">3</text></g><g transform="translate(63.30,43.90)"><text font-size="26.5">0.0</text></g><g transform="translate(41.80,144.45)"><text font-size="26.5">−0.5</text></g><g transform="translate(41.30,245.00)"><text font-size="26.5">−1.0</text></g><g transform="translate(225.95,302.87) scale(0.9999,1.0046)"><text font-size="34">Pulse Seq. Time (<tspan font-style="oblique">μ</tspan>s)</text></g><g transform="translate(32.32,172.29) scale(0.9756,0.9569)"><text font-size="34" transform="rotate(-90)">2⟨<tspan font-style="oblique">E</tspan><tspan font-size="23.8" dy="5.1" font-style="oblique">z</tspan><tspan dy="-5.1">⟩</tspan></text></g><g transform="translate(916.12,272.55)"><text font-size="26.5">0</text></g><g transform="translate(1075.10,272.05)"><text font-size="26.5">5</text></g><g transform="translate(1224.70,272.55)"><text font-size="26.5">10</text></g><g transform="translate(1383.80,272.05)"><text font-size="26.5">15</text></g><g transform="translate(849.80,44.15)"><text font-size="26.5">0.0</text></g><g transform="translate(828.30,145.05)"><text font-size="26.5">−0.5</text></g><g transform="translate(827.80,245.95)"><text font-size="26.5">−1.0</text></g><g transform="translate(1001.66,302.87) scale(0.9984,1.0046)"><text font-size="34">Pulse Seq. Time (<tspan font-style="oblique">μ</tspan>s)</text></g><g transform="translate(819.11,167.42) scale(0.9789,0.9670)"><text font-size="34" transform="rotate(-90)">2⟨<tspan font-style="oblique">I</tspan><tspan font-size="23.8" dy="5.1" font-style="oblique">z</tspan><tspan dy="-5.1">⟩</tspan></text></g><g transform="translate(102.78,769.05)"><text font-size="26.5">−2</text></g><g transform="translate(211.38,768.55)"><text font-size="26.5">−1</text></g><g transform="translate(331.23,769.05)"><text font-size="26.5">0</text></g><g transform="translate(439.45,768.55)"><text font-size="26.5">1</text></g><g transform="translate(548.67,769.05)"><text font-size="26.5">2</text></g><g transform="translate(72.45,391.81)"><text font-size="26.5">0.4</text></g><g transform="translate(73.70,471.13)"><text font-size="26.5">0.2</text></g><g transform="translate(72.70,550.45)"><text font-size="26.5">0.0</text></g><g transform="translate(51.45,629.77)"><text font-size="26.5">−0.2</text></g><g transform="translate(50.45,709.09)"><text font-size="26.5">−0.4</text></g><g transform="translate(611.45,352.35)"><text font-size="26.5">0.0</text></g><g transform="translate(610.45,431.69)"><text font-size="26.5">−0.2</text></g><g transform="translate(610.45,511.03)"><text font-size="26.5">−0.4</text></g><g transform="translate(610.45,590.37)"><text font-size="26.5">−0.6</text></g><g transform="translate(610.45,669.71)"><text font-size="26.5">−0.8</text></g><g transform="translate(610.45,749.05)"><text font-size="26.5">−1.0</text></g><g transform="translate(294.74,801.43) scale(1.0256,0.9843)"><text font-size="32">Δ<tspan font-size="22.4" dy="5.12" font-style="oblique">NV</tspan><tspan dy="-5.12">/Ω</tspan></text></g><g transform="translate(40.95,598.59) scale(1.0276,1.0290)"><text font-size="32" transform="rotate(-90)">Ω<tspan font-size="22.4" dy="5.12" font-style="oblique">error</tspan><tspan dy="-5.12">/Ω</tspan></text></g><g transform="translate(691.30,498.55) scale(1.0310,1.0208)"><text font-size="32" transform="rotate(90)">2⟨<tspan font-style="oblique">E</tspan><tspan font-size="22.4" dy="4.8" font-style="oblique">z</tspan><tspan dy="-4.8">⟩</tspan></text></g><g transform="translate(883.87,771.75)"><text font-size="26.5">−2</text></g><g transform="translate(992.67,771.25)"><text font-size="26.5">−1</text></g><g transform="translate(1112.72,771.75)"><text font-size="26.5">0</text></g><g transform="translate(1221.15,771.25)"><text font-size="26.5">1</text></g><g transform="translate(1330.57,771.75)"><text font-size="26.5">2</text></g><g transform="translate(853.55,391.75)"><text font-size="26.5">0.4</text></g><g transform="translate(854.80,471.25)"><text font-size="26.5">0.2</text></g><g transform="translate(853.80,550.75)"><text font-size="26.5">0.0</text></g><g transform="translate(832.55,630.25)"><text font-size="26.5">−0.2</text></g><g transform="translate(831.55,709.75)"><text font-size="26.5">−0.4</text></g><g transform="translate(1393.05,352.85)"><text font-size="26.5">0.0</text></g><g transform="translate(1392.05,432.19)"><text font-size="26.5">−0.2</text></g><g transform="translate(1392.05,511.53)"><text font-size="26.5">−0.4</text></g><g transform="translate(1392.05,590.87)"><text font-size="26.5">−0.6</text></g><g transform="translate(1392.05,670.21)"><text font-size="26.5">−0.8</text></g><g transform="translate(1392.05,749.55)"><text font-size="26.5">−1.0</text></g><g transform="translate(1076.44,804.38) scale(1.0268,0.9948)"><text font-size="32">Δ<tspan font-size="22.4" dy="5.12" font-style="oblique">NV</tspan><tspan dy="-5.12">/Ω</tspan></text></g><g transform="translate(822.61,598.89) scale(1.0345,1.0290)"><text font-size="32" transform="rotate(-90)">Ω<tspan font-size="22.4" dy="5.12" font-style="oblique">error</tspan><tspan dy="-5.12">/Ω</tspan></text></g><g transform="translate(1474.16,500.30) scale(1.0448,1.0400)"><text font-size="32" transform="rotate(90)">2⟨<tspan font-style="oblique">I</tspan><tspan font-size="22.4" dy="4.8" font-style="oblique">z</tspan><tspan dy="-4.8">⟩</tspan></text></g><g transform="translate(-0.55,26.09) scale(0.9253,1.0016)"><text font-size="34" style="font-family:'Liberation Sans',sans-serif">(a)</text></g><g transform="translate(-1.03,365.52) scale(0.9627,0.9968)"><text font-size="34" style="font-family:'Liberation Sans',sans-serif">(b)</text></g><g transform="translate(790.28,24.89) scale(0.9099,0.9873)"><text font-size="34" style="font-family:'Liberation Sans',sans-serif">(c)</text></g><g transform="translate(785.17,362.73) scale(0.9627,1.0095)"><text font-size="34" style="font-family:'Liberation Sans',sans-serif">(d)</text></g>
</svg>
</body></html>
